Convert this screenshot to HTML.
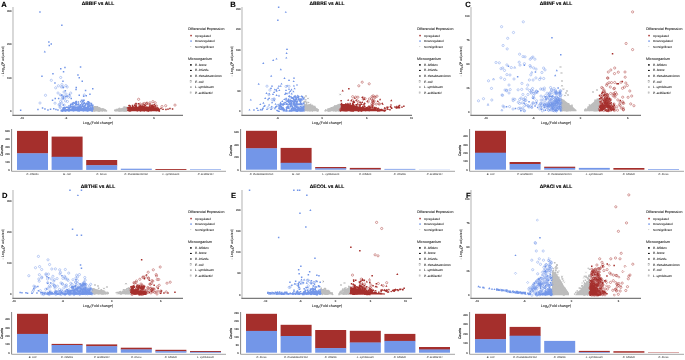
<!DOCTYPE html>
<html><head><meta charset="utf-8"><style>
html,body{margin:0;padding:0;background:#fff;width:685px;height:360px;overflow:hidden}
svg{display:block;will-change:transform}
text{font-family:"Liberation Sans",sans-serif;text-rendering:geometricPrecision}
</style></head><body>
<svg width="685" height="360" viewBox="0 0 685 360">
<rect width="685" height="360" fill="#fff"/>
<line x1="13" y1="7" x2="13" y2="115.4" stroke="#c4c4c4" stroke-width="1.3"/>
<line x1="12.4" y1="115.4" x2="183" y2="115.4" stroke="#7a7a7a" stroke-width="1.1"/>
<text x="1.20" y="7.40" font-size="7.6" text-anchor="start" font-weight="bold" font-style="normal" fill="#000" stroke="#000" stroke-width="0.12" >A</text>
<text x="98.00" y="4.90" font-size="4.9" text-anchor="middle" font-weight="bold" font-style="normal" fill="#000" stroke="#000" stroke-width="0.12" >ΔBBIF vs ALL</text>
<text x="11.60" y="112.00" font-size="2.7" text-anchor="end" font-weight="normal" font-style="normal" fill="#444" stroke="#444" stroke-width="0.12" >0</text>
<text x="11.60" y="78.50" font-size="2.7" text-anchor="end" font-weight="normal" font-style="normal" fill="#444" stroke="#444" stroke-width="0.12" >100</text>
<text x="11.60" y="45.00" font-size="2.7" text-anchor="end" font-weight="normal" font-style="normal" fill="#444" stroke="#444" stroke-width="0.12" >200</text>
<text x="11.60" y="11.50" font-size="2.7" text-anchor="end" font-weight="normal" font-style="normal" fill="#444" stroke="#444" stroke-width="0.12" >300</text>
<text x="22.00" y="119.40" font-size="2.7" text-anchor="middle" font-weight="normal" font-style="normal" fill="#444" stroke="#444" stroke-width="0.12" >-10</text>
<text x="66.00" y="119.40" font-size="2.7" text-anchor="middle" font-weight="normal" font-style="normal" fill="#444" stroke="#444" stroke-width="0.12" >-5</text>
<text x="110.00" y="119.40" font-size="2.7" text-anchor="middle" font-weight="normal" font-style="normal" fill="#444" stroke="#444" stroke-width="0.12" >0</text>
<text x="154.00" y="119.40" font-size="2.7" text-anchor="middle" font-weight="normal" font-style="normal" fill="#444" stroke="#444" stroke-width="0.12" >5</text>
<text x="98" y="123.9" font-size="3.7" text-anchor="middle" fill="#111" stroke="#111" stroke-width="0.04">Log<tspan font-size="2.6" dy="0.8">2</tspan><tspan dy="-0.8">(Fold change)</tspan></text>
<text transform="translate(3.9,61.3) rotate(-90)" font-size="3.6" text-anchor="middle" fill="#111" stroke="#111" stroke-width="0.04">- Log<tspan font-size="2.5" dy="0.7">10</tspan><tspan dy="-0.7">(P adjusted)</tspan></text>
<text x="188.00" y="30.20" font-size="3.57" text-anchor="start" font-weight="normal" font-style="normal" fill="#222" stroke="#222" stroke-width="0.06" >Differencial Expression</text>
<rect x="190.3" y="34.85" width="1.5" height="1.5" fill="#a52f2c"/>
<text x="195.00" y="36.60" font-size="2.92" text-anchor="start" font-weight="normal" font-style="normal" fill="#222" stroke="#222" stroke-width="0.06" >Upregulated</text>
<rect x="190.3" y="40.35" width="1.5" height="1.5" fill="#7396e8"/>
<text x="195.00" y="42.10" font-size="2.92" text-anchor="start" font-weight="normal" font-style="normal" fill="#222" stroke="#222" stroke-width="0.06" >Downregulated</text>
<rect x="190.3" y="46.15" width="0.9" height="0.9" fill="#bdbdbd"/>
<text x="195.00" y="47.60" font-size="2.92" text-anchor="start" font-weight="normal" font-style="normal" fill="#222" stroke="#222" stroke-width="0.06" >Not Significant</text>
<text x="188.00" y="59.80" font-size="3.67" text-anchor="start" font-weight="normal" font-style="normal" fill="#222" stroke="#222" stroke-width="0.06" >Microorganism</text>
<rect x="190.1" y="64.10000000000001" width="1.6" height="1.6" fill="#111"/>
<text x="195.00" y="65.90" font-size="3.1" text-anchor="start" font-weight="normal" font-style="italic" fill="#222" stroke="#222" stroke-width="0.06" >B. breve</text>
<rect x="190.0" y="69.9" width="1.8" height="1.1" fill="#111"/>
<text x="195.00" y="71.45" font-size="3.1" text-anchor="start" font-weight="normal" font-style="italic" fill="#222" stroke="#222" stroke-width="0.06" >B. infantis</text>
<rect x="190.15" y="75.25" width="1.5" height="1.5" fill="#444"/>
<text x="195.00" y="77.00" font-size="3.1" text-anchor="start" font-weight="normal" font-style="italic" fill="#222" stroke="#222" stroke-width="0.06" >B. thetaiotaomicron</text>
<rect x="190.1" y="80.75000000000001" width="1.6" height="1.6" fill="none" stroke="#999" stroke-width="0.45"/>
<text x="195.00" y="82.55" font-size="3.1" text-anchor="start" font-weight="normal" font-style="italic" fill="#222" stroke="#222" stroke-width="0.06" >E. coli</text>
<rect x="190.20000000000002" y="86.4" width="1.4" height="1.4" fill="#888"/>
<text x="195.00" y="88.10" font-size="3.1" text-anchor="start" font-weight="normal" font-style="italic" fill="#222" stroke="#222" stroke-width="0.06" >L. symbiosum</text>
<rect x="190.1" y="91.85000000000001" width="1.6" height="1.6" fill="none" stroke="#aaa" stroke-width="0.45"/>
<text x="195.00" y="93.65" font-size="3.1" text-anchor="start" font-weight="normal" font-style="italic" fill="#222" stroke="#222" stroke-width="0.06" >P. acidilactici</text>
<line x1="11.6" y1="129" x2="11.6" y2="171.3" stroke="#555" stroke-width="0.7"/>
<line x1="11.6" y1="171.3" x2="226" y2="171.3" stroke="#9a9a9a" stroke-width="0.9"/>
<text x="9.80" y="170.90" font-size="2.7" text-anchor="end" font-weight="normal" font-style="normal" fill="#444" stroke="#444" stroke-width="0.12" >0</text>
<text x="9.80" y="163.10" font-size="2.7" text-anchor="end" font-weight="normal" font-style="normal" fill="#444" stroke="#444" stroke-width="0.12" >100</text>
<text x="9.80" y="155.30" font-size="2.7" text-anchor="end" font-weight="normal" font-style="normal" fill="#444" stroke="#444" stroke-width="0.12" >200</text>
<text x="9.80" y="147.50" font-size="2.7" text-anchor="end" font-weight="normal" font-style="normal" fill="#444" stroke="#444" stroke-width="0.12" >300</text>
<text x="9.80" y="139.70" font-size="2.7" text-anchor="end" font-weight="normal" font-style="normal" fill="#444" stroke="#444" stroke-width="0.12" >400</text>
<text x="9.80" y="131.90" font-size="2.7" text-anchor="end" font-weight="normal" font-style="normal" fill="#444" stroke="#444" stroke-width="0.12" >500</text>
<text transform="translate(3.4,150.5) rotate(-90)" font-size="3.5" text-anchor="middle" fill="#111" stroke="#111" stroke-width="0.14">Counts</text>
<rect x="17.00" y="130.90" width="31" height="22.70" fill="#a52f2c"/>
<rect x="17.00" y="153.30" width="31" height="16.60" fill="#7396e8"/>
<text x="32.50" y="175.40" font-size="2.76" text-anchor="middle" font-weight="normal" font-style="italic" fill="#333" stroke="#333" stroke-width="0.02" >B. infantis</text>
<rect x="51.60" y="136.60" width="31" height="20.50" fill="#a52f2c"/>
<rect x="51.60" y="156.80" width="31" height="13.10" fill="#7396e8"/>
<text x="67.10" y="175.40" font-size="2.76" text-anchor="middle" font-weight="normal" font-style="italic" fill="#333" stroke="#333" stroke-width="0.02" >E. coli</text>
<rect x="86.20" y="160.00" width="31" height="5.50" fill="#a52f2c"/>
<rect x="86.20" y="165.20" width="31" height="4.70" fill="#7396e8"/>
<text x="101.70" y="175.40" font-size="2.76" text-anchor="middle" font-weight="normal" font-style="italic" fill="#333" stroke="#333" stroke-width="0.02" >B. breve</text>
<rect x="120.80" y="168.70" width="31" height="1.20" fill="#7396e8"/>
<text x="136.30" y="175.40" font-size="2.76" text-anchor="middle" font-weight="normal" font-style="italic" fill="#333" stroke="#333" stroke-width="0.02" >B. thetaiotaomicron</text>
<rect x="155.40" y="169.00" width="31" height="0.90" fill="#a52f2c"/>
<text x="170.90" y="175.40" font-size="2.76" text-anchor="middle" font-weight="normal" font-style="italic" fill="#333" stroke="#333" stroke-width="0.02" >L. symbiosum</text>
<rect x="190.00" y="169.30" width="31" height="0.60" fill="#7396e8"/>
<text x="205.50" y="175.40" font-size="2.76" text-anchor="middle" font-weight="normal" font-style="italic" fill="#333" stroke="#333" stroke-width="0.02" >P. acidilactici</text>
<line x1="242" y1="7" x2="242" y2="115.4" stroke="#c4c4c4" stroke-width="1.3"/>
<line x1="241.4" y1="115.4" x2="412" y2="115.4" stroke="#7a7a7a" stroke-width="1.1"/>
<text x="230.20" y="7.40" font-size="7.6" text-anchor="start" font-weight="bold" font-style="normal" fill="#000" stroke="#000" stroke-width="0.12" >B</text>
<text x="327.00" y="4.90" font-size="4.9" text-anchor="middle" font-weight="bold" font-style="normal" fill="#000" stroke="#000" stroke-width="0.12" >ΔBBRE vs ALL</text>
<text x="240.60" y="112.20" font-size="2.7" text-anchor="end" font-weight="normal" font-style="normal" fill="#444" stroke="#444" stroke-width="0.12" >0</text>
<text x="240.60" y="91.70" font-size="2.7" text-anchor="end" font-weight="normal" font-style="normal" fill="#444" stroke="#444" stroke-width="0.12" >50</text>
<text x="240.60" y="71.20" font-size="2.7" text-anchor="end" font-weight="normal" font-style="normal" fill="#444" stroke="#444" stroke-width="0.12" >100</text>
<text x="240.60" y="50.70" font-size="2.7" text-anchor="end" font-weight="normal" font-style="normal" fill="#444" stroke="#444" stroke-width="0.12" >150</text>
<text x="240.60" y="30.20" font-size="2.7" text-anchor="end" font-weight="normal" font-style="normal" fill="#444" stroke="#444" stroke-width="0.12" >200</text>
<text x="240.60" y="9.70" font-size="2.7" text-anchor="end" font-weight="normal" font-style="normal" fill="#444" stroke="#444" stroke-width="0.12" >250</text>
<text x="277.60" y="119.40" font-size="2.7" text-anchor="middle" font-weight="normal" font-style="normal" fill="#444" stroke="#444" stroke-width="0.12" >-5</text>
<text x="322.20" y="119.40" font-size="2.7" text-anchor="middle" font-weight="normal" font-style="normal" fill="#444" stroke="#444" stroke-width="0.12" >0</text>
<text x="366.80" y="119.40" font-size="2.7" text-anchor="middle" font-weight="normal" font-style="normal" fill="#444" stroke="#444" stroke-width="0.12" >5</text>
<text x="411.40" y="119.40" font-size="2.7" text-anchor="middle" font-weight="normal" font-style="normal" fill="#444" stroke="#444" stroke-width="0.12" >10</text>
<text x="327" y="123.9" font-size="3.7" text-anchor="middle" fill="#111" stroke="#111" stroke-width="0.04">Log<tspan font-size="2.6" dy="0.8">2</tspan><tspan dy="-0.8">(Fold change)</tspan></text>
<text transform="translate(232.9,61.3) rotate(-90)" font-size="3.6" text-anchor="middle" fill="#111" stroke="#111" stroke-width="0.04">- Log<tspan font-size="2.5" dy="0.7">10</tspan><tspan dy="-0.7">(P adjusted)</tspan></text>
<text x="417.00" y="30.20" font-size="3.57" text-anchor="start" font-weight="normal" font-style="normal" fill="#222" stroke="#222" stroke-width="0.06" >Differencial Expression</text>
<rect x="419.3" y="34.85" width="1.5" height="1.5" fill="#a52f2c"/>
<text x="424.00" y="36.60" font-size="2.92" text-anchor="start" font-weight="normal" font-style="normal" fill="#222" stroke="#222" stroke-width="0.06" >Upregulated</text>
<rect x="419.3" y="40.35" width="1.5" height="1.5" fill="#7396e8"/>
<text x="424.00" y="42.10" font-size="2.92" text-anchor="start" font-weight="normal" font-style="normal" fill="#222" stroke="#222" stroke-width="0.06" >Downregulated</text>
<rect x="419.3" y="46.15" width="0.9" height="0.9" fill="#bdbdbd"/>
<text x="424.00" y="47.60" font-size="2.92" text-anchor="start" font-weight="normal" font-style="normal" fill="#222" stroke="#222" stroke-width="0.06" >Not Significant</text>
<text x="417.00" y="59.80" font-size="3.67" text-anchor="start" font-weight="normal" font-style="normal" fill="#222" stroke="#222" stroke-width="0.06" >Microorganism</text>
<rect x="419.09999999999997" y="64.10000000000001" width="1.6" height="1.6" fill="#111"/>
<text x="424.00" y="65.90" font-size="3.1" text-anchor="start" font-weight="normal" font-style="italic" fill="#222" stroke="#222" stroke-width="0.06" >B. bifidum</text>
<rect x="419.0" y="69.9" width="1.8" height="1.1" fill="#111"/>
<text x="424.00" y="71.45" font-size="3.1" text-anchor="start" font-weight="normal" font-style="italic" fill="#222" stroke="#222" stroke-width="0.06" >B. infantis</text>
<rect x="419.15" y="75.25" width="1.5" height="1.5" fill="#444"/>
<text x="424.00" y="77.00" font-size="3.1" text-anchor="start" font-weight="normal" font-style="italic" fill="#222" stroke="#222" stroke-width="0.06" >B. thetaiotaomicron</text>
<rect x="419.09999999999997" y="80.75000000000001" width="1.6" height="1.6" fill="none" stroke="#999" stroke-width="0.45"/>
<text x="424.00" y="82.55" font-size="3.1" text-anchor="start" font-weight="normal" font-style="italic" fill="#222" stroke="#222" stroke-width="0.06" >E. coli</text>
<rect x="419.2" y="86.4" width="1.4" height="1.4" fill="#888"/>
<text x="424.00" y="88.10" font-size="3.1" text-anchor="start" font-weight="normal" font-style="italic" fill="#222" stroke="#222" stroke-width="0.06" >L. symbiosum</text>
<rect x="419.09999999999997" y="91.85000000000001" width="1.6" height="1.6" fill="none" stroke="#aaa" stroke-width="0.45"/>
<text x="424.00" y="93.65" font-size="3.1" text-anchor="start" font-weight="normal" font-style="italic" fill="#222" stroke="#222" stroke-width="0.06" >P. acidilactici</text>
<line x1="240.6" y1="129" x2="240.6" y2="171.3" stroke="#555" stroke-width="0.7"/>
<line x1="240.6" y1="171.3" x2="455" y2="171.3" stroke="#9a9a9a" stroke-width="0.9"/>
<text x="238.80" y="170.70" font-size="2.7" text-anchor="end" font-weight="normal" font-style="normal" fill="#444" stroke="#444" stroke-width="0.12" >0</text>
<text x="238.80" y="158.20" font-size="2.7" text-anchor="end" font-weight="normal" font-style="normal" fill="#444" stroke="#444" stroke-width="0.12" >200</text>
<text x="238.80" y="145.70" font-size="2.7" text-anchor="end" font-weight="normal" font-style="normal" fill="#444" stroke="#444" stroke-width="0.12" >400</text>
<text x="238.80" y="133.20" font-size="2.7" text-anchor="end" font-weight="normal" font-style="normal" fill="#444" stroke="#444" stroke-width="0.12" >600</text>
<text transform="translate(232.4,150.5) rotate(-90)" font-size="3.5" text-anchor="middle" fill="#111" stroke="#111" stroke-width="0.14">Counts</text>
<rect x="246.00" y="130.80" width="31" height="17.80" fill="#a52f2c"/>
<rect x="246.00" y="148.30" width="31" height="21.40" fill="#7396e8"/>
<text x="261.50" y="175.40" font-size="2.76" text-anchor="middle" font-weight="normal" font-style="italic" fill="#333" stroke="#333" stroke-width="0.02" >B. thetaiotaomicron</text>
<rect x="280.60" y="147.90" width="31" height="15.20" fill="#a52f2c"/>
<rect x="280.60" y="162.80" width="31" height="6.90" fill="#7396e8"/>
<text x="296.10" y="175.40" font-size="2.76" text-anchor="middle" font-weight="normal" font-style="italic" fill="#333" stroke="#333" stroke-width="0.02" >E. coli</text>
<rect x="315.20" y="167.00" width="31" height="1.60" fill="#a52f2c"/>
<rect x="315.20" y="168.30" width="31" height="1.40" fill="#7396e8"/>
<text x="330.70" y="175.40" font-size="2.76" text-anchor="middle" font-weight="normal" font-style="italic" fill="#333" stroke="#333" stroke-width="0.02" >L. symbiosum</text>
<rect x="349.80" y="167.90" width="31" height="1.70" fill="#a52f2c"/>
<rect x="349.80" y="169.30" width="31" height="0.40" fill="#7396e8"/>
<text x="365.30" y="175.40" font-size="2.76" text-anchor="middle" font-weight="normal" font-style="italic" fill="#333" stroke="#333" stroke-width="0.02" >B. bifidum</text>
<rect x="384.40" y="168.90" width="31" height="0.80" fill="#7396e8"/>
<text x="399.90" y="175.40" font-size="2.76" text-anchor="middle" font-weight="normal" font-style="italic" fill="#333" stroke="#333" stroke-width="0.02" >B. infantis</text>
<rect x="419.00" y="169.50" width="31" height="0.20" fill="#7396e8"/>
<text x="434.50" y="175.40" font-size="2.76" text-anchor="middle" font-weight="normal" font-style="italic" fill="#333" stroke="#333" stroke-width="0.02" >P. acidilactici</text>
<line x1="471" y1="7" x2="471" y2="115.4" stroke="#c4c4c4" stroke-width="1.3"/>
<line x1="470.4" y1="115.4" x2="641" y2="115.4" stroke="#7a7a7a" stroke-width="1.1"/>
<text x="465.20" y="7.40" font-size="7.6" text-anchor="start" font-weight="bold" font-style="normal" fill="#000" stroke="#000" stroke-width="0.12" >C</text>
<text x="556.00" y="4.90" font-size="4.9" text-anchor="middle" font-weight="bold" font-style="normal" fill="#000" stroke="#000" stroke-width="0.12" >ΔBINF vs ALL</text>
<text x="469.60" y="112.50" font-size="2.7" text-anchor="end" font-weight="normal" font-style="normal" fill="#444" stroke="#444" stroke-width="0.12" >0</text>
<text x="469.60" y="88.60" font-size="2.7" text-anchor="end" font-weight="normal" font-style="normal" fill="#444" stroke="#444" stroke-width="0.12" >25</text>
<text x="469.60" y="64.70" font-size="2.7" text-anchor="end" font-weight="normal" font-style="normal" fill="#444" stroke="#444" stroke-width="0.12" >50</text>
<text x="469.60" y="40.80" font-size="2.7" text-anchor="end" font-weight="normal" font-style="normal" fill="#444" stroke="#444" stroke-width="0.12" >75</text>
<text x="469.60" y="16.90" font-size="2.7" text-anchor="end" font-weight="normal" font-style="normal" fill="#444" stroke="#444" stroke-width="0.12" >100</text>
<text x="485.90" y="119.40" font-size="2.7" text-anchor="middle" font-weight="normal" font-style="normal" fill="#444" stroke="#444" stroke-width="0.12" >-10</text>
<text x="533.20" y="119.40" font-size="2.7" text-anchor="middle" font-weight="normal" font-style="normal" fill="#444" stroke="#444" stroke-width="0.12" >-5</text>
<text x="580.50" y="119.40" font-size="2.7" text-anchor="middle" font-weight="normal" font-style="normal" fill="#444" stroke="#444" stroke-width="0.12" >0</text>
<text x="627.80" y="119.40" font-size="2.7" text-anchor="middle" font-weight="normal" font-style="normal" fill="#444" stroke="#444" stroke-width="0.12" >5</text>
<text x="556" y="123.9" font-size="3.7" text-anchor="middle" fill="#111" stroke="#111" stroke-width="0.04">Log<tspan font-size="2.6" dy="0.8">2</tspan><tspan dy="-0.8">(Fold change)</tspan></text>
<text transform="translate(461.9,61.3) rotate(-90)" font-size="3.6" text-anchor="middle" fill="#111" stroke="#111" stroke-width="0.04">- Log<tspan font-size="2.5" dy="0.7">10</tspan><tspan dy="-0.7">(P adjusted)</tspan></text>
<text x="646.00" y="30.20" font-size="3.57" text-anchor="start" font-weight="normal" font-style="normal" fill="#222" stroke="#222" stroke-width="0.06" >Differencial Expression</text>
<rect x="648.3" y="34.85" width="1.5" height="1.5" fill="#a52f2c"/>
<text x="653.00" y="36.60" font-size="2.92" text-anchor="start" font-weight="normal" font-style="normal" fill="#222" stroke="#222" stroke-width="0.06" >Upregulated</text>
<rect x="648.3" y="40.35" width="1.5" height="1.5" fill="#7396e8"/>
<text x="653.00" y="42.10" font-size="2.92" text-anchor="start" font-weight="normal" font-style="normal" fill="#222" stroke="#222" stroke-width="0.06" >Downregulated</text>
<rect x="648.3" y="46.15" width="0.9" height="0.9" fill="#bdbdbd"/>
<text x="653.00" y="47.60" font-size="2.92" text-anchor="start" font-weight="normal" font-style="normal" fill="#222" stroke="#222" stroke-width="0.06" >Not Significant</text>
<text x="646.00" y="59.80" font-size="3.67" text-anchor="start" font-weight="normal" font-style="normal" fill="#222" stroke="#222" stroke-width="0.06" >Microorganism</text>
<rect x="648.1" y="64.10000000000001" width="1.6" height="1.6" fill="#111"/>
<text x="653.00" y="65.90" font-size="3.1" text-anchor="start" font-weight="normal" font-style="italic" fill="#222" stroke="#222" stroke-width="0.06" >B. bifidum</text>
<rect x="648.0" y="69.9" width="1.8" height="1.1" fill="#111"/>
<text x="653.00" y="71.45" font-size="3.1" text-anchor="start" font-weight="normal" font-style="italic" fill="#222" stroke="#222" stroke-width="0.06" >B. breve</text>
<rect x="648.15" y="75.25" width="1.5" height="1.5" fill="#444"/>
<text x="653.00" y="77.00" font-size="3.1" text-anchor="start" font-weight="normal" font-style="italic" fill="#222" stroke="#222" stroke-width="0.06" >B. thetaiotaomicron</text>
<rect x="648.1" y="80.75000000000001" width="1.6" height="1.6" fill="none" stroke="#999" stroke-width="0.45"/>
<text x="653.00" y="82.55" font-size="3.1" text-anchor="start" font-weight="normal" font-style="italic" fill="#222" stroke="#222" stroke-width="0.06" >E. coli</text>
<rect x="648.1999999999999" y="86.4" width="1.4" height="1.4" fill="#888"/>
<text x="653.00" y="88.10" font-size="3.1" text-anchor="start" font-weight="normal" font-style="italic" fill="#222" stroke="#222" stroke-width="0.06" >L. symbiosum</text>
<rect x="648.1" y="91.85000000000001" width="1.6" height="1.6" fill="none" stroke="#aaa" stroke-width="0.45"/>
<text x="653.00" y="93.65" font-size="3.1" text-anchor="start" font-weight="normal" font-style="italic" fill="#222" stroke="#222" stroke-width="0.06" >P. acidilactici</text>
<line x1="469.6" y1="129" x2="469.6" y2="171.3" stroke="#555" stroke-width="0.7"/>
<line x1="469.6" y1="171.3" x2="684" y2="171.3" stroke="#9a9a9a" stroke-width="0.9"/>
<text x="467.80" y="170.70" font-size="2.7" text-anchor="end" font-weight="normal" font-style="normal" fill="#444" stroke="#444" stroke-width="0.12" >0</text>
<text x="467.80" y="162.30" font-size="2.7" text-anchor="end" font-weight="normal" font-style="normal" fill="#444" stroke="#444" stroke-width="0.12" >100</text>
<text x="467.80" y="153.90" font-size="2.7" text-anchor="end" font-weight="normal" font-style="normal" fill="#444" stroke="#444" stroke-width="0.12" >200</text>
<text x="467.80" y="145.50" font-size="2.7" text-anchor="end" font-weight="normal" font-style="normal" fill="#444" stroke="#444" stroke-width="0.12" >300</text>
<text x="467.80" y="137.10" font-size="2.7" text-anchor="end" font-weight="normal" font-style="normal" fill="#444" stroke="#444" stroke-width="0.12" >400</text>
<text transform="translate(461.4,150.5) rotate(-90)" font-size="3.5" text-anchor="middle" fill="#111" stroke="#111" stroke-width="0.14">Counts</text>
<rect x="475.00" y="130.80" width="31" height="22.20" fill="#a52f2c"/>
<rect x="475.00" y="152.70" width="31" height="17.00" fill="#7396e8"/>
<text x="490.50" y="175.40" font-size="2.76" text-anchor="middle" font-weight="normal" font-style="italic" fill="#333" stroke="#333" stroke-width="0.02" >E. coli</text>
<rect x="509.60" y="162.00" width="31" height="2.30" fill="#a52f2c"/>
<rect x="509.60" y="164.00" width="31" height="5.70" fill="#7396e8"/>
<text x="525.10" y="175.40" font-size="2.76" text-anchor="middle" font-weight="normal" font-style="italic" fill="#333" stroke="#333" stroke-width="0.02" >P. acidilactici</text>
<rect x="544.20" y="166.70" width="31" height="1.50" fill="#a52f2c"/>
<rect x="544.20" y="167.90" width="31" height="1.80" fill="#7396e8"/>
<text x="559.70" y="175.40" font-size="2.76" text-anchor="middle" font-weight="normal" font-style="italic" fill="#333" stroke="#333" stroke-width="0.02" >B. thetaiotaomicron</text>
<rect x="578.80" y="167.90" width="31" height="1.80" fill="#7396e8"/>
<text x="594.30" y="175.40" font-size="2.76" text-anchor="middle" font-weight="normal" font-style="italic" fill="#333" stroke="#333" stroke-width="0.02" >L. symbiosum</text>
<rect x="613.40" y="168.00" width="31" height="1.70" fill="#a52f2c"/>
<text x="628.90" y="175.40" font-size="2.76" text-anchor="middle" font-weight="normal" font-style="italic" fill="#333" stroke="#333" stroke-width="0.02" >B. bifidum</text>
<rect x="648.00" y="169.00" width="31" height="0.70" fill="#7396e8"/>
<text x="663.50" y="175.40" font-size="2.76" text-anchor="middle" font-weight="normal" font-style="italic" fill="#333" stroke="#333" stroke-width="0.02" >B. breve</text>
<line x1="13" y1="190" x2="13" y2="298.4" stroke="#c4c4c4" stroke-width="1.3"/>
<line x1="12.4" y1="298.4" x2="183" y2="298.4" stroke="#7a7a7a" stroke-width="1.1"/>
<text x="2.00" y="197.80" font-size="7.6" text-anchor="start" font-weight="bold" font-style="normal" fill="#000" stroke="#000" stroke-width="0.12" >D</text>
<text x="98.00" y="187.90" font-size="4.9" text-anchor="middle" font-weight="bold" font-style="normal" fill="#000" stroke="#000" stroke-width="0.12" >ΔBTHE vs ALL</text>
<text x="11.60" y="295.00" font-size="2.7" text-anchor="end" font-weight="normal" font-style="normal" fill="#444" stroke="#444" stroke-width="0.12" >0</text>
<text x="11.60" y="264.00" font-size="2.7" text-anchor="end" font-weight="normal" font-style="normal" fill="#444" stroke="#444" stroke-width="0.12" >100</text>
<text x="11.60" y="233.00" font-size="2.7" text-anchor="end" font-weight="normal" font-style="normal" fill="#444" stroke="#444" stroke-width="0.12" >200</text>
<text x="11.60" y="202.00" font-size="2.7" text-anchor="end" font-weight="normal" font-style="normal" fill="#444" stroke="#444" stroke-width="0.12" >300</text>
<text x="13.90" y="302.40" font-size="2.7" text-anchor="middle" font-weight="normal" font-style="normal" fill="#444" stroke="#444" stroke-width="0.12" >-10</text>
<text x="62.85" y="302.40" font-size="2.7" text-anchor="middle" font-weight="normal" font-style="normal" fill="#444" stroke="#444" stroke-width="0.12" >-5</text>
<text x="111.80" y="302.40" font-size="2.7" text-anchor="middle" font-weight="normal" font-style="normal" fill="#444" stroke="#444" stroke-width="0.12" >0</text>
<text x="160.75" y="302.40" font-size="2.7" text-anchor="middle" font-weight="normal" font-style="normal" fill="#444" stroke="#444" stroke-width="0.12" >5</text>
<text x="98" y="306.9" font-size="3.7" text-anchor="middle" fill="#111" stroke="#111" stroke-width="0.04">Log<tspan font-size="2.6" dy="0.8">2</tspan><tspan dy="-0.8">(Fold change)</tspan></text>
<text transform="translate(3.9,244.3) rotate(-90)" font-size="3.6" text-anchor="middle" fill="#111" stroke="#111" stroke-width="0.04">- Log<tspan font-size="2.5" dy="0.7">10</tspan><tspan dy="-0.7">(P adjusted)</tspan></text>
<text x="188.00" y="213.20" font-size="3.57" text-anchor="start" font-weight="normal" font-style="normal" fill="#222" stroke="#222" stroke-width="0.06" >Differencial Expression</text>
<rect x="190.3" y="217.85" width="1.5" height="1.5" fill="#a52f2c"/>
<text x="195.00" y="219.60" font-size="2.92" text-anchor="start" font-weight="normal" font-style="normal" fill="#222" stroke="#222" stroke-width="0.06" >Upregulated</text>
<rect x="190.3" y="223.35" width="1.5" height="1.5" fill="#7396e8"/>
<text x="195.00" y="225.10" font-size="2.92" text-anchor="start" font-weight="normal" font-style="normal" fill="#222" stroke="#222" stroke-width="0.06" >Downregulated</text>
<rect x="190.3" y="229.15" width="0.9" height="0.9" fill="#bdbdbd"/>
<text x="195.00" y="230.60" font-size="2.92" text-anchor="start" font-weight="normal" font-style="normal" fill="#222" stroke="#222" stroke-width="0.06" >Not Significant</text>
<text x="188.00" y="242.80" font-size="3.67" text-anchor="start" font-weight="normal" font-style="normal" fill="#222" stroke="#222" stroke-width="0.06" >Microorganism</text>
<rect x="190.1" y="247.1" width="1.6" height="1.6" fill="#111"/>
<text x="195.00" y="248.90" font-size="3.1" text-anchor="start" font-weight="normal" font-style="italic" fill="#222" stroke="#222" stroke-width="0.06" >B. bifidum</text>
<rect x="190.0" y="252.89999999999998" width="1.8" height="1.1" fill="#111"/>
<text x="195.00" y="254.45" font-size="3.1" text-anchor="start" font-weight="normal" font-style="italic" fill="#222" stroke="#222" stroke-width="0.06" >B. breve</text>
<rect x="190.15" y="258.25" width="1.5" height="1.5" fill="#444"/>
<text x="195.00" y="260.00" font-size="3.1" text-anchor="start" font-weight="normal" font-style="italic" fill="#222" stroke="#222" stroke-width="0.06" >B. infantis</text>
<rect x="190.1" y="263.75" width="1.6" height="1.6" fill="none" stroke="#999" stroke-width="0.45"/>
<text x="195.00" y="265.55" font-size="3.1" text-anchor="start" font-weight="normal" font-style="italic" fill="#222" stroke="#222" stroke-width="0.06" >E. coli</text>
<rect x="190.20000000000002" y="269.40000000000003" width="1.4" height="1.4" fill="#888"/>
<text x="195.00" y="271.10" font-size="3.1" text-anchor="start" font-weight="normal" font-style="italic" fill="#222" stroke="#222" stroke-width="0.06" >L. symbiosum</text>
<rect x="190.1" y="274.84999999999997" width="1.6" height="1.6" fill="none" stroke="#aaa" stroke-width="0.45"/>
<text x="195.00" y="276.65" font-size="3.1" text-anchor="start" font-weight="normal" font-style="italic" fill="#222" stroke="#222" stroke-width="0.06" >P. acidilactici</text>
<line x1="11.6" y1="312" x2="11.6" y2="354.3" stroke="#555" stroke-width="0.7"/>
<line x1="11.6" y1="354.3" x2="226" y2="354.3" stroke="#9a9a9a" stroke-width="0.9"/>
<text x="9.80" y="353.70" font-size="2.7" text-anchor="end" font-weight="normal" font-style="normal" fill="#444" stroke="#444" stroke-width="0.12" >0</text>
<text x="9.80" y="345.35" font-size="2.7" text-anchor="end" font-weight="normal" font-style="normal" fill="#444" stroke="#444" stroke-width="0.12" >100</text>
<text x="9.80" y="337.00" font-size="2.7" text-anchor="end" font-weight="normal" font-style="normal" fill="#444" stroke="#444" stroke-width="0.12" >200</text>
<text x="9.80" y="328.65" font-size="2.7" text-anchor="end" font-weight="normal" font-style="normal" fill="#444" stroke="#444" stroke-width="0.12" >300</text>
<text x="9.80" y="320.30" font-size="2.7" text-anchor="end" font-weight="normal" font-style="normal" fill="#444" stroke="#444" stroke-width="0.12" >400</text>
<text transform="translate(3.4,333.5) rotate(-90)" font-size="3.5" text-anchor="middle" fill="#111" stroke="#111" stroke-width="0.14">Counts</text>
<rect x="17.00" y="313.80" width="31" height="20.40" fill="#a52f2c"/>
<rect x="17.00" y="333.90" width="31" height="18.80" fill="#7396e8"/>
<text x="32.50" y="358.40" font-size="2.76" text-anchor="middle" font-weight="normal" font-style="italic" fill="#333" stroke="#333" stroke-width="0.02" >E. coli</text>
<rect x="51.60" y="343.90" width="31" height="1.40" fill="#a52f2c"/>
<rect x="51.60" y="345.00" width="31" height="7.70" fill="#7396e8"/>
<text x="67.10" y="358.40" font-size="2.76" text-anchor="middle" font-weight="normal" font-style="italic" fill="#333" stroke="#333" stroke-width="0.02" >B. infantis</text>
<rect x="86.20" y="344.40" width="31" height="2.10" fill="#a52f2c"/>
<rect x="86.20" y="346.20" width="31" height="6.50" fill="#7396e8"/>
<text x="101.70" y="358.40" font-size="2.76" text-anchor="middle" font-weight="normal" font-style="italic" fill="#333" stroke="#333" stroke-width="0.02" >P. acidilactici</text>
<rect x="120.80" y="347.70" width="31" height="2.00" fill="#a52f2c"/>
<rect x="120.80" y="349.40" width="31" height="3.30" fill="#7396e8"/>
<text x="136.30" y="358.40" font-size="2.76" text-anchor="middle" font-weight="normal" font-style="italic" fill="#333" stroke="#333" stroke-width="0.02" >B. breve</text>
<rect x="155.40" y="349.80" width="31" height="1.70" fill="#a52f2c"/>
<rect x="155.40" y="351.20" width="31" height="1.50" fill="#7396e8"/>
<text x="170.90" y="358.40" font-size="2.76" text-anchor="middle" font-weight="normal" font-style="italic" fill="#333" stroke="#333" stroke-width="0.02" >B. bifidum</text>
<rect x="190.00" y="351.00" width="31" height="1.20" fill="#a52f2c"/>
<rect x="190.00" y="351.90" width="31" height="0.80" fill="#7396e8"/>
<text x="205.50" y="358.40" font-size="2.76" text-anchor="middle" font-weight="normal" font-style="italic" fill="#333" stroke="#333" stroke-width="0.02" >L. symbiosum</text>
<line x1="242" y1="190" x2="242" y2="298.4" stroke="#c4c4c4" stroke-width="1.3"/>
<line x1="241.4" y1="298.4" x2="412" y2="298.4" stroke="#7a7a7a" stroke-width="1.1"/>
<text x="231.00" y="197.80" font-size="7.6" text-anchor="start" font-weight="bold" font-style="normal" fill="#000" stroke="#000" stroke-width="0.12" >E</text>
<text x="327.00" y="187.90" font-size="4.9" text-anchor="middle" font-weight="bold" font-style="normal" fill="#000" stroke="#000" stroke-width="0.12" >ΔECOL vs ALL</text>
<text x="240.60" y="295.50" font-size="2.7" text-anchor="end" font-weight="normal" font-style="normal" fill="#444" stroke="#444" stroke-width="0.12" >0</text>
<text x="240.60" y="274.25" font-size="2.7" text-anchor="end" font-weight="normal" font-style="normal" fill="#444" stroke="#444" stroke-width="0.12" >50</text>
<text x="240.60" y="253.00" font-size="2.7" text-anchor="end" font-weight="normal" font-style="normal" fill="#444" stroke="#444" stroke-width="0.12" >100</text>
<text x="240.60" y="231.75" font-size="2.7" text-anchor="end" font-weight="normal" font-style="normal" fill="#444" stroke="#444" stroke-width="0.12" >150</text>
<text x="240.60" y="210.50" font-size="2.7" text-anchor="end" font-weight="normal" font-style="normal" fill="#444" stroke="#444" stroke-width="0.12" >200</text>
<text x="265.40" y="302.40" font-size="2.7" text-anchor="middle" font-weight="normal" font-style="normal" fill="#444" stroke="#444" stroke-width="0.12" >-10</text>
<text x="300.40" y="302.40" font-size="2.7" text-anchor="middle" font-weight="normal" font-style="normal" fill="#444" stroke="#444" stroke-width="0.12" >-5</text>
<text x="335.40" y="302.40" font-size="2.7" text-anchor="middle" font-weight="normal" font-style="normal" fill="#444" stroke="#444" stroke-width="0.12" >0</text>
<text x="370.40" y="302.40" font-size="2.7" text-anchor="middle" font-weight="normal" font-style="normal" fill="#444" stroke="#444" stroke-width="0.12" >5</text>
<text x="405.40" y="302.40" font-size="2.7" text-anchor="middle" font-weight="normal" font-style="normal" fill="#444" stroke="#444" stroke-width="0.12" >10</text>
<text x="327" y="306.9" font-size="3.7" text-anchor="middle" fill="#111" stroke="#111" stroke-width="0.04">Log<tspan font-size="2.6" dy="0.8">2</tspan><tspan dy="-0.8">(Fold change)</tspan></text>
<text transform="translate(232.9,244.3) rotate(-90)" font-size="3.6" text-anchor="middle" fill="#111" stroke="#111" stroke-width="0.04">- Log<tspan font-size="2.5" dy="0.7">10</tspan><tspan dy="-0.7">(P adjusted)</tspan></text>
<text x="417.00" y="213.20" font-size="3.57" text-anchor="start" font-weight="normal" font-style="normal" fill="#222" stroke="#222" stroke-width="0.06" >Differencial Expression</text>
<rect x="419.3" y="217.85" width="1.5" height="1.5" fill="#a52f2c"/>
<text x="424.00" y="219.60" font-size="2.92" text-anchor="start" font-weight="normal" font-style="normal" fill="#222" stroke="#222" stroke-width="0.06" >Upregulated</text>
<rect x="419.3" y="223.35" width="1.5" height="1.5" fill="#7396e8"/>
<text x="424.00" y="225.10" font-size="2.92" text-anchor="start" font-weight="normal" font-style="normal" fill="#222" stroke="#222" stroke-width="0.06" >Downregulated</text>
<rect x="419.3" y="229.15" width="0.9" height="0.9" fill="#bdbdbd"/>
<text x="424.00" y="230.60" font-size="2.92" text-anchor="start" font-weight="normal" font-style="normal" fill="#222" stroke="#222" stroke-width="0.06" >Not Significant</text>
<text x="417.00" y="242.80" font-size="3.67" text-anchor="start" font-weight="normal" font-style="normal" fill="#222" stroke="#222" stroke-width="0.06" >Microorganism</text>
<rect x="419.09999999999997" y="247.1" width="1.6" height="1.6" fill="#111"/>
<text x="424.00" y="248.90" font-size="3.1" text-anchor="start" font-weight="normal" font-style="italic" fill="#222" stroke="#222" stroke-width="0.06" >B. bifidum</text>
<rect x="419.0" y="252.89999999999998" width="1.8" height="1.1" fill="#111"/>
<text x="424.00" y="254.45" font-size="3.1" text-anchor="start" font-weight="normal" font-style="italic" fill="#222" stroke="#222" stroke-width="0.06" >B. breve</text>
<rect x="419.15" y="258.25" width="1.5" height="1.5" fill="#444"/>
<text x="424.00" y="260.00" font-size="3.1" text-anchor="start" font-weight="normal" font-style="italic" fill="#222" stroke="#222" stroke-width="0.06" >B. infantis</text>
<rect x="419.09999999999997" y="263.75" width="1.6" height="1.6" fill="none" stroke="#999" stroke-width="0.45"/>
<text x="424.00" y="265.55" font-size="3.1" text-anchor="start" font-weight="normal" font-style="italic" fill="#222" stroke="#222" stroke-width="0.06" >B. thetaiotaomicron</text>
<rect x="419.2" y="269.40000000000003" width="1.4" height="1.4" fill="#888"/>
<text x="424.00" y="271.10" font-size="3.1" text-anchor="start" font-weight="normal" font-style="italic" fill="#222" stroke="#222" stroke-width="0.06" >L. symbiosum</text>
<rect x="419.09999999999997" y="274.84999999999997" width="1.6" height="1.6" fill="none" stroke="#aaa" stroke-width="0.45"/>
<text x="424.00" y="276.65" font-size="3.1" text-anchor="start" font-weight="normal" font-style="italic" fill="#222" stroke="#222" stroke-width="0.06" >P. acidilactici</text>
<line x1="240.6" y1="312" x2="240.6" y2="354.3" stroke="#555" stroke-width="0.7"/>
<line x1="240.6" y1="354.3" x2="455" y2="354.3" stroke="#9a9a9a" stroke-width="0.9"/>
<text x="238.80" y="353.70" font-size="2.7" text-anchor="end" font-weight="normal" font-style="normal" fill="#444" stroke="#444" stroke-width="0.12" >0</text>
<text x="238.80" y="345.74" font-size="2.7" text-anchor="end" font-weight="normal" font-style="normal" fill="#444" stroke="#444" stroke-width="0.12" >50</text>
<text x="238.80" y="337.78" font-size="2.7" text-anchor="end" font-weight="normal" font-style="normal" fill="#444" stroke="#444" stroke-width="0.12" >100</text>
<text x="238.80" y="329.82" font-size="2.7" text-anchor="end" font-weight="normal" font-style="normal" fill="#444" stroke="#444" stroke-width="0.12" >150</text>
<text x="238.80" y="321.86" font-size="2.7" text-anchor="end" font-weight="normal" font-style="normal" fill="#444" stroke="#444" stroke-width="0.12" >200</text>
<text x="238.80" y="313.90" font-size="2.7" text-anchor="end" font-weight="normal" font-style="normal" fill="#444" stroke="#444" stroke-width="0.12" >250</text>
<text transform="translate(232.4,333.5) rotate(-90)" font-size="3.5" text-anchor="middle" fill="#111" stroke="#111" stroke-width="0.14">Counts</text>
<rect x="246.00" y="313.80" width="31" height="17.40" fill="#a52f2c"/>
<rect x="246.00" y="330.90" width="31" height="21.80" fill="#7396e8"/>
<text x="261.50" y="358.40" font-size="2.76" text-anchor="middle" font-weight="normal" font-style="italic" fill="#333" stroke="#333" stroke-width="0.02" >B. breve</text>
<rect x="280.60" y="324.80" width="31" height="11.50" fill="#a52f2c"/>
<rect x="280.60" y="336.00" width="31" height="16.70" fill="#7396e8"/>
<text x="296.10" y="358.40" font-size="2.76" text-anchor="middle" font-weight="normal" font-style="italic" fill="#333" stroke="#333" stroke-width="0.02" >B. thetaiotaomicron</text>
<rect x="315.20" y="330.00" width="31" height="18.40" fill="#a52f2c"/>
<rect x="315.20" y="348.10" width="31" height="4.60" fill="#7396e8"/>
<text x="330.70" y="358.40" font-size="2.76" text-anchor="middle" font-weight="normal" font-style="italic" fill="#333" stroke="#333" stroke-width="0.02" >B. infantis</text>
<rect x="349.80" y="330.80" width="31" height="12.00" fill="#a52f2c"/>
<rect x="349.80" y="342.50" width="31" height="10.20" fill="#7396e8"/>
<text x="365.30" y="358.40" font-size="2.76" text-anchor="middle" font-weight="normal" font-style="italic" fill="#333" stroke="#333" stroke-width="0.02" >L. symbiosum</text>
<rect x="384.40" y="333.90" width="31" height="7.30" fill="#a52f2c"/>
<rect x="384.40" y="340.90" width="31" height="11.80" fill="#7396e8"/>
<text x="399.90" y="358.40" font-size="2.76" text-anchor="middle" font-weight="normal" font-style="italic" fill="#333" stroke="#333" stroke-width="0.02" >B. bifidum</text>
<rect x="419.00" y="347.00" width="31" height="2.80" fill="#a52f2c"/>
<rect x="419.00" y="349.50" width="31" height="3.20" fill="#7396e8"/>
<text x="434.50" y="358.40" font-size="2.76" text-anchor="middle" font-weight="normal" font-style="italic" fill="#333" stroke="#333" stroke-width="0.02" >P. acidilactici</text>
<line x1="471" y1="190" x2="471" y2="298.4" stroke="#c4c4c4" stroke-width="1.3"/>
<line x1="470.4" y1="298.4" x2="641" y2="298.4" stroke="#7a7a7a" stroke-width="1.1"/>
<text x="466.00" y="197.80" font-size="7.6" text-anchor="start" font-weight="bold" font-style="normal" fill="#000" stroke="#000" stroke-width="0.12" >F</text>
<text x="556.00" y="187.90" font-size="4.9" text-anchor="middle" font-weight="bold" font-style="normal" fill="#000" stroke="#000" stroke-width="0.12" >ΔPACI vs ALL</text>
<text x="469.60" y="296.00" font-size="2.7" text-anchor="end" font-weight="normal" font-style="normal" fill="#444" stroke="#444" stroke-width="0.12" >0</text>
<text x="469.60" y="271.90" font-size="2.7" text-anchor="end" font-weight="normal" font-style="normal" fill="#444" stroke="#444" stroke-width="0.12" >25</text>
<text x="469.60" y="247.80" font-size="2.7" text-anchor="end" font-weight="normal" font-style="normal" fill="#444" stroke="#444" stroke-width="0.12" >50</text>
<text x="469.60" y="223.70" font-size="2.7" text-anchor="end" font-weight="normal" font-style="normal" fill="#444" stroke="#444" stroke-width="0.12" >75</text>
<text x="469.60" y="199.60" font-size="2.7" text-anchor="end" font-weight="normal" font-style="normal" fill="#444" stroke="#444" stroke-width="0.12" >100</text>
<text x="477.00" y="302.40" font-size="2.7" text-anchor="middle" font-weight="normal" font-style="normal" fill="#444" stroke="#444" stroke-width="0.12" >-10</text>
<text x="524.20" y="302.40" font-size="2.7" text-anchor="middle" font-weight="normal" font-style="normal" fill="#444" stroke="#444" stroke-width="0.12" >-5</text>
<text x="571.40" y="302.40" font-size="2.7" text-anchor="middle" font-weight="normal" font-style="normal" fill="#444" stroke="#444" stroke-width="0.12" >0</text>
<text x="618.60" y="302.40" font-size="2.7" text-anchor="middle" font-weight="normal" font-style="normal" fill="#444" stroke="#444" stroke-width="0.12" >5</text>
<text x="556" y="306.9" font-size="3.7" text-anchor="middle" fill="#111" stroke="#111" stroke-width="0.04">Log<tspan font-size="2.6" dy="0.8">2</tspan><tspan dy="-0.8">(Fold change)</tspan></text>
<text transform="translate(461.9,244.3) rotate(-90)" font-size="3.6" text-anchor="middle" fill="#111" stroke="#111" stroke-width="0.04">- Log<tspan font-size="2.5" dy="0.7">10</tspan><tspan dy="-0.7">(P adjusted)</tspan></text>
<text x="646.00" y="213.20" font-size="3.57" text-anchor="start" font-weight="normal" font-style="normal" fill="#222" stroke="#222" stroke-width="0.06" >Differencial Expression</text>
<rect x="648.3" y="217.85" width="1.5" height="1.5" fill="#a52f2c"/>
<text x="653.00" y="219.60" font-size="2.92" text-anchor="start" font-weight="normal" font-style="normal" fill="#222" stroke="#222" stroke-width="0.06" >Upregulated</text>
<rect x="648.3" y="223.35" width="1.5" height="1.5" fill="#7396e8"/>
<text x="653.00" y="225.10" font-size="2.92" text-anchor="start" font-weight="normal" font-style="normal" fill="#222" stroke="#222" stroke-width="0.06" >Downregulated</text>
<rect x="648.3" y="229.15" width="0.9" height="0.9" fill="#bdbdbd"/>
<text x="653.00" y="230.60" font-size="2.92" text-anchor="start" font-weight="normal" font-style="normal" fill="#222" stroke="#222" stroke-width="0.06" >Not Significant</text>
<text x="646.00" y="242.80" font-size="3.67" text-anchor="start" font-weight="normal" font-style="normal" fill="#222" stroke="#222" stroke-width="0.06" >Microorganism</text>
<rect x="648.1" y="247.1" width="1.6" height="1.6" fill="#111"/>
<text x="653.00" y="248.90" font-size="3.1" text-anchor="start" font-weight="normal" font-style="italic" fill="#222" stroke="#222" stroke-width="0.06" >B. bifidum</text>
<rect x="648.0" y="252.89999999999998" width="1.8" height="1.1" fill="#111"/>
<text x="653.00" y="254.45" font-size="3.1" text-anchor="start" font-weight="normal" font-style="italic" fill="#222" stroke="#222" stroke-width="0.06" >B. breve</text>
<rect x="648.15" y="258.25" width="1.5" height="1.5" fill="#444"/>
<text x="653.00" y="260.00" font-size="3.1" text-anchor="start" font-weight="normal" font-style="italic" fill="#222" stroke="#222" stroke-width="0.06" >B. infantis</text>
<rect x="648.1" y="263.75" width="1.6" height="1.6" fill="none" stroke="#999" stroke-width="0.45"/>
<text x="653.00" y="265.55" font-size="3.1" text-anchor="start" font-weight="normal" font-style="italic" fill="#222" stroke="#222" stroke-width="0.06" >B. thetaiotaomicron</text>
<rect x="648.1999999999999" y="269.40000000000003" width="1.4" height="1.4" fill="#888"/>
<text x="653.00" y="271.10" font-size="3.1" text-anchor="start" font-weight="normal" font-style="italic" fill="#222" stroke="#222" stroke-width="0.06" >E. coli</text>
<rect x="648.1" y="274.84999999999997" width="1.6" height="1.6" fill="none" stroke="#aaa" stroke-width="0.45"/>
<text x="653.00" y="276.65" font-size="3.1" text-anchor="start" font-weight="normal" font-style="italic" fill="#222" stroke="#222" stroke-width="0.06" >L. symbiosum</text>
<line x1="469.6" y1="312" x2="469.6" y2="354.3" stroke="#555" stroke-width="0.7"/>
<line x1="469.6" y1="354.3" x2="684" y2="354.3" stroke="#9a9a9a" stroke-width="0.9"/>
<text x="467.80" y="353.70" font-size="2.7" text-anchor="end" font-weight="normal" font-style="normal" fill="#444" stroke="#444" stroke-width="0.12" >0</text>
<text x="467.80" y="344.20" font-size="2.7" text-anchor="end" font-weight="normal" font-style="normal" fill="#444" stroke="#444" stroke-width="0.12" >100</text>
<text x="467.80" y="334.70" font-size="2.7" text-anchor="end" font-weight="normal" font-style="normal" fill="#444" stroke="#444" stroke-width="0.12" >200</text>
<text x="467.80" y="325.20" font-size="2.7" text-anchor="end" font-weight="normal" font-style="normal" fill="#444" stroke="#444" stroke-width="0.12" >300</text>
<text x="467.80" y="315.70" font-size="2.7" text-anchor="end" font-weight="normal" font-style="normal" fill="#444" stroke="#444" stroke-width="0.12" >400</text>
<text transform="translate(461.4,333.5) rotate(-90)" font-size="3.5" text-anchor="middle" fill="#111" stroke="#111" stroke-width="0.14">Counts</text>
<rect x="475.00" y="313.80" width="31" height="25.70" fill="#a52f2c"/>
<rect x="475.00" y="339.20" width="31" height="13.50" fill="#7396e8"/>
<text x="490.50" y="358.40" font-size="2.76" text-anchor="middle" font-weight="normal" font-style="italic" fill="#333" stroke="#333" stroke-width="0.02" >E. coli</text>
<rect x="509.60" y="326.90" width="31" height="9.10" fill="#a52f2c"/>
<rect x="509.60" y="335.70" width="31" height="17.00" fill="#7396e8"/>
<text x="525.10" y="358.40" font-size="2.76" text-anchor="middle" font-weight="normal" font-style="italic" fill="#333" stroke="#333" stroke-width="0.02" >B. thetaiotaomicron</text>
<rect x="544.20" y="340.90" width="31" height="11.80" fill="#7396e8"/>
<text x="559.70" y="358.40" font-size="2.76" text-anchor="middle" font-weight="normal" font-style="italic" fill="#333" stroke="#333" stroke-width="0.02" >B. infantis</text>
<rect x="578.80" y="350.90" width="31" height="1.40" fill="#a52f2c"/>
<rect x="578.80" y="352.00" width="31" height="0.70" fill="#7396e8"/>
<text x="594.30" y="358.40" font-size="2.76" text-anchor="middle" font-weight="normal" font-style="italic" fill="#333" stroke="#333" stroke-width="0.02" >L. symbiosum</text>
<rect x="613.40" y="351.20" width="31" height="1.50" fill="#a52f2c"/>
<text x="628.90" y="358.40" font-size="2.76" text-anchor="middle" font-weight="normal" font-style="italic" fill="#333" stroke="#333" stroke-width="0.02" >B. bifidum</text>
<rect x="648.00" y="352.30" width="31" height="0.40" fill="#a52f2c"/>
<text x="663.50" y="358.40" font-size="2.76" text-anchor="middle" font-weight="normal" font-style="italic" fill="#333" stroke="#333" stroke-width="0.02" >B. breve</text>
<polygon points="93.0,111.2 93.0,106.3 97.0,106.8 101.0,108.0 106.0,110.0 106.0,111.2" fill="#bdbdbd"/>
<polygon points="114.5,111.2 114.5,110.3 120.0,108.5 125.0,107.0 127.5,106.5 127.5,111.2" fill="#bdbdbd"/>
<polygon points="60.0,111.2 62.0,109.5 75.0,108.5 93.0,107.5 93.0,111.2" fill="#7396e8"/>
<polygon points="127.5,111.2 127.5,107.0 145.0,106.5 155.0,107.5 159.5,109.5 159.5,111.2" fill="#a52f2c"/>
<polygon points="304.0,111.2 304.0,104.0 308.0,104.5 312.0,105.0 315.0,107.5 318.5,110.3 318.5,111.2" fill="#bdbdbd"/>
<polygon points="325.0,111.2 325.0,110.5 330.0,108.0 335.0,105.5 340.3,103.5 340.3,111.2" fill="#bdbdbd"/>
<polygon points="286.0,111.2 295.0,109.0 304.0,107.0 304.0,111.2" fill="#7396e8"/>
<polygon points="340.3,111.2 340.3,104.0 348.0,104.0 356.0,106.0 366.0,108.0 378.0,109.5 386.0,110.3 386.0,111.2" fill="#a52f2c"/>
<polygon points="561.0,111.2 561.0,98.0 566.0,101.5 571.0,105.5 576.5,110.0 576.5,111.2" fill="#bdbdbd"/>
<polygon points="584.5,111.2 590.0,105.0 596.0,100.0 599.3,98.0 599.3,111.2" fill="#bdbdbd"/>
<polygon points="92.0,294.3 92.0,288.0 100.0,290.0 108.5,293.5 108.5,294.3" fill="#bdbdbd"/>
<polygon points="116.0,294.3 122.0,292.0 130.8,288.5 130.8,294.3" fill="#bdbdbd"/>
<polygon points="42.0,294.6 42.0,293.4 70.0,293.0 92.0,291.5 92.0,294.6" fill="#7396e8"/>
<polygon points="130.8,294.6 130.8,290.0 137.0,290.0 142.0,292.0 142.0,294.6" fill="#a52f2c"/>
<polygon points="321.0,294.6 321.0,289.0 327.0,290.0 333.0,293.5 333.0,294.6" fill="#bdbdbd"/>
<polygon points="339.5,294.6 345.0,290.0 350.1,286.0 350.1,294.6" fill="#bdbdbd"/>
<polygon points="268.0,294.6 268.0,293.5 300.0,293.0 321.0,291.0 321.0,294.6" fill="#7396e8"/>
<polygon points="350.1,294.6 350.1,287.5 358.0,288.5 366.0,290.5 376.0,292.8 385.0,293.5 385.0,294.6" fill="#a52f2c"/>
<polygon points="552.0,295.3 552.0,271.0 556.0,273.0 560.0,279.0 564.0,286.0 569.0,293.0 569.0,295.3" fill="#bdbdbd"/>
<polygon points="575.0,295.3 582.0,288.0 590.0,278.0 590.0,295.3" fill="#bdbdbd"/>
<polygon points="536.0,295.3 545.0,292.0 552.0,290.0 552.0,295.3" fill="#7396e8"/>
<polygon points="590.0,295.3 590.0,284.0 595.0,285.0 598.0,295.3" fill="#a52f2c"/>
<path fill="#bdbdbd" d="M96.4 106.8h1.5v1.5h-1.5zM97.2 110.0h1.5v1.5h-1.5zM93.3 109.4h1.5v1.5h-1.5zM94.4 106.5h1.5v1.5h-1.5zM103.9 109.9h1.5v1.5h-1.5zM96.0 108.8h1.5v1.5h-1.5zM92.7 108.1h1.5v1.5h-1.5zM99.0 107.9h1.5v1.5h-1.5zM96.7 107.2h1.5v1.5h-1.5zM96.6 105.9h1.5v1.5h-1.5zM93.6 107.9h1.5v1.5h-1.5zM95.6 107.5h1.5v1.5h-1.5zM101.2 109.1h1.5v1.5h-1.5zM102.5 109.3h1.5v1.5h-1.5zM98.3 110.2h1.5v1.5h-1.5zM101.8 109.8h1.5v1.5h-1.5zM96.8 108.1h1.5v1.5h-1.5zM95.7 108.1h1.5v1.5h-1.5zM103.0 109.5h1.5v1.5h-1.5zM92.4 108.9h1.5v1.5h-1.5zM99.6 108.6h1.5v1.5h-1.5zM96.4 107.7h1.5v1.5h-1.5zM95.8 108.6h1.5v1.5h-1.5zM103.5 108.8h1.5v1.5h-1.5zM94.3 106.1h1.5v1.5h-1.5zM102.2 108.1h1.5v1.5h-1.5zM92.6 108.3h1.5v1.5h-1.5zM104.9 109.7h1.5v1.5h-1.5zM93.3 105.9h1.5v1.5h-1.5zM94.6 106.0h1.5v1.5h-1.5zM99.3 107.8h1.5v1.5h-1.5zM93.4 109.2h1.5v1.5h-1.5zM99.0 110.2h1.5v1.5h-1.5zM98.2 108.5h1.5v1.5h-1.5zM117.7 108.5h1.5v1.5h-1.5zM115.2 109.9h1.5v1.5h-1.5zM125.0 110.0h1.5v1.5h-1.5zM119.0 109.7h1.5v1.5h-1.5zM121.4 108.9h1.5v1.5h-1.5zM119.2 109.9h1.5v1.5h-1.5zM117.7 108.6h1.5v1.5h-1.5zM124.2 110.2h1.5v1.5h-1.5zM124.6 110.2h1.5v1.5h-1.5zM123.4 106.2h1.5v1.5h-1.5zM118.4 109.8h1.5v1.5h-1.5zM124.2 108.2h1.5v1.5h-1.5zM124.9 109.3h1.5v1.5h-1.5zM118.9 110.2h1.5v1.5h-1.5zM122.7 109.2h1.5v1.5h-1.5zM125.9 107.2h1.5v1.5h-1.5zM125.8 109.2h1.5v1.5h-1.5zM114.4 109.5h1.5v1.5h-1.5zM126.5 109.0h1.5v1.5h-1.5zM124.3 109.8h1.5v1.5h-1.5zM124.0 110.0h1.5v1.5h-1.5zM117.7 109.1h1.5v1.5h-1.5zM122.8 108.9h1.5v1.5h-1.5zM120.4 108.9h1.5v1.5h-1.5zM115.8 108.7h1.5v1.5h-1.5zM123.8 109.2h1.5v1.5h-1.5zM125.5 108.1h1.5v1.5h-1.5zM120.9 109.2h1.5v1.5h-1.5zM124.9 109.3h1.5v1.5h-1.5zM117.0 108.7h1.5v1.5h-1.5zM124.0 108.7h1.5v1.5h-1.5zM118.7 107.7h1.5v1.5h-1.5zM115.7 109.3h1.5v1.5h-1.5zM125.2 108.8h1.5v1.5h-1.5zM125.8 109.1h1.5v1.5h-1.5zM308.3 103.9h1.5v1.5h-1.5zM314.0 105.8h1.5v1.5h-1.5zM309.2 104.5h1.5v1.5h-1.5zM315.3 108.8h1.5v1.5h-1.5zM309.4 105.9h1.5v1.5h-1.5zM311.0 107.4h1.5v1.5h-1.5zM311.9 109.1h1.5v1.5h-1.5zM305.0 106.4h1.5v1.5h-1.5zM304.5 108.9h1.5v1.5h-1.5zM313.7 106.8h1.5v1.5h-1.5zM303.7 96.7h1.5v1.5h-1.5zM305.7 104.1h1.5v1.5h-1.5zM304.1 106.9h1.5v1.5h-1.5zM313.7 105.7h1.5v1.5h-1.5zM304.5 100.9h1.5v1.5h-1.5zM317.4 108.9h1.5v1.5h-1.5zM307.6 106.5h1.5v1.5h-1.5zM306.1 108.1h1.5v1.5h-1.5zM305.1 109.6h1.5v1.5h-1.5zM309.2 109.6h1.5v1.5h-1.5zM309.4 110.0h1.5v1.5h-1.5zM306.5 106.0h1.5v1.5h-1.5zM311.8 109.4h1.5v1.5h-1.5zM317.2 109.9h1.5v1.5h-1.5zM308.3 106.8h1.5v1.5h-1.5zM303.5 100.8h1.5v1.5h-1.5zM306.0 101.4h1.5v1.5h-1.5zM308.0 108.8h1.5v1.5h-1.5zM316.2 109.7h1.5v1.5h-1.5zM316.9 110.0h1.5v1.5h-1.5zM311.6 110.2h1.5v1.5h-1.5zM308.7 108.2h1.5v1.5h-1.5zM309.2 109.7h1.5v1.5h-1.5zM308.1 108.8h1.5v1.5h-1.5zM309.0 109.3h1.5v1.5h-1.5zM303.7 101.9h1.5v1.5h-1.5zM306.0 105.0h1.5v1.5h-1.5zM309.0 110.1h1.5v1.5h-1.5zM312.6 105.4h1.5v1.5h-1.5zM337.3 108.7h1.5v1.5h-1.5zM332.9 110.1h1.5v1.5h-1.5zM339.2 105.2h1.5v1.5h-1.5zM327.8 109.1h1.5v1.5h-1.5zM328.8 110.1h1.5v1.5h-1.5zM337.0 108.7h1.5v1.5h-1.5zM328.2 108.2h1.5v1.5h-1.5zM330.6 109.4h1.5v1.5h-1.5zM336.1 109.1h1.5v1.5h-1.5zM329.9 107.9h1.5v1.5h-1.5zM333.8 109.3h1.5v1.5h-1.5zM327.7 109.6h1.5v1.5h-1.5zM335.5 108.9h1.5v1.5h-1.5zM334.4 108.4h1.5v1.5h-1.5zM333.1 108.6h1.5v1.5h-1.5zM337.8 110.0h1.5v1.5h-1.5zM324.4 110.1h1.5v1.5h-1.5zM335.1 110.2h1.5v1.5h-1.5zM327.9 110.0h1.5v1.5h-1.5zM333.1 109.5h1.5v1.5h-1.5zM331.4 108.7h1.5v1.5h-1.5zM330.9 109.5h1.5v1.5h-1.5zM327.5 108.5h1.5v1.5h-1.5zM332.7 108.5h1.5v1.5h-1.5zM331.9 108.5h1.5v1.5h-1.5zM328.6 109.6h1.5v1.5h-1.5zM327.5 110.2h1.5v1.5h-1.5zM330.0 109.1h1.5v1.5h-1.5zM338.0 109.0h1.5v1.5h-1.5zM337.7 108.0h1.5v1.5h-1.5zM337.2 108.1h1.5v1.5h-1.5zM330.6 107.1h1.5v1.5h-1.5zM334.2 109.6h1.5v1.5h-1.5zM327.3 108.2h1.5v1.5h-1.5zM330.3 108.7h1.5v1.5h-1.5zM564.3 109.7h1.5v1.5h-1.5zM567.1 109.9h1.5v1.5h-1.5zM568.7 109.6h1.5v1.5h-1.5zM569.6 109.8h1.5v1.5h-1.5zM565.1 108.3h1.5v1.5h-1.5zM563.0 99.7h1.5v1.5h-1.5zM561.9 108.0h1.5v1.5h-1.5zM570.6 106.4h1.5v1.5h-1.5zM566.3 106.9h1.5v1.5h-1.5zM571.3 105.5h1.5v1.5h-1.5zM569.9 109.2h1.5v1.5h-1.5zM560.4 108.6h1.5v1.5h-1.5zM561.9 107.4h1.5v1.5h-1.5zM560.6 106.2h1.5v1.5h-1.5zM569.1 105.3h1.5v1.5h-1.5zM565.5 106.9h1.5v1.5h-1.5zM572.0 107.5h1.5v1.5h-1.5zM565.3 109.4h1.5v1.5h-1.5zM571.2 104.6h1.5v1.5h-1.5zM571.7 108.3h1.5v1.5h-1.5zM561.6 108.5h1.5v1.5h-1.5zM567.9 102.9h1.5v1.5h-1.5zM561.6 108.4h1.5v1.5h-1.5zM562.2 102.0h1.5v1.5h-1.5zM569.6 109.5h1.5v1.5h-1.5zM562.8 107.5h1.5v1.5h-1.5zM562.0 101.6h1.5v1.5h-1.5zM564.3 101.7h1.5v1.5h-1.5zM564.4 105.7h1.5v1.5h-1.5zM565.9 102.7h1.5v1.5h-1.5zM588.5 106.9h1.5v1.5h-1.5zM589.2 105.3h1.5v1.5h-1.5zM590.6 105.6h1.5v1.5h-1.5zM590.7 105.9h1.5v1.5h-1.5zM591.8 108.4h1.5v1.5h-1.5zM596.1 109.9h1.5v1.5h-1.5zM594.5 110.1h1.5v1.5h-1.5zM584.0 109.7h1.5v1.5h-1.5zM596.2 103.3h1.5v1.5h-1.5zM594.6 106.7h1.5v1.5h-1.5zM598.4 109.1h1.5v1.5h-1.5zM593.5 109.9h1.5v1.5h-1.5zM596.7 106.1h1.5v1.5h-1.5zM595.6 107.4h1.5v1.5h-1.5zM589.6 108.0h1.5v1.5h-1.5zM598.0 102.6h1.5v1.5h-1.5zM594.4 107.9h1.5v1.5h-1.5zM588.7 104.3h1.5v1.5h-1.5zM591.0 107.2h1.5v1.5h-1.5zM597.0 106.8h1.5v1.5h-1.5zM598.4 105.1h1.5v1.5h-1.5zM598.4 99.4h1.5v1.5h-1.5zM590.9 107.3h1.5v1.5h-1.5zM596.6 98.6h1.5v1.5h-1.5zM598.0 100.5h1.5v1.5h-1.5zM587.5 106.3h1.5v1.5h-1.5zM587.9 109.4h1.5v1.5h-1.5zM594.3 99.6h1.5v1.5h-1.5zM93.4 290.7h1.5v1.5h-1.5zM106.5 291.8h1.5v1.5h-1.5zM107.5 292.6h1.5v1.5h-1.5zM104.8 291.6h1.5v1.5h-1.5zM93.2 288.8h1.5v1.5h-1.5zM97.2 291.2h1.5v1.5h-1.5zM91.4 291.6h1.5v1.5h-1.5zM100.5 288.9h1.5v1.5h-1.5zM102.3 292.7h1.5v1.5h-1.5zM101.8 292.0h1.5v1.5h-1.5zM99.1 289.9h1.5v1.5h-1.5zM99.0 292.8h1.5v1.5h-1.5zM102.9 293.1h1.5v1.5h-1.5zM100.9 291.8h1.5v1.5h-1.5zM94.0 293.2h1.5v1.5h-1.5zM102.2 290.1h1.5v1.5h-1.5zM104.2 292.0h1.5v1.5h-1.5zM97.9 287.6h1.5v1.5h-1.5zM102.6 293.2h1.5v1.5h-1.5zM97.8 293.1h1.5v1.5h-1.5zM103.6 290.4h1.5v1.5h-1.5zM91.9 291.3h1.5v1.5h-1.5zM94.2 291.3h1.5v1.5h-1.5zM93.7 289.2h1.5v1.5h-1.5zM99.2 290.0h1.5v1.5h-1.5zM93.0 289.2h1.5v1.5h-1.5zM101.1 290.6h1.5v1.5h-1.5zM98.5 290.0h1.5v1.5h-1.5zM129.4 290.2h1.5v1.5h-1.5zM129.8 288.5h1.5v1.5h-1.5zM118.6 291.8h1.5v1.5h-1.5zM118.5 291.9h1.5v1.5h-1.5zM120.2 293.0h1.5v1.5h-1.5zM116.5 291.8h1.5v1.5h-1.5zM128.3 293.0h1.5v1.5h-1.5zM126.3 288.0h1.5v1.5h-1.5zM129.3 292.6h1.5v1.5h-1.5zM124.7 292.8h1.5v1.5h-1.5zM127.6 287.7h1.5v1.5h-1.5zM118.3 292.6h1.5v1.5h-1.5zM128.1 287.3h1.5v1.5h-1.5zM119.2 292.4h1.5v1.5h-1.5zM120.8 291.8h1.5v1.5h-1.5zM129.9 292.0h1.5v1.5h-1.5zM123.3 289.3h1.5v1.5h-1.5zM122.8 292.5h1.5v1.5h-1.5zM127.6 293.1h1.5v1.5h-1.5zM125.2 288.9h1.5v1.5h-1.5zM122.8 289.0h1.5v1.5h-1.5zM129.9 291.8h1.5v1.5h-1.5zM129.7 291.9h1.5v1.5h-1.5zM117.6 292.3h1.5v1.5h-1.5zM119.8 291.9h1.5v1.5h-1.5zM327.3 289.8h1.5v1.5h-1.5zM322.7 288.9h1.5v1.5h-1.5zM328.7 290.6h1.5v1.5h-1.5zM323.6 292.1h1.5v1.5h-1.5zM331.5 292.3h1.5v1.5h-1.5zM326.0 290.0h1.5v1.5h-1.5zM327.0 293.4h1.5v1.5h-1.5zM323.3 290.9h1.5v1.5h-1.5zM331.4 292.6h1.5v1.5h-1.5zM321.5 289.2h1.5v1.5h-1.5zM325.5 291.9h1.5v1.5h-1.5zM330.2 292.4h1.5v1.5h-1.5zM320.4 287.4h1.5v1.5h-1.5zM320.7 289.2h1.5v1.5h-1.5zM322.1 291.9h1.5v1.5h-1.5zM329.8 292.0h1.5v1.5h-1.5zM326.6 291.4h1.5v1.5h-1.5zM325.2 293.4h1.5v1.5h-1.5zM324.9 288.5h1.5v1.5h-1.5zM327.0 291.4h1.5v1.5h-1.5zM324.2 287.7h1.5v1.5h-1.5zM322.5 288.9h1.5v1.5h-1.5zM339.1 293.3h1.5v1.5h-1.5zM343.5 289.6h1.5v1.5h-1.5zM346.5 290.6h1.5v1.5h-1.5zM345.3 289.7h1.5v1.5h-1.5zM340.2 290.4h1.5v1.5h-1.5zM347.9 292.2h1.5v1.5h-1.5zM344.7 290.2h1.5v1.5h-1.5zM348.2 293.4h1.5v1.5h-1.5zM349.3 286.3h1.5v1.5h-1.5zM338.3 293.7h1.5v1.5h-1.5zM345.3 289.5h1.5v1.5h-1.5zM348.0 291.6h1.5v1.5h-1.5zM345.0 290.7h1.5v1.5h-1.5zM339.7 291.4h1.5v1.5h-1.5zM343.1 293.2h1.5v1.5h-1.5zM342.6 293.5h1.5v1.5h-1.5zM344.1 293.2h1.5v1.5h-1.5zM339.2 291.6h1.5v1.5h-1.5zM348.2 292.1h1.5v1.5h-1.5zM338.4 293.2h1.5v1.5h-1.5zM341.7 289.4h1.5v1.5h-1.5zM348.3 289.1h1.5v1.5h-1.5zM345.0 289.0h1.5v1.5h-1.5zM342.2 288.3h1.5v1.5h-1.5zM345.1 287.2h1.5v1.5h-1.5zM346.9 288.7h1.5v1.5h-1.5zM348.7 288.1h1.5v1.5h-1.5zM349.0 288.5h1.5v1.5h-1.5zM343.4 289.4h1.5v1.5h-1.5zM555.2 274.9h1.5v1.5h-1.5zM557.6 291.5h1.5v1.5h-1.5zM556.0 284.0h1.5v1.5h-1.5zM552.7 277.3h1.5v1.5h-1.5zM558.3 291.6h1.5v1.5h-1.5zM560.2 281.6h1.5v1.5h-1.5zM555.7 279.4h1.5v1.5h-1.5zM558.8 282.5h1.5v1.5h-1.5zM552.9 293.7h1.5v1.5h-1.5zM563.3 294.2h1.5v1.5h-1.5zM558.2 284.8h1.5v1.5h-1.5zM563.2 293.3h1.5v1.5h-1.5zM557.4 281.8h1.5v1.5h-1.5zM554.0 289.9h1.5v1.5h-1.5zM561.8 293.2h1.5v1.5h-1.5zM557.4 283.2h1.5v1.5h-1.5zM564.0 287.6h1.5v1.5h-1.5zM553.8 286.5h1.5v1.5h-1.5zM560.5 286.5h1.5v1.5h-1.5zM565.6 291.0h1.5v1.5h-1.5zM557.6 279.1h1.5v1.5h-1.5zM556.0 282.1h1.5v1.5h-1.5zM558.1 291.1h1.5v1.5h-1.5zM557.3 282.3h1.5v1.5h-1.5zM562.8 290.7h1.5v1.5h-1.5zM566.3 291.0h1.5v1.5h-1.5zM555.6 277.2h1.5v1.5h-1.5zM559.0 283.3h1.5v1.5h-1.5zM552.5 280.9h1.5v1.5h-1.5zM561.1 283.2h1.5v1.5h-1.5zM554.1 287.1h1.5v1.5h-1.5zM564.9 289.4h1.5v1.5h-1.5zM552.5 270.3h1.5v1.5h-1.5zM553.0 293.3h1.5v1.5h-1.5zM552.4 270.1h1.5v1.5h-1.5zM554.1 275.6h1.5v1.5h-1.5zM553.1 280.1h1.5v1.5h-1.5zM563.0 293.5h1.5v1.5h-1.5zM554.8 269.4h1.5v1.5h-1.5zM556.2 263.9h1.5v1.5h-1.5zM561.1 276.3h1.5v1.5h-1.5zM553.4 275.1h1.5v1.5h-1.5zM561.9 278.2h1.5v1.5h-1.5zM555.4 267.5h1.5v1.5h-1.5zM554.5 271.4h1.5v1.5h-1.5zM555.1 266.2h1.5v1.5h-1.5zM554.7 271.4h1.5v1.5h-1.5zM554.0 262.0h1.5v1.5h-1.5zM581.6 288.3h1.5v1.5h-1.5zM588.6 285.0h1.5v1.5h-1.5zM581.0 287.8h1.5v1.5h-1.5zM585.0 292.4h1.5v1.5h-1.5zM576.5 290.3h1.5v1.5h-1.5zM575.0 291.7h1.5v1.5h-1.5zM580.4 291.5h1.5v1.5h-1.5zM578.1 291.5h1.5v1.5h-1.5zM585.1 291.7h1.5v1.5h-1.5zM587.5 277.4h1.5v1.5h-1.5zM587.2 288.0h1.5v1.5h-1.5zM583.8 288.0h1.5v1.5h-1.5zM579.6 291.5h1.5v1.5h-1.5zM588.6 285.7h1.5v1.5h-1.5zM587.8 288.6h1.5v1.5h-1.5zM581.5 290.9h1.5v1.5h-1.5zM586.8 277.3h1.5v1.5h-1.5zM576.8 291.9h1.5v1.5h-1.5zM588.9 275.2h1.5v1.5h-1.5zM586.1 292.2h1.5v1.5h-1.5zM584.7 283.2h1.5v1.5h-1.5zM581.6 284.9h1.5v1.5h-1.5zM579.5 287.4h1.5v1.5h-1.5zM579.6 289.7h1.5v1.5h-1.5zM580.2 292.0h1.5v1.5h-1.5zM586.2 281.0h1.5v1.5h-1.5zM587.1 287.8h1.5v1.5h-1.5zM583.8 294.1h1.5v1.5h-1.5zM582.1 287.4h1.5v1.5h-1.5zM583.4 292.4h1.5v1.5h-1.5zM580.8 291.4h1.5v1.5h-1.5zM580.6 290.7h1.5v1.5h-1.5zM588.6 275.5h1.5v1.5h-1.5zM587.4 286.7h1.5v1.5h-1.5zM585.2 293.3h1.5v1.5h-1.5zM583.0 289.9h1.5v1.5h-1.5zM584.7 286.6h1.5v1.5h-1.5zM588.0 275.5h1.5v1.5h-1.5zM588.7 274.9h1.5v1.5h-1.5zM588.7 274.6h1.5v1.5h-1.5zM588.8 268.6h1.5v1.5h-1.5zM584.7 279.4h1.5v1.5h-1.5zM585.2 275.6h1.5v1.5h-1.5z"/>
<path fill="none" stroke="#bdbdbd" stroke-width="1.6" stroke-linecap="round" d="M105.2 109.7h0M101.3 110.5h0M96.3 110.3h0M94.8 110.9h0M94.1 111.0h0M98.9 110.7h0M97.0 108.5h0M96.6 107.8h0M93.0 110.8h0M97.3 107.3h0M97.8 107.3h0M95.2 109.6h0M106.5 110.9h0M97.6 109.8h0M99.4 109.7h0M104.0 109.7h0M105.1 110.5h0M93.3 110.7h0M96.2 110.6h0M96.2 108.3h0M102.6 109.2h0M93.3 110.8h0M98.0 110.6h0M95.1 110.4h0M99.5 108.3h0M93.1 110.3h0M96.7 110.1h0M99.7 108.7h0M99.3 110.9h0M98.0 110.6h0M102.2 110.9h0M96.4 107.0h0M96.7 107.3h0M99.8 109.5h0M99.4 110.8h0M99.4 107.9h0M126.4 110.2h0M123.2 111.0h0M120.3 110.2h0M124.7 108.2h0M126.8 109.1h0M116.1 110.4h0M124.9 110.4h0M127.3 108.6h0M119.6 110.8h0M118.6 109.8h0M126.4 110.4h0M118.2 110.9h0M125.6 109.6h0M119.9 108.9h0M127.5 109.6h0M125.4 107.4h0M124.2 107.8h0M117.0 110.0h0M124.2 110.7h0M126.3 110.1h0M124.5 110.0h0M125.5 110.0h0M126.5 111.0h0M123.7 110.9h0M120.7 110.8h0M125.6 107.8h0M119.0 109.9h0M124.9 109.0h0M124.6 110.5h0M117.8 109.8h0M114.8 110.4h0M119.3 108.6h0M121.8 110.9h0M125.8 108.1h0M118.3 109.5h0M306.4 104.0h0M316.7 109.0h0M310.7 104.3h0M305.8 99.9h0M314.8 110.4h0M304.5 107.3h0M315.7 108.5h0M317.0 108.7h0M305.8 109.0h0M315.4 109.4h0M306.8 103.1h0M308.3 110.4h0M312.3 105.2h0M313.0 109.4h0M313.6 109.5h0M305.2 109.7h0M307.9 110.8h0M315.7 108.6h0M317.6 109.6h0M310.3 105.3h0M317.5 110.9h0M306.2 107.7h0M313.2 106.8h0M308.7 109.2h0M308.6 102.5h0M306.6 109.9h0M305.4 107.4h0M315.4 107.6h0M306.5 108.3h0M311.8 106.4h0M304.4 106.6h0M329.0 109.6h0M325.7 109.9h0M337.7 106.4h0M339.0 104.5h0M330.5 109.3h0M330.7 110.6h0M330.4 110.6h0M333.9 109.6h0M328.6 110.9h0M336.6 108.3h0M339.8 107.1h0M337.6 109.9h0M338.4 106.3h0M336.5 107.5h0M329.5 110.7h0M334.7 106.8h0M339.9 109.5h0M330.8 109.6h0M331.1 108.5h0M329.9 108.6h0M331.5 110.3h0M337.3 110.5h0M339.2 109.1h0M337.7 105.2h0M336.1 110.5h0M334.8 110.5h0M334.9 108.0h0M335.5 106.7h0M328.6 110.5h0M337.9 107.9h0M337.3 110.2h0M339.2 110.4h0M334.9 105.8h0M339.0 109.0h0M339.5 110.9h0M564.1 108.3h0M571.6 106.0h0M564.0 104.3h0M562.1 110.8h0M573.9 109.9h0M566.2 105.4h0M564.3 109.9h0M567.2 106.9h0M562.0 110.2h0M569.8 108.6h0M565.7 106.0h0M563.4 101.3h0M562.0 104.9h0M565.7 110.1h0M561.4 106.0h0M566.1 110.4h0M570.7 107.4h0M561.9 108.2h0M563.1 104.8h0M566.6 110.9h0M594.3 105.4h0M592.0 110.0h0M597.9 102.9h0M589.5 110.5h0M586.2 110.5h0M592.2 107.1h0M595.0 101.6h0M585.8 109.1h0M598.6 106.1h0M589.7 108.5h0M594.2 108.5h0M595.0 109.0h0M595.7 107.5h0M593.4 110.1h0M588.1 107.7h0M598.1 100.5h0M585.0 109.6h0M589.1 108.0h0M592.8 109.7h0M596.6 106.6h0M596.1 100.2h0M593.0 106.2h0M93.8 288.9h0M104.3 292.9h0M103.5 291.5h0M93.8 293.6h0M97.3 290.6h0M102.8 293.1h0M101.4 290.0h0M107.9 292.6h0M94.0 291.9h0M94.8 291.6h0M101.9 291.4h0M98.8 292.8h0M101.5 294.0h0M102.5 291.3h0M93.9 291.5h0M98.4 293.5h0M104.8 293.1h0M102.7 293.5h0M94.2 291.3h0M105.3 294.0h0M105.1 293.3h0M93.4 292.2h0M101.8 292.6h0M107.2 293.7h0M99.3 292.5h0M92.1 290.1h0M93.8 292.1h0M102.3 294.0h0M97.3 290.7h0M92.7 290.5h0M98.0 293.4h0M108.0 293.2h0M121.1 293.5h0M128.2 291.4h0M128.9 292.1h0M124.9 291.2h0M127.1 293.8h0M121.1 294.0h0M123.0 291.7h0M128.8 288.4h0M129.1 292.8h0M120.8 292.0h0M123.7 291.7h0M125.8 293.8h0M116.2 292.8h0M126.4 289.6h0M128.7 291.9h0M120.1 293.6h0M122.5 291.4h0M123.6 291.6h0M127.5 292.8h0M118.6 292.7h0M130.1 292.6h0M128.4 289.2h0M124.5 290.6h0M121.0 293.5h0M125.4 291.3h0M120.3 291.5h0M119.2 292.0h0M128.3 292.2h0M128.9 292.0h0M130.7 293.7h0M128.9 291.1h0M125.2 292.7h0M125.8 291.4h0M123.9 289.7h0M127.4 288.6h0M323.2 292.9h0M324.6 292.0h0M326.7 291.5h0M324.3 288.9h0M325.3 288.7h0M327.1 291.4h0M328.8 291.7h0M321.3 293.4h0M324.7 291.0h0M324.9 294.3h0M322.4 293.6h0M322.9 291.2h0M326.1 294.0h0M332.7 294.5h0M328.9 291.6h0M329.3 291.7h0M321.7 292.9h0M327.4 294.3h0M321.3 289.6h0M332.1 294.1h0M327.6 294.3h0M327.5 292.5h0M321.7 291.5h0M322.5 294.4h0M323.8 291.4h0M325.3 293.4h0M323.4 291.9h0M326.1 293.5h0M342.8 290.6h0M344.8 288.3h0M345.8 291.4h0M348.1 291.7h0M340.5 292.8h0M344.7 289.0h0M341.3 292.3h0M348.8 286.4h0M347.4 292.1h0M343.8 292.5h0M349.6 292.6h0M342.6 290.4h0M348.2 293.5h0M347.5 292.1h0M344.1 290.1h0M345.5 293.8h0M346.0 290.9h0M339.9 293.3h0M346.8 294.3h0M342.3 291.2h0M339.5 293.4h0M561.8 291.0h0M565.9 293.6h0M558.8 292.5h0M552.2 290.9h0M557.6 286.0h0M557.0 288.1h0M554.3 285.8h0M563.4 295.0h0M557.7 294.2h0M554.8 288.8h0M555.9 285.6h0M552.3 280.7h0M553.5 294.2h0M559.8 290.7h0M564.7 289.0h0M553.1 275.3h0M552.4 283.1h0M559.6 293.9h0M560.2 285.6h0M561.5 292.9h0M562.0 289.9h0M552.4 290.4h0M560.9 288.8h0M561.3 283.6h0M555.4 272.8h0M554.5 289.1h0M556.2 277.8h0M552.1 277.2h0M557.3 280.5h0M559.4 282.6h0M553.6 275.8h0M559.9 280.7h0M556.3 266.3h0M557.8 272.5h0M553.4 268.8h0M558.3 277.6h0M559.0 277.3h0M557.1 265.4h0M557.5 268.0h0M582.4 287.0h0M584.1 284.9h0M579.2 288.1h0M589.3 293.4h0M583.9 294.9h0M582.7 292.0h0M586.8 288.1h0M578.0 293.9h0M579.1 291.6h0M584.8 286.3h0M576.5 294.2h0M585.9 288.5h0M584.4 282.9h0M587.5 294.9h0M582.3 291.3h0M588.8 292.7h0M585.7 283.6h0M583.1 287.4h0M581.6 292.0h0M583.5 287.2h0M589.5 288.9h0M584.6 283.5h0M585.1 294.8h0M584.5 292.3h0M581.8 285.9h0M588.1 289.0h0M589.9 276.1h0M582.4 293.0h0M574.6 294.1h0M588.1 279.4h0M587.0 285.7h0M582.9 287.8h0M586.6 282.6h0M583.6 281.1h0M589.2 275.2h0M588.2 268.2h0M586.2 277.3h0M584.3 276.2h0"/>
<path fill="#7396e8" d="M68.3 109.8h1.5v1.5h-1.5zM73.8 102.6h1.5v1.5h-1.5zM75.1 108.8h1.5v1.5h-1.5zM76.3 103.9h1.5v1.5h-1.5zM87.8 101.1h1.5v1.5h-1.5zM84.6 108.9h1.5v1.5h-1.5zM88.0 102.6h1.5v1.5h-1.5zM87.7 103.7h1.5v1.5h-1.5zM68.1 107.7h1.5v1.5h-1.5zM92.0 106.9h1.5v1.5h-1.5zM86.5 110.1h1.5v1.5h-1.5zM75.4 102.7h1.5v1.5h-1.5zM69.2 109.3h1.5v1.5h-1.5zM89.0 108.0h1.5v1.5h-1.5zM82.9 109.6h1.5v1.5h-1.5zM63.7 107.6h1.5v1.5h-1.5zM73.3 108.7h1.5v1.5h-1.5zM89.6 109.0h1.5v1.5h-1.5zM82.2 99.6h1.5v1.5h-1.5zM91.7 108.5h1.5v1.5h-1.5zM68.5 108.5h1.5v1.5h-1.5zM62.2 109.0h1.5v1.5h-1.5zM88.4 103.4h1.5v1.5h-1.5zM91.3 106.4h1.5v1.5h-1.5zM62.9 108.5h1.5v1.5h-1.5zM79.8 104.0h1.5v1.5h-1.5zM87.3 107.7h1.5v1.5h-1.5zM75.6 100.7h1.5v1.5h-1.5zM78.1 107.0h1.5v1.5h-1.5zM90.6 108.0h1.5v1.5h-1.5zM63.2 108.4h1.5v1.5h-1.5zM66.1 109.5h1.5v1.5h-1.5zM88.6 105.3h1.5v1.5h-1.5zM62.2 108.5h1.5v1.5h-1.5zM61.5 110.2h1.5v1.5h-1.5zM81.5 106.1h1.5v1.5h-1.5zM76.7 107.9h1.5v1.5h-1.5zM92.1 104.4h1.5v1.5h-1.5zM87.1 106.2h1.5v1.5h-1.5zM82.2 100.3h1.5v1.5h-1.5zM83.2 99.5h1.5v1.5h-1.5zM81.1 109.1h1.5v1.5h-1.5zM64.2 106.8h1.5v1.5h-1.5zM86.0 102.5h1.5v1.5h-1.5zM60.8 109.9h1.5v1.5h-1.5zM75.5 103.1h1.5v1.5h-1.5zM72.7 102.1h1.5v1.5h-1.5zM68.4 107.0h1.5v1.5h-1.5zM86.6 109.8h1.5v1.5h-1.5zM79.3 106.8h1.5v1.5h-1.5zM82.3 100.5h1.5v1.5h-1.5zM91.3 109.8h1.5v1.5h-1.5zM70.2 103.5h1.5v1.5h-1.5zM90.7 102.8h1.5v1.5h-1.5zM88.0 109.0h1.5v1.5h-1.5zM72.7 109.0h1.5v1.5h-1.5zM77.9 103.2h1.5v1.5h-1.5zM60.6 109.5h1.5v1.5h-1.5zM91.3 109.9h1.5v1.5h-1.5zM74.7 106.2h1.5v1.5h-1.5zM71.8 102.6h1.5v1.5h-1.5zM81.3 108.4h1.5v1.5h-1.5zM83.5 105.6h1.5v1.5h-1.5zM70.3 105.8h1.5v1.5h-1.5zM82.2 109.2h1.5v1.5h-1.5zM72.3 106.1h1.5v1.5h-1.5zM65.9 106.5h1.5v1.5h-1.5zM92.2 108.2h1.5v1.5h-1.5zM77.7 101.2h1.5v1.5h-1.5zM63.7 109.7h1.5v1.5h-1.5zM75.1 106.9h1.5v1.5h-1.5zM73.0 108.1h1.5v1.5h-1.5zM80.0 108.1h1.5v1.5h-1.5zM78.2 107.4h1.5v1.5h-1.5zM63.0 106.9h1.5v1.5h-1.5zM62.5 108.5h1.5v1.5h-1.5zM73.1 109.4h1.5v1.5h-1.5zM91.4 107.5h1.5v1.5h-1.5zM84.8 107.0h1.5v1.5h-1.5zM66.9 106.6h1.5v1.5h-1.5zM91.5 105.3h1.5v1.5h-1.5zM87.0 110.2h1.5v1.5h-1.5zM86.8 102.7h1.5v1.5h-1.5zM89.0 109.1h1.5v1.5h-1.5zM68.0 109.0h1.5v1.5h-1.5zM80.5 106.4h1.5v1.5h-1.5zM87.0 104.3h1.5v1.5h-1.5zM79.6 107.1h1.5v1.5h-1.5zM84.4 105.2h1.5v1.5h-1.5zM90.2 109.2h1.5v1.5h-1.5zM72.7 109.9h1.5v1.5h-1.5zM82.1 107.9h1.5v1.5h-1.5zM83.0 102.6h1.5v1.5h-1.5zM75.9 109.1h1.5v1.5h-1.5zM87.1 110.1h1.5v1.5h-1.5zM64.1 107.9h1.5v1.5h-1.5zM82.5 105.9h1.5v1.5h-1.5zM74.9 103.7h1.5v1.5h-1.5zM77.4 107.0h1.5v1.5h-1.5zM72.9 106.3h1.5v1.5h-1.5zM78.7 108.7h1.5v1.5h-1.5zM87.6 105.9h1.5v1.5h-1.5zM83.2 109.3h1.5v1.5h-1.5zM71.9 107.7h1.5v1.5h-1.5zM81.8 108.5h1.5v1.5h-1.5zM63.1 109.8h1.5v1.5h-1.5zM72.4 109.3h1.5v1.5h-1.5zM86.3 107.3h1.5v1.5h-1.5zM87.1 108.4h1.5v1.5h-1.5zM79.4 106.1h1.5v1.5h-1.5zM90.6 104.8h1.5v1.5h-1.5zM69.7 106.3h1.5v1.5h-1.5zM63.0 109.6h1.5v1.5h-1.5zM83.3 99.7h1.5v1.5h-1.5zM72.1 107.1h1.5v1.5h-1.5zM74.9 101.2h1.5v1.5h-1.5zM86.7 106.0h1.5v1.5h-1.5zM86.6 107.5h1.5v1.5h-1.5zM80.1 108.4h1.5v1.5h-1.5zM69.4 105.6h1.5v1.5h-1.5zM71.1 106.2h1.5v1.5h-1.5zM73.2 109.4h1.5v1.5h-1.5zM65.1 110.1h1.5v1.5h-1.5zM85.4 108.7h1.5v1.5h-1.5zM78.4 109.4h1.5v1.5h-1.5zM85.0 103.2h1.5v1.5h-1.5zM82.6 110.1h1.5v1.5h-1.5zM85.2 104.1h1.5v1.5h-1.5zM79.5 108.9h1.5v1.5h-1.5zM72.7 107.7h1.5v1.5h-1.5zM83.2 107.5h1.5v1.5h-1.5zM61.7 109.9h1.5v1.5h-1.5zM81.7 101.0h1.5v1.5h-1.5zM87.9 106.6h1.5v1.5h-1.5zM83.7 107.0h1.5v1.5h-1.5zM81.1 102.5h1.5v1.5h-1.5zM75.8 106.6h1.5v1.5h-1.5zM84.9 103.4h1.5v1.5h-1.5zM69.9 104.1h1.5v1.5h-1.5zM88.3 105.0h1.5v1.5h-1.5zM65.4 109.4h1.5v1.5h-1.5zM75.6 103.4h1.5v1.5h-1.5zM64.5 107.3h1.5v1.5h-1.5zM85.2 109.7h1.5v1.5h-1.5zM85.7 107.1h1.5v1.5h-1.5zM83.8 108.9h1.5v1.5h-1.5zM72.8 109.9h1.5v1.5h-1.5zM78.3 108.3h1.5v1.5h-1.5zM62.6 104.3h1.5v1.5h-1.5zM66.4 95.2h1.5v1.5h-1.5zM68.7 93.7h1.5v1.5h-1.5zM54.5 97.8h1.5v1.5h-1.5zM70.5 97.8h1.5v1.5h-1.5zM64.6 90.0h1.5v1.5h-1.5zM61.2 94.3h1.5v1.5h-1.5zM65.1 95.8h1.5v1.5h-1.5zM88.2 102.2h1.5v1.5h-1.5zM57.9 97.7h1.5v1.5h-1.5zM62.6 86.8h1.5v1.5h-1.5zM62.6 97.9h1.5v1.5h-1.5zM75.3 88.8h1.5v1.5h-1.5zM82.9 95.5h1.5v1.5h-1.5zM62.5 96.2h1.5v1.5h-1.5zM60.6 94.4h1.5v1.5h-1.5zM39.2 11.2h1.5v1.5h-1.5zM61.1 24.4h1.5v1.5h-1.5zM48.1 41.2h1.5v1.5h-1.5zM50.5 43.2h1.5v1.5h-1.5zM48.5 44.8h1.5v1.5h-1.5zM44.8 50.6l1.1 1.9h-2.2zM60.0 68.0h1.5v1.5h-1.5zM64.2 66.8h1.5v1.5h-1.5zM79.8 66.2h1.5v1.5h-1.5zM62.8 71.0h1.5v1.5h-1.5zM52.2 73.0h1.5v1.5h-1.5zM41.2 75.5h1.5v1.5h-1.5zM77.2 74.2h1.5v1.5h-1.5zM78.5 77.0h1.5v1.5h-1.5zM62.2 80.5h1.5v1.5h-1.5zM81.5 80.5h1.5v1.5h-1.5zM54.2 82.2h1.5v1.5h-1.5zM75.5 86.8h1.5v1.5h-1.5zM92.0 88.0h1.5v1.5h-1.5zM84.8 89.8h1.5v1.5h-1.5zM89.2 93.5h1.5v1.5h-1.5zM85.5 95.0h1.5v1.5h-1.5zM78.5 94.5h1.5v1.5h-1.5zM51.8 99.5h1.5v1.5h-1.5zM19.9 109.5h1.5v1.5h-1.5zM37.2 108.8h1.5v1.5h-1.5zM41.8 107.2h1.5v1.5h-1.5zM44.2 108.2h1.5v1.5h-1.5zM49.8 108.5h1.5v1.5h-1.5zM53.0 108.0h1.5v1.5h-1.5zM55.2 108.8h1.5v1.5h-1.5zM57.2 109.2h1.5v1.5h-1.5zM47.2 109.2h1.5v1.5h-1.5zM280.5 108.0l1.1 1.9h-2.2zM275.3 106.2l1.1 1.9h-2.2zM296.7 96.5l1.1 1.9h-2.2zM296.6 106.2l1.1 1.9h-2.2zM280.6 101.6l1.1 1.9h-2.2zM287.5 105.4l1.1 1.9h-2.2zM281.3 108.8h1.5v1.5h-1.5zM285.7 108.8h1.5v1.5h-1.5zM301.8 108.9h1.5v1.5h-1.5zM301.8 107.6l1.1 1.9h-2.2zM300.8 108.0l1.1 1.9h-2.2zM295.3 96.3l1.1 1.9h-2.2zM293.1 107.2l1.1 1.9h-2.2zM300.1 109.1h1.5v1.5h-1.5zM290.5 102.8l1.1 1.9h-2.2zM296.0 105.0l1.1 1.9h-2.2zM296.0 102.1l1.1 1.9h-2.2zM281.1 107.2l1.1 1.9h-2.2zM290.4 100.6l1.1 1.9h-2.2zM297.4 103.4h1.5v1.5h-1.5zM303.9 109.6l1.1 1.9h-2.2zM303.8 97.3l1.1 1.9h-2.2zM298.6 107.9l1.1 1.9h-2.2zM297.7 96.6h1.5v1.5h-1.5zM300.5 105.3l1.1 1.9h-2.2zM295.2 96.0l1.1 1.9h-2.2zM296.6 109.9l1.1 1.9h-2.2zM302.1 107.3l1.1 1.9h-2.2zM301.4 95.1l1.1 1.9h-2.2zM291.6 102.1l1.1 1.9h-2.2zM289.8 102.8l1.1 1.9h-2.2zM287.0 100.2l1.1 1.9h-2.2zM289.9 95.6l1.1 1.9h-2.2zM296.5 100.1l1.1 1.9h-2.2zM288.9 99.8l1.1 1.9h-2.2zM290.7 109.4l1.1 1.9h-2.2zM275.7 105.7l1.1 1.9h-2.2zM295.7 109.0h1.5v1.5h-1.5zM283.2 108.7h1.5v1.5h-1.5zM280.2 103.0l1.1 1.9h-2.2zM278.9 106.5l1.1 1.9h-2.2zM283.0 108.3l1.1 1.9h-2.2zM283.6 103.0l1.1 1.9h-2.2zM300.5 103.2l1.1 1.9h-2.2zM295.7 94.8l1.1 1.9h-2.2zM303.1 97.9l1.1 1.9h-2.2zM293.3 101.4l1.1 1.9h-2.2zM300.1 98.4h1.5v1.5h-1.5zM290.8 99.5l1.1 1.9h-2.2zM298.5 98.4l1.1 1.9h-2.2zM303.0 105.5h1.5v1.5h-1.5zM293.2 109.6h1.5v1.5h-1.5zM301.4 102.3l1.1 1.9h-2.2zM301.8 98.8l1.1 1.9h-2.2zM290.4 104.7l1.1 1.9h-2.2zM297.7 94.6l1.1 1.9h-2.2zM293.5 103.5l1.1 1.9h-2.2zM287.3 105.8l1.1 1.9h-2.2zM291.5 104.7l1.1 1.9h-2.2zM301.3 107.4l1.1 1.9h-2.2zM301.4 107.2h1.5v1.5h-1.5zM282.0 105.9l1.1 1.9h-2.2zM297.1 100.9l1.1 1.9h-2.2zM290.0 103.2l1.1 1.9h-2.2zM293.5 108.4l1.1 1.9h-2.2zM300.0 102.8l1.1 1.9h-2.2zM289.4 109.9l1.1 1.9h-2.2zM302.3 96.7l1.1 1.9h-2.2zM286.7 107.2l1.1 1.9h-2.2zM295.1 99.7l1.1 1.9h-2.2zM286.1 109.7l1.1 1.9h-2.2zM296.3 101.7l1.1 1.9h-2.2zM275.3 106.2l1.1 1.9h-2.2zM291.7 108.5l1.1 1.9h-2.2zM290.6 104.5l1.1 1.9h-2.2zM302.6 102.5h1.5v1.5h-1.5zM295.0 106.2l1.1 1.9h-2.2zM298.9 97.0l1.1 1.9h-2.2zM300.2 101.8l1.1 1.9h-2.2zM299.2 98.3l1.1 1.9h-2.2zM298.1 95.5l1.1 1.9h-2.2zM286.4 97.7l1.1 1.9h-2.2zM287.3 105.3l1.1 1.9h-2.2zM303.5 107.7l1.1 1.9h-2.2zM283.2 106.6l1.1 1.9h-2.2zM300.8 97.7l1.1 1.9h-2.2zM300.7 106.2h1.5v1.5h-1.5zM293.2 100.0l1.1 1.9h-2.2zM285.5 109.5h1.5v1.5h-1.5zM283.0 103.0l1.1 1.9h-2.2zM293.3 107.7h1.5v1.5h-1.5zM300.4 109.9l1.1 1.9h-2.2zM299.2 100.6h1.5v1.5h-1.5zM290.5 99.0l1.1 1.9h-2.2zM298.2 96.2l1.1 1.9h-2.2zM294.9 105.2l1.1 1.9h-2.2zM293.5 107.6l1.1 1.9h-2.2zM303.1 108.6h1.5v1.5h-1.5zM294.3 101.1l1.1 1.9h-2.2zM303.7 102.1l1.1 1.9h-2.2zM284.2 101.6l1.1 1.9h-2.2zM298.7 107.9l1.1 1.9h-2.2zM289.9 109.4l1.1 1.9h-2.2zM280.8 105.5l1.1 1.9h-2.2zM279.5 103.3h1.5v1.5h-1.5zM283.7 109.6l1.1 1.9h-2.2zM286.1 97.2l1.1 1.9h-2.2zM288.4 99.2l1.1 1.9h-2.2zM294.9 103.0l1.1 1.9h-2.2zM289.0 95.1l1.1 1.9h-2.2zM276.7 105.1l1.1 1.9h-2.2zM300.2 98.7l1.1 1.9h-2.2zM293.4 109.8h1.5v1.5h-1.5zM291.5 96.8l1.1 1.9h-2.2zM291.5 99.7l1.1 1.9h-2.2zM279.0 110.0l1.1 1.9h-2.2zM283.5 107.4l1.1 1.9h-2.2zM282.7 108.6l1.1 1.9h-2.2zM291.7 106.0h1.5v1.5h-1.5zM290.8 103.0l1.1 1.9h-2.2zM295.0 100.4l1.1 1.9h-2.2zM304.0 105.6l1.1 1.9h-2.2zM293.8 106.7l1.1 1.9h-2.2zM291.1 103.0l1.1 1.9h-2.2zM280.7 105.5h1.5v1.5h-1.5zM289.2 94.7l1.1 1.9h-2.2zM294.4 95.3l1.1 1.9h-2.2zM288.2 101.7h1.5v1.5h-1.5zM284.3 98.2l1.1 1.9h-2.2zM296.5 102.4l1.1 1.9h-2.2zM283.8 108.4l1.1 1.9h-2.2zM290.8 104.6l1.1 1.9h-2.2zM290.8 101.9l1.1 1.9h-2.2zM288.7 105.6l1.1 1.9h-2.2zM298.8 95.2l1.1 1.9h-2.2zM300.7 100.1l1.1 1.9h-2.2zM284.8 109.7l1.1 1.9h-2.2zM303.5 102.6l1.1 1.9h-2.2zM298.5 108.2l1.1 1.9h-2.2zM294.6 104.2l1.1 1.9h-2.2zM296.0 102.2l1.1 1.9h-2.2zM278.1 103.4l1.1 1.9h-2.2zM287.7 101.1h1.5v1.5h-1.5zM302.6 95.4l1.1 1.9h-2.2zM299.2 108.3l1.1 1.9h-2.2zM303.9 97.5l1.1 1.9h-2.2zM290.6 105.5l1.1 1.9h-2.2zM282.6 107.4l1.1 1.9h-2.2zM291.4 101.0l1.1 1.9h-2.2zM297.2 104.8l1.1 1.9h-2.2zM279.4 107.6l1.1 1.9h-2.2zM289.6 102.6l1.1 1.9h-2.2zM290.7 108.0h1.5v1.5h-1.5zM298.3 103.1l1.1 1.9h-2.2zM284.9 101.7h1.5v1.5h-1.5zM298.3 99.3h1.5v1.5h-1.5zM298.0 106.7l1.1 1.9h-2.2zM297.4 100.1l1.1 1.9h-2.2zM286.8 109.0l1.1 1.9h-2.2zM297.7 102.8l1.1 1.9h-2.2zM296.6 98.2l1.1 1.9h-2.2zM290.8 105.7l1.1 1.9h-2.2zM297.4 110.0l1.1 1.9h-2.2zM284.3 108.2l1.1 1.9h-2.2zM283.1 103.6l1.1 1.9h-2.2zM289.4 99.5h1.5v1.5h-1.5zM300.5 102.4l1.1 1.9h-2.2zM294.3 94.9l1.1 1.9h-2.2zM302.8 106.1l1.1 1.9h-2.2zM286.5 106.2l1.1 1.9h-2.2zM284.2 103.2l1.1 1.9h-2.2zM296.1 109.6l1.1 1.9h-2.2zM300.8 108.4h1.5v1.5h-1.5zM301.8 97.0h1.5v1.5h-1.5zM302.0 109.9l1.1 1.9h-2.2zM292.1 108.9l1.1 1.9h-2.2zM298.8 109.8h1.5v1.5h-1.5zM279.6 104.6l1.1 1.9h-2.2zM298.6 108.0l1.1 1.9h-2.2zM288.1 106.6l1.1 1.9h-2.2zM283.7 103.2l1.1 1.9h-2.2zM294.6 107.5h1.5v1.5h-1.5zM289.2 109.5h1.5v1.5h-1.5zM297.4 106.6l1.1 1.9h-2.2zM296.5 103.5l1.1 1.9h-2.2zM298.4 106.1l1.1 1.9h-2.2zM298.2 107.2l1.1 1.9h-2.2zM303.1 106.7l1.1 1.9h-2.2zM274.9 107.4l1.1 1.9h-2.2zM285.9 98.5l1.1 1.9h-2.2zM303.2 106.9l1.1 1.9h-2.2zM277.0 109.2l1.1 1.9h-2.2zM292.7 106.5l1.1 1.9h-2.2zM293.0 100.0l1.1 1.9h-2.2zM299.8 105.9l1.1 1.9h-2.2zM293.3 96.7l1.1 1.9h-2.2zM286.3 102.5l1.1 1.9h-2.2zM299.2 109.3l1.1 1.9h-2.2zM293.9 102.1l1.1 1.9h-2.2zM288.6 103.6l1.1 1.9h-2.2zM302.0 103.6l1.1 1.9h-2.2zM287.2 99.7l1.1 1.9h-2.2zM279.7 104.7h1.5v1.5h-1.5zM291.9 104.5l1.1 1.9h-2.2zM295.7 103.6l1.1 1.9h-2.2zM295.9 97.6l1.1 1.9h-2.2zM293.0 97.2l1.1 1.9h-2.2zM280.6 107.5h1.5v1.5h-1.5zM300.7 98.8l1.1 1.9h-2.2zM300.6 98.2l1.1 1.9h-2.2zM291.1 95.6l1.1 1.9h-2.2zM282.2 106.5l1.1 1.9h-2.2zM288.9 107.2l1.1 1.9h-2.2zM291.5 102.4l1.1 1.9h-2.2zM290.5 105.7l1.1 1.9h-2.2zM287.8 98.6h1.5v1.5h-1.5zM299.8 108.9h1.5v1.5h-1.5zM299.9 103.3h1.5v1.5h-1.5zM278.4 108.1h1.5v1.5h-1.5zM282.3 100.1l1.1 1.9h-2.2zM292.9 98.5h1.5v1.5h-1.5zM302.0 106.6l1.1 1.9h-2.2zM291.4 97.0h1.5v1.5h-1.5zM296.3 106.9h1.5v1.5h-1.5zM294.6 99.1h1.5v1.5h-1.5zM279.2 106.2h1.5v1.5h-1.5zM281.1 103.4h1.5v1.5h-1.5zM282.4 104.2h1.5v1.5h-1.5zM293.3 102.9l1.1 1.9h-2.2zM296.4 97.3l1.1 1.9h-2.2zM291.4 109.8l1.1 1.9h-2.2zM294.6 107.1l1.1 1.9h-2.2zM292.6 109.4l1.1 1.9h-2.2zM300.3 109.6h1.5v1.5h-1.5zM300.9 103.3h1.5v1.5h-1.5zM286.7 109.4l1.1 1.9h-2.2zM286.4 103.3h1.5v1.5h-1.5zM276.8 110.1h1.5v1.5h-1.5zM296.0 99.9l1.1 1.9h-2.2zM292.0 99.6l1.1 1.9h-2.2zM294.7 102.7l1.1 1.9h-2.2zM299.0 103.4l1.1 1.9h-2.2zM286.5 109.9l1.1 1.9h-2.2zM279.0 104.5l1.1 1.9h-2.2zM293.6 99.5h1.5v1.5h-1.5zM302.5 106.3l1.1 1.9h-2.2zM300.6 101.6l1.1 1.9h-2.2zM300.8 105.7l1.1 1.9h-2.2zM286.6 103.0l1.1 1.9h-2.2zM299.3 108.9l1.1 1.9h-2.2zM273.0 93.1l1.1 1.9h-2.2zM268.0 98.3l1.1 1.9h-2.2zM271.5 105.7l1.1 1.9h-2.2zM279.0 94.6l1.1 1.9h-2.2zM263.1 106.8l1.1 1.9h-2.2zM274.8 88.4l1.1 1.9h-2.2zM287.1 84.6l1.1 1.9h-2.2zM285.0 93.2l1.1 1.9h-2.2zM266.5 92.1l1.1 1.9h-2.2zM269.1 103.7l1.1 1.9h-2.2zM271.0 87.0l1.1 1.9h-2.2zM285.7 92.1l1.1 1.9h-2.2zM279.3 89.2l1.1 1.9h-2.2zM275.6 102.9l1.1 1.9h-2.2zM290.2 90.1l1.1 1.9h-2.2zM276.3 88.5l1.1 1.9h-2.2zM264.9 104.4l1.1 1.9h-2.2zM280.7 84.9l1.1 1.9h-2.2zM293.4 90.4l1.1 1.9h-2.2zM274.1 91.1l1.1 1.9h-2.2zM260.5 108.5l1.1 1.9h-2.2zM269.3 92.7l1.1 1.9h-2.2zM274.3 99.4l1.1 1.9h-2.2zM286.0 89.2l1.1 1.9h-2.2zM263.4 101.8l1.1 1.9h-2.2zM278.9 84.9l1.1 1.9h-2.2zM293.9 84.7l1.1 1.9h-2.2zM289.0 87.9l1.1 1.9h-2.2zM276.6 89.8l1.1 1.9h-2.2zM271.2 108.2l1.1 1.9h-2.2zM262.3 108.0l1.1 1.9h-2.2zM289.2 91.5l1.1 1.9h-2.2zM294.6 87.4l1.1 1.9h-2.2zM269.1 97.0l1.1 1.9h-2.2zM287.0 92.3l1.1 1.9h-2.2zM264.1 105.2l1.1 1.9h-2.2zM278.1 86.8l1.1 1.9h-2.2zM272.1 101.3l1.1 1.9h-2.2zM291.7 92.5l1.1 1.9h-2.2zM276.6 94.0l1.1 1.9h-2.2zM271.0 108.0l1.1 1.9h-2.2zM265.2 97.0l1.1 1.9h-2.2zM291.5 88.5l1.1 1.9h-2.2zM277.9 6.5h1.5v1.5h-1.5zM285.8 10.9l1.1 1.9h-2.2zM277.1 19.6h1.5v1.5h-1.5zM287.0 48.0l1.1 1.9h-2.2zM286.6 52.1l1.1 1.9h-2.2zM286.3 56.7l1.1 1.9h-2.2zM276.5 57.7l1.1 1.9h-2.2zM273.2 59.0l1.1 1.9h-2.2zM263.3 62.0l1.1 1.9h-2.2zM280.8 68.3l1.1 1.9h-2.2zM271.2 74.8l1.1 1.9h-2.2zM284.5 77.0l1.1 1.9h-2.2zM294.0 76.8l1.1 1.9h-2.2zM289.0 79.0l1.1 1.9h-2.2zM293.7 80.2l1.1 1.9h-2.2zM258.7 82.8l1.1 1.9h-2.2zM281.5 82.7l1.1 1.9h-2.2zM272.0 84.8l1.1 1.9h-2.2zM297.0 83.7l1.1 1.9h-2.2zM250.8 98.7l1.1 1.9h-2.2zM249.5 108.7l1.1 1.9h-2.2zM257.0 107.0l1.1 1.9h-2.2zM260.3 103.2l1.1 1.9h-2.2zM267.0 108.2l1.1 1.9h-2.2zM262.0 108.5l1.1 1.9h-2.2zM253.2 109.2h1.5v1.5h-1.5zM258.0 109.2l1.1 1.9h-2.2zM558.7 100.1h1.5v1.5h-1.5zM557.3 100.0h1.5v1.5h-1.5zM557.4 87.3h1.5v1.5h-1.5zM559.5 103.8h1.5v1.5h-1.5zM556.5 101.6h1.5v1.5h-1.5zM559.5 108.2h1.5v1.5h-1.5zM542.8 104.2h1.5v1.5h-1.5zM544.7 109.4h1.5v1.5h-1.5zM549.0 95.5h1.5v1.5h-1.5zM544.7 96.0h1.5v1.5h-1.5zM551.8 95.3h1.5v1.5h-1.5zM545.3 98.6h1.5v1.5h-1.5zM559.3 105.8h1.5v1.5h-1.5zM554.6 109.7h1.5v1.5h-1.5zM551.0 103.1h1.5v1.5h-1.5zM543.7 106.5h1.5v1.5h-1.5zM558.5 91.9h1.5v1.5h-1.5zM559.5 92.3h1.5v1.5h-1.5zM554.6 102.9h1.5v1.5h-1.5zM547.1 105.8h1.5v1.5h-1.5zM555.5 109.8h1.5v1.5h-1.5zM553.9 109.4h1.5v1.5h-1.5zM560.0 110.1h1.5v1.5h-1.5zM555.7 101.1h1.5v1.5h-1.5zM551.9 107.5h1.5v1.5h-1.5zM540.7 108.6h1.5v1.5h-1.5zM550.6 95.9h1.5v1.5h-1.5zM514.7 107.8h1.5v1.5h-1.5zM534.3 105.3h1.5v1.5h-1.5zM537.2 90.7h1.5v1.5h-1.5zM528.3 101.0h1.5v1.5h-1.5zM535.8 102.1h1.5v1.5h-1.5zM520.1 110.1h1.5v1.5h-1.5zM523.4 102.5h1.5v1.5h-1.5zM532.3 97.6h1.5v1.5h-1.5zM536.9 106.7h1.5v1.5h-1.5zM505.8 106.1h1.5v1.5h-1.5zM507.7 65.4h1.5v1.5h-1.5zM523.6 64.5h1.5v1.5h-1.5zM534.7 71.2h1.5v1.5h-1.5zM516.9 76.0h1.5v1.5h-1.5zM551.2 37.0h1.5v1.5h-1.5zM560.0 54.0h1.5v1.5h-1.5zM556.8 69.3l1.1 1.9h-2.2zM555.2 74.3l1.1 1.9h-2.2zM73.0 289.9h1.5v1.5h-1.5zM72.6 285.9h1.5v1.5h-1.5zM81.8 291.9h1.5v1.5h-1.5zM76.3 289.1h1.5v1.5h-1.5zM82.5 291.9h1.5v1.5h-1.5zM71.5 286.1h1.5v1.5h-1.5zM84.9 289.1h1.5v1.5h-1.5zM84.6 289.4h1.5v1.5h-1.5zM79.5 290.0h1.5v1.5h-1.5zM76.7 287.4h1.5v1.5h-1.5zM70.0 291.1h1.5v1.5h-1.5zM66.4 291.9h1.5v1.5h-1.5zM81.8 289.1h1.5v1.5h-1.5zM82.9 291.0h1.5v1.5h-1.5zM78.4 287.0h1.5v1.5h-1.5zM75.2 287.4h1.5v1.5h-1.5zM75.5 292.1h1.5v1.5h-1.5zM77.9 287.0h1.5v1.5h-1.5zM77.1 286.4h1.5v1.5h-1.5zM85.2 292.3h1.5v1.5h-1.5zM84.8 290.7h1.5v1.5h-1.5zM80.1 291.0h1.5v1.5h-1.5zM83.1 293.5h1.5v1.5h-1.5zM84.8 286.6h1.5v1.5h-1.5zM87.5 293.1h1.5v1.5h-1.5zM88.1 289.5h1.5v1.5h-1.5zM74.1 291.5h1.5v1.5h-1.5zM77.3 291.0h1.5v1.5h-1.5zM89.3 293.5h1.5v1.5h-1.5zM83.7 288.2h1.5v1.5h-1.5zM66.3 288.9h1.5v1.5h-1.5zM81.5 293.5h1.5v1.5h-1.5zM78.1 291.1h1.5v1.5h-1.5zM69.7 290.0h1.5v1.5h-1.5zM84.5 289.7h1.5v1.5h-1.5zM74.2 286.1h1.5v1.5h-1.5zM74.3 293.3h1.5v1.5h-1.5zM72.5 287.1h1.5v1.5h-1.5zM90.2 287.5h1.5v1.5h-1.5zM89.1 291.4h1.5v1.5h-1.5zM69.6 291.9h1.5v1.5h-1.5zM71.2 289.8h1.5v1.5h-1.5zM81.8 292.3h1.5v1.5h-1.5zM82.3 282.5h1.5v1.5h-1.5zM82.2 288.9h1.5v1.5h-1.5zM81.7 284.3h1.5v1.5h-1.5zM74.6 288.6h1.5v1.5h-1.5zM89.8 288.3h1.5v1.5h-1.5zM72.7 293.0h1.5v1.5h-1.5zM79.2 293.2h1.5v1.5h-1.5zM72.1 289.8h1.5v1.5h-1.5zM89.9 293.6h1.5v1.5h-1.5zM82.7 288.0h1.5v1.5h-1.5zM76.6 290.1h1.5v1.5h-1.5zM74.7 285.4h1.5v1.5h-1.5zM75.1 292.2h1.5v1.5h-1.5zM83.0 283.9h1.5v1.5h-1.5zM71.0 286.4h1.5v1.5h-1.5zM79.6 293.2h1.5v1.5h-1.5zM82.4 291.6h1.5v1.5h-1.5zM75.7 289.3h1.5v1.5h-1.5zM80.1 287.9h1.5v1.5h-1.5zM66.6 289.3h1.5v1.5h-1.5zM72.5 289.5h1.5v1.5h-1.5zM84.6 283.5h1.5v1.5h-1.5zM88.6 289.8h1.5v1.5h-1.5zM83.7 282.8h1.5v1.5h-1.5zM76.8 288.7h1.5v1.5h-1.5zM79.3 283.0h1.5v1.5h-1.5zM63.7 293.7h1.5v1.5h-1.5zM90.0 292.2h1.5v1.5h-1.5zM73.5 289.7h1.5v1.5h-1.5zM73.5 288.5h1.5v1.5h-1.5zM76.1 288.4h1.5v1.5h-1.5zM90.3 292.5h1.5v1.5h-1.5zM68.9 292.8h1.5v1.5h-1.5zM89.6 292.6h1.5v1.5h-1.5zM75.6 293.2h1.5v1.5h-1.5zM83.4 284.1h1.5v1.5h-1.5zM86.0 293.1h1.5v1.5h-1.5zM79.4 290.4h1.5v1.5h-1.5zM80.5 284.6h1.5v1.5h-1.5zM64.2 293.4h1.5v1.5h-1.5zM68.8 291.7h1.5v1.5h-1.5zM86.0 290.4h1.5v1.5h-1.5zM81.0 289.1h1.5v1.5h-1.5zM85.1 287.3h1.5v1.5h-1.5zM91.2 293.1h1.5v1.5h-1.5zM67.1 292.0h1.5v1.5h-1.5zM76.9 292.9h1.5v1.5h-1.5zM82.0 290.6h1.5v1.5h-1.5zM78.8 292.2h1.5v1.5h-1.5zM71.6 289.8h1.5v1.5h-1.5zM67.1 291.2h1.5v1.5h-1.5zM69.9 292.2h1.5v1.5h-1.5zM74.9 285.1h1.5v1.5h-1.5zM85.2 293.3h1.5v1.5h-1.5zM68.8 291.0h1.5v1.5h-1.5zM69.3 291.6h1.5v1.5h-1.5zM90.9 293.0h1.5v1.5h-1.5zM68.1 293.0h1.5v1.5h-1.5zM65.1 293.6h1.5v1.5h-1.5zM64.5 290.8h1.5v1.5h-1.5zM53.8 291.7h1.5v1.5h-1.5zM51.0 293.0h1.5v1.5h-1.5zM61.5 292.2h1.5v1.5h-1.5zM46.7 292.9h1.5v1.5h-1.5zM57.5 293.2h1.5v1.5h-1.5zM60.4 291.5h1.5v1.5h-1.5zM51.5 292.7h1.5v1.5h-1.5zM55.2 291.0h1.5v1.5h-1.5zM56.8 293.6h1.5v1.5h-1.5zM48.6 292.0h1.5v1.5h-1.5zM49.1 291.0h1.5v1.5h-1.5zM50.1 292.3h1.5v1.5h-1.5zM40.8 292.1h1.5v1.5h-1.5zM64.6 293.7h1.5v1.5h-1.5zM47.5 292.7h1.5v1.5h-1.5zM60.9 292.0h1.5v1.5h-1.5zM52.2 293.0h1.5v1.5h-1.5zM44.3 291.7h1.5v1.5h-1.5zM59.3 293.7h1.5v1.5h-1.5zM51.3 291.7h1.5v1.5h-1.5zM47.3 291.9h1.5v1.5h-1.5zM40.2 291.7h1.5v1.5h-1.5zM42.1 291.8h1.5v1.5h-1.5zM54.8 292.7h1.5v1.5h-1.5zM43.7 292.8h1.5v1.5h-1.5zM49.0 291.1h1.5v1.5h-1.5zM46.2 275.9h1.5v1.5h-1.5zM37.1 285.8h1.5v1.5h-1.5zM45.9 288.2h1.5v1.5h-1.5zM50.0 282.3h1.5v1.5h-1.5zM75.2 279.1h1.5v1.5h-1.5zM48.0 277.1h1.5v1.5h-1.5zM33.0 288.1h1.5v1.5h-1.5zM46.9 282.6h1.5v1.5h-1.5zM37.7 289.9h1.5v1.5h-1.5zM61.2 275.1h1.5v1.5h-1.5zM69.2 189.6h1.5v1.5h-1.5zM80.7 189.6h1.5v1.5h-1.5zM77.9 194.2l1.1 1.9h-2.2zM71.8 228.4h1.5v1.5h-1.5zM76.3 234.6h1.5v1.5h-1.5zM80.7 234.6h1.5v1.5h-1.5zM79.8 264.2h1.5v1.5h-1.5zM80.7 267.4h1.5v1.5h-1.5zM19.4 291.8h1.5v1.5h-1.5zM21.2 292.1h1.5v1.5h-1.5zM25.2 292.1h1.5v1.5h-1.5zM26.8 292.4h1.5v1.5h-1.5zM32.0 292.0l1.1 1.9h-2.2zM36.2 292.2h1.5v1.5h-1.5zM314.3 291.4h1.5v1.5h-1.5zM314.5 288.7h1.5v1.5h-1.5zM309.8 289.0h1.5v1.5h-1.5zM303.7 291.7h1.5v1.5h-1.5zM308.0 292.4h1.5v1.5h-1.5zM316.5 293.6h1.5v1.5h-1.5zM314.3 288.6h1.5v1.5h-1.5zM303.8 291.5l1.1 1.9h-2.2zM316.7 293.3l1.1 1.9h-2.2zM318.1 285.8h1.5v1.5h-1.5zM310.8 290.5l1.1 1.9h-2.2zM304.1 291.1l1.1 1.9h-2.2zM312.0 289.9l1.1 1.9h-2.2zM312.2 291.0h1.5v1.5h-1.5zM320.4 292.1l1.1 1.9h-2.2zM315.1 292.3l1.1 1.9h-2.2zM304.2 293.0h1.5v1.5h-1.5zM310.6 291.0h1.5v1.5h-1.5zM304.1 292.4h1.5v1.5h-1.5zM303.0 293.7h1.5v1.5h-1.5zM306.6 292.4h1.5v1.5h-1.5zM315.1 291.9h1.5v1.5h-1.5zM303.5 290.8l1.1 1.9h-2.2zM315.6 290.2h1.5v1.5h-1.5zM313.5 290.4l1.1 1.9h-2.2zM307.0 292.2l1.1 1.9h-2.2zM312.4 290.0h1.5v1.5h-1.5zM312.6 292.4l1.1 1.9h-2.2zM313.5 290.5l1.1 1.9h-2.2zM317.6 291.6h1.5v1.5h-1.5zM320.2 292.8l1.1 1.9h-2.2zM317.4 292.1h1.5v1.5h-1.5zM307.8 291.6h1.5v1.5h-1.5zM309.0 291.3l1.1 1.9h-2.2zM303.7 292.6l1.1 1.9h-2.2zM313.2 293.4h1.5v1.5h-1.5zM319.1 293.4h1.5v1.5h-1.5zM317.8 285.0h1.5v1.5h-1.5zM317.0 293.5l1.1 1.9h-2.2zM304.4 292.1h1.5v1.5h-1.5zM309.2 291.2l1.1 1.9h-2.2zM318.1 290.3l1.1 1.9h-2.2zM308.3 291.6h1.5v1.5h-1.5zM311.0 288.3h1.5v1.5h-1.5zM308.6 290.7l1.1 1.9h-2.2zM319.3 291.0h1.5v1.5h-1.5zM302.0 293.7h1.5v1.5h-1.5zM313.0 292.0h1.5v1.5h-1.5zM316.7 293.0l1.1 1.9h-2.2zM314.2 289.3h1.5v1.5h-1.5zM311.6 291.8l1.1 1.9h-2.2zM307.7 290.5h1.5v1.5h-1.5zM310.4 293.6h1.5v1.5h-1.5zM319.2 291.0h1.5v1.5h-1.5zM313.8 288.3l1.1 1.9h-2.2zM304.9 293.1h1.5v1.5h-1.5zM313.3 293.3h1.5v1.5h-1.5zM312.4 289.3h1.5v1.5h-1.5zM310.0 289.3l1.1 1.9h-2.2zM312.8 291.9l1.1 1.9h-2.2zM314.3 286.3h1.5v1.5h-1.5zM304.8 292.6l1.1 1.9h-2.2zM311.4 292.9h1.5v1.5h-1.5zM316.7 290.6l1.1 1.9h-2.2zM304.6 289.6h1.5v1.5h-1.5zM310.4 291.1h1.5v1.5h-1.5zM307.5 293.0h1.5v1.5h-1.5zM315.7 291.5l1.1 1.9h-2.2zM318.9 292.1h1.5v1.5h-1.5zM312.0 287.6h1.5v1.5h-1.5zM314.0 291.0h1.5v1.5h-1.5zM304.3 291.1h1.5v1.5h-1.5zM314.3 292.4h1.5v1.5h-1.5zM314.4 287.9h1.5v1.5h-1.5zM315.4 292.8l1.1 1.9h-2.2zM315.6 293.2l1.1 1.9h-2.2zM312.4 288.1h1.5v1.5h-1.5zM315.8 291.1h1.5v1.5h-1.5zM315.8 286.3h1.5v1.5h-1.5zM312.4 292.6h1.5v1.5h-1.5zM304.5 289.9h1.5v1.5h-1.5zM283.4 292.3h1.5v1.5h-1.5zM284.9 291.8h1.5v1.5h-1.5zM268.9 292.0h1.5v1.5h-1.5zM271.4 291.8h1.5v1.5h-1.5zM275.6 291.9h1.5v1.5h-1.5zM267.1 291.7h1.5v1.5h-1.5zM284.2 291.4h1.5v1.5h-1.5zM267.1 292.5h1.5v1.5h-1.5zM298.3 291.7h1.5v1.5h-1.5zM295.5 291.6h1.5v1.5h-1.5zM292.3 293.6h1.5v1.5h-1.5zM293.2 291.1h1.5v1.5h-1.5zM278.9 291.3h1.5v1.5h-1.5zM280.5 293.0h1.5v1.5h-1.5zM276.6 292.1h1.5v1.5h-1.5zM280.6 293.5h1.5v1.5h-1.5zM273.7 292.5h1.5v1.5h-1.5zM282.5 293.4h1.5v1.5h-1.5zM298.6 293.4h1.5v1.5h-1.5zM296.4 291.1h1.5v1.5h-1.5zM269.4 292.9h1.5v1.5h-1.5zM285.9 291.4h1.5v1.5h-1.5zM297.3 292.6h1.5v1.5h-1.5zM283.2 293.4h1.5v1.5h-1.5zM274.8 291.4h1.5v1.5h-1.5zM286.4 292.8h1.5v1.5h-1.5zM280.0 292.4h1.5v1.5h-1.5zM278.2 292.2h1.5v1.5h-1.5zM289.5 292.6h1.5v1.5h-1.5zM276.1 293.0h1.5v1.5h-1.5zM276.2 293.5h1.5v1.5h-1.5zM297.3 293.3h1.5v1.5h-1.5zM281.9 292.9h1.5v1.5h-1.5zM286.6 292.9h1.5v1.5h-1.5zM299.8 291.1h1.5v1.5h-1.5zM294.8 293.4h1.5v1.5h-1.5zM281.1 291.7h1.5v1.5h-1.5zM312.5 285.3h1.5v1.5h-1.5zM298.5 282.3l1.1 1.9h-2.2zM302.4 282.0h1.5v1.5h-1.5zM296.7 290.2h1.5v1.5h-1.5zM294.9 280.5h1.5v1.5h-1.5zM305.3 286.7h1.5v1.5h-1.5zM300.7 282.5l1.1 1.9h-2.2zM306.8 281.8l1.1 1.9h-2.2zM314.6 283.4l1.1 1.9h-2.2zM294.3 283.3h1.5v1.5h-1.5zM299.0 286.1l1.1 1.9h-2.2zM294.0 288.8l1.1 1.9h-2.2zM301.5 278.5l1.1 1.9h-2.2zM310.7 280.1h1.5v1.5h-1.5zM297.5 285.2h1.5v1.5h-1.5zM303.4 287.9h1.5v1.5h-1.5zM298.4 283.5l1.1 1.9h-2.2zM298.8 288.6h1.5v1.5h-1.5zM307.2 286.2l1.1 1.9h-2.2zM304.1 278.5l1.1 1.9h-2.2zM316.3 280.7h1.5v1.5h-1.5zM294.6 282.7l1.1 1.9h-2.2zM248.8 189.6h1.5v1.5h-1.5zM293.1 189.6h1.5v1.5h-1.5zM296.9 189.6h1.5v1.5h-1.5zM298.9 189.6h1.5v1.5h-1.5zM306.1 194.4h1.5v1.5h-1.5zM310.4 209.1l1.1 1.9h-2.2zM299.2 212.4h1.5v1.5h-1.5zM305.1 226.2h1.5v1.5h-1.5zM277.9 236.8h1.5v1.5h-1.5zM314.2 257.4h1.5v1.5h-1.5zM300.1 265.4h1.5v1.5h-1.5zM297.9 269.1h1.5v1.5h-1.5zM298.4 273.1h1.5v1.5h-1.5zM308.9 270.9h1.5v1.5h-1.5zM307.6 273.9h1.5v1.5h-1.5zM300.9 276.6h1.5v1.5h-1.5zM316.1 274.6h1.5v1.5h-1.5zM318.2 274.9h1.5v1.5h-1.5zM289.2 281.4h1.5v1.5h-1.5zM291.1 284.4h1.5v1.5h-1.5zM298.4 281.4h1.5v1.5h-1.5zM310.4 282.4h1.5v1.5h-1.5zM315.4 280.2h1.5v1.5h-1.5zM319.4 281.4h1.5v1.5h-1.5zM478.5 285.4l1.1 1.9h-2.2zM480.0 285.9l1.1 1.9h-2.2zM483.0 286.4l1.1 1.9h-2.2zM484.0 286.6l1.1 1.9h-2.2zM489.3 287.3l1.1 1.9h-2.2zM492.0 287.8l1.1 1.9h-2.2zM494.5 288.2l1.1 1.9h-2.2zM499.1 289.0l1.1 1.9h-2.2zM496.9 289.2h1.5v1.5h-1.5zM510.3 291.0l1.1 1.9h-2.2zM521.1 292.2h1.5v1.5h-1.5zM506.1 289.2l1.1 1.9h-2.2zM516.5 290.8h1.5v1.5h-1.5zM523.7 292.6h1.5v1.5h-1.5zM508.8 291.1h1.5v1.5h-1.5zM519.3 291.6h1.5v1.5h-1.5zM501.3 288.7l1.1 1.9h-2.2zM515.1 292.0h1.5v1.5h-1.5zM516.5 291.2l1.1 1.9h-2.2zM527.8 293.4h1.5v1.5h-1.5zM513.6 291.3h1.5v1.5h-1.5zM506.0 289.6h1.5v1.5h-1.5zM512.8 291.5h1.5v1.5h-1.5zM508.3 290.6h1.5v1.5h-1.5zM496.1 288.3h1.5v1.5h-1.5zM524.4 291.8h1.5v1.5h-1.5zM496.0 289.3h1.5v1.5h-1.5zM517.8 291.4h1.5v1.5h-1.5zM501.5 289.2h1.5v1.5h-1.5zM503.1 289.4h1.5v1.5h-1.5zM525.6 292.9l1.1 1.9h-2.2zM510.0 290.5l1.1 1.9h-2.2zM509.4 290.5h1.5v1.5h-1.5zM518.7 291.4l1.1 1.9h-2.2zM529.6 293.1h1.5v1.5h-1.5zM515.6 290.8h1.5v1.5h-1.5zM505.8 290.5h1.5v1.5h-1.5zM527.1 292.4h1.5v1.5h-1.5zM517.3 291.4h1.5v1.5h-1.5zM522.9 291.8h1.5v1.5h-1.5zM503.0 289.0l1.1 1.9h-2.2zM521.4 291.8h1.5v1.5h-1.5zM517.3 292.2h1.5v1.5h-1.5zM497.3 288.7h1.5v1.5h-1.5zM502.9 289.7h1.5v1.5h-1.5zM503.0 289.6h1.5v1.5h-1.5zM503.0 289.8h1.5v1.5h-1.5zM524.4 293.0h1.5v1.5h-1.5zM520.6 292.5h1.5v1.5h-1.5zM498.3 289.0h1.5v1.5h-1.5zM520.5 291.7h1.5v1.5h-1.5zM516.9 290.6l1.1 1.9h-2.2zM524.6 291.8h1.5v1.5h-1.5zM525.2 292.0l1.1 1.9h-2.2zM529.5 292.8l1.1 1.9h-2.2zM512.6 290.2l1.1 1.9h-2.2zM501.2 290.1h1.5v1.5h-1.5zM521.8 292.2l1.1 1.9h-2.2zM529.3 293.6h1.5v1.5h-1.5zM550.8 276.8h1.5v1.5h-1.5zM550.7 284.3h1.5v1.5h-1.5zM549.9 282.1h1.5v1.5h-1.5zM539.8 287.7h1.5v1.5h-1.5zM551.1 293.4h1.5v1.5h-1.5zM549.7 273.6h1.5v1.5h-1.5zM545.0 285.0h1.5v1.5h-1.5zM546.5 275.2h1.5v1.5h-1.5zM547.9 279.4h1.5v1.5h-1.5zM548.7 286.4h1.5v1.5h-1.5zM550.0 277.4h1.5v1.5h-1.5zM540.2 276.8h1.5v1.5h-1.5zM550.3 294.5h1.5v1.5h-1.5zM550.3 289.0h1.5v1.5h-1.5zM550.7 279.4h1.5v1.5h-1.5zM548.3 284.2h1.5v1.5h-1.5zM544.6 270.4h1.5v1.5h-1.5zM544.6 290.6h1.5v1.5h-1.5zM544.9 265.9h1.5v1.5h-1.5zM539.1 284.0h1.5v1.5h-1.5zM540.2 276.8h1.5v1.5h-1.5zM529.5 291.0h1.5v1.5h-1.5zM538.1 292.0h1.5v1.5h-1.5zM538.9 293.4h1.5v1.5h-1.5zM535.5 292.3h1.5v1.5h-1.5zM532.4 290.2h1.5v1.5h-1.5zM540.0 286.0h1.5v1.5h-1.5zM533.5 282.5h1.5v1.5h-1.5zM535.3 293.0h1.5v1.5h-1.5zM539.6 285.5h1.5v1.5h-1.5zM534.7 293.7h1.5v1.5h-1.5zM538.4 278.1h1.5v1.5h-1.5zM537.6 278.7h1.5v1.5h-1.5zM531.3 288.7h1.5v1.5h-1.5zM539.5 284.6h1.5v1.5h-1.5zM537.4 282.7h1.5v1.5h-1.5zM539.7 286.8h1.5v1.5h-1.5zM539.2 237.1h1.5v1.5h-1.5zM515.5 254.2l1.1 1.9h-2.2zM478.5 285.3l1.1 1.9h-2.2zM483.0 286.0l1.1 1.9h-2.2zM489.3 287.0l1.1 1.9h-2.2z"/>
<path fill="none" stroke="#7396e8" stroke-width="1.6" stroke-linecap="round" d="M73.7 102.6h0M62.9 108.0h0M73.1 104.8h0M90.8 104.0h0M74.4 107.7h0M67.4 109.4h0M70.4 105.8h0M70.9 109.2h0M74.7 109.2h0M75.8 109.3h0M70.5 107.0h0M87.8 101.9h0M86.8 108.7h0M81.6 107.1h0M80.7 101.7h0M82.4 104.7h0M91.6 104.5h0M66.8 109.7h0M88.0 106.1h0M69.5 107.9h0M92.2 110.9h0M84.5 102.9h0M62.5 110.9h0M76.6 102.9h0M75.7 104.9h0M80.5 110.1h0M83.0 105.3h0M83.9 106.7h0M74.3 106.1h0M72.7 104.9h0M76.7 104.4h0M89.2 106.2h0M89.7 102.7h0M68.4 109.5h0M91.1 109.9h0M80.1 107.1h0M68.7 106.0h0M79.3 110.9h0M69.0 110.9h0M68.0 110.4h0M75.3 108.0h0M91.0 108.4h0M63.0 110.5h0M78.4 104.8h0M72.0 104.4h0M69.6 110.2h0M88.7 108.0h0M89.1 106.2h0M69.3 110.2h0M88.2 104.0h0M83.5 108.5h0M71.6 109.1h0M62.7 111.0h0M77.5 107.3h0M72.0 110.1h0M83.2 104.8h0M71.8 110.3h0M88.5 108.8h0M80.9 105.1h0M79.6 106.9h0M84.9 105.7h0M65.3 111.0h0M73.5 107.4h0M78.2 106.3h0M82.8 104.6h0M82.4 105.3h0M79.7 105.9h0M78.0 110.9h0M84.2 110.4h0M84.4 107.4h0M75.4 110.2h0M90.4 105.8h0M90.5 107.2h0M73.9 107.7h0M67.3 109.5h0M68.4 109.4h0M81.4 100.2h0M63.3 109.1h0M84.7 103.7h0M79.2 108.1h0M77.1 109.8h0M77.8 107.1h0M307.2 290.2h0M320.5 290.1h0M307.4 290.4h0M311.3 291.9h0M314.4 293.5h0M308.1 293.8h0M305.0 291.5h0M311.0 294.5h0M319.7 286.6h0M310.4 294.2h0M311.1 293.6h0M310.7 289.8h0M311.8 293.4h0M307.9 293.5h0M307.2 292.3h0M320.8 293.3h0M310.2 292.6h0M304.4 292.5h0M319.2 290.1h0M319.9 293.2h0M306.7 294.2h0M310.0 293.3h0M310.7 289.1h0M316.7 294.1h0M308.2 292.3h0M315.5 291.6h0M308.6 293.2h0M318.2 291.0h0M313.2 290.5h0M292.9 292.9h0M297.7 291.9h0M279.0 293.9h0M277.6 292.1h0M270.5 292.8h0M288.6 294.2h0M268.1 292.5h0M282.6 293.6h0M273.4 292.9h0M292.3 293.7h0M286.7 293.1h0M271.6 293.2h0M276.7 293.1h0"/>
<path fill="none" stroke="#7396e8" stroke-width="0.45" d="M66.3 101.5a1.1 1.1 0 1 0 2.2 0a1.1 1.1 0 1 0-2.2 0M64.8 85.6a1.1 1.1 0 1 0 2.2 0a1.1 1.1 0 1 0-2.2 0M63.9 98.0a1.1 1.1 0 1 0 2.2 0a1.1 1.1 0 1 0-2.2 0M60.6 102.8a1.1 1.1 0 1 0 2.2 0a1.1 1.1 0 1 0-2.2 0M59.1 107.5a1.1 1.1 0 1 0 2.2 0a1.1 1.1 0 1 0-2.2 0M58.7 104.1a1.1 1.1 0 1 0 2.2 0a1.1 1.1 0 1 0-2.2 0M53.9 103.2a1.1 1.1 0 1 0 2.2 0a1.1 1.1 0 1 0-2.2 0M59.5 101.6a1.1 1.1 0 1 0 2.2 0a1.1 1.1 0 1 0-2.2 0M59.0 106.4a1.1 1.1 0 1 0 2.2 0a1.1 1.1 0 1 0-2.2 0M62.8 96.2a1.1 1.1 0 1 0 2.2 0a1.1 1.1 0 1 0-2.2 0M67.4 97.2a1.1 1.1 0 1 0 2.2 0a1.1 1.1 0 1 0-2.2 0M64.4 100.9a1.1 1.1 0 1 0 2.2 0a1.1 1.1 0 1 0-2.2 0M58.0 104.8a1.1 1.1 0 1 0 2.2 0a1.1 1.1 0 1 0-2.2 0M61.5 97.0a1.1 1.1 0 1 0 2.2 0a1.1 1.1 0 1 0-2.2 0M61.9 87.0a1.1 1.1 0 1 0 2.2 0a1.1 1.1 0 1 0-2.2 0M63.1 105.1a1.1 1.1 0 1 0 2.2 0a1.1 1.1 0 1 0-2.2 0M59.2 94.9a1.1 1.1 0 1 0 2.2 0a1.1 1.1 0 1 0-2.2 0M60.8 84.6a1.1 1.1 0 1 0 2.2 0a1.1 1.1 0 1 0-2.2 0M83.2 95.0a1.1 1.1 0 1 0 2.2 0a1.1 1.1 0 1 0-2.2 0M57.3 85.8a1.1 1.1 0 1 0 2.2 0a1.1 1.1 0 1 0-2.2 0M69.6 93.1a1.1 1.1 0 1 0 2.2 0a1.1 1.1 0 1 0-2.2 0M59.6 77.5a1.1 1.1 0 1 0 2.2 0a1.1 1.1 0 1 0-2.2 0M50.2 80.3a1.1 1.1 0 1 0 2.2 0a1.1 1.1 0 1 0-2.2 0M60.2 87.0a1.1 1.1 0 1 0 2.2 0a1.1 1.1 0 1 0-2.2 0M66.1 87.0a1.1 1.1 0 1 0 2.2 0a1.1 1.1 0 1 0-2.2 0M54.6 87.8a1.1 1.1 0 1 0 2.2 0a1.1 1.1 0 1 0-2.2 0M44.4 95.3a1.1 1.1 0 1 0 2.2 0a1.1 1.1 0 1 0-2.2 0M68.6 96.3a1.1 1.1 0 1 0 2.2 0a1.1 1.1 0 1 0-2.2 0M62.9 92.0a1.1 1.1 0 1 0 2.2 0a1.1 1.1 0 1 0-2.2 0M64.9 94.0a1.1 1.1 0 1 0 2.2 0a1.1 1.1 0 1 0-2.2 0M56.9 93.0a1.1 1.1 0 1 0 2.2 0a1.1 1.1 0 1 0-2.2 0M60.9 99.0a1.1 1.1 0 1 0 2.2 0a1.1 1.1 0 1 0-2.2 0M38.9 103.0a1.1 1.1 0 1 0 2.2 0a1.1 1.1 0 1 0-2.2 0M272.9 99.3a1.1 1.1 0 1 0 2.2 0a1.1 1.1 0 1 0-2.2 0M271.0 107.6a1.1 1.1 0 1 0 2.2 0a1.1 1.1 0 1 0-2.2 0M267.8 94.7a1.1 1.1 0 1 0 2.2 0a1.1 1.1 0 1 0-2.2 0M267.1 107.7a1.1 1.1 0 1 0 2.2 0a1.1 1.1 0 1 0-2.2 0M271.1 99.5a1.1 1.1 0 1 0 2.2 0a1.1 1.1 0 1 0-2.2 0M273.0 98.9a1.1 1.1 0 1 0 2.2 0a1.1 1.1 0 1 0-2.2 0M268.8 90.1a1.1 1.1 0 1 0 2.2 0a1.1 1.1 0 1 0-2.2 0M265.9 86.2a1.1 1.1 0 1 0 2.2 0a1.1 1.1 0 1 0-2.2 0M284.9 86.5a1.1 1.1 0 1 0 2.2 0a1.1 1.1 0 1 0-2.2 0M287.9 86.3a1.1 1.1 0 1 0 2.2 0a1.1 1.1 0 1 0-2.2 0M551.7 104.8a1.1 1.1 0 1 0 2.2 0a1.1 1.1 0 1 0-2.2 0M543.4 109.8a1.1 1.1 0 1 0 2.2 0a1.1 1.1 0 1 0-2.2 0M557.4 107.7a1.1 1.1 0 1 0 2.2 0a1.1 1.1 0 1 0-2.2 0M553.4 109.1a1.1 1.1 0 1 0 2.2 0a1.1 1.1 0 1 0-2.2 0M552.8 103.0a1.1 1.1 0 1 0 2.2 0a1.1 1.1 0 1 0-2.2 0M551.7 102.9a1.1 1.1 0 1 0 2.2 0a1.1 1.1 0 1 0-2.2 0M546.0 103.6a1.1 1.1 0 1 0 2.2 0a1.1 1.1 0 1 0-2.2 0M557.5 108.4a1.1 1.1 0 1 0 2.2 0a1.1 1.1 0 1 0-2.2 0M556.4 102.9a1.1 1.1 0 1 0 2.2 0a1.1 1.1 0 1 0-2.2 0M554.0 106.1a1.1 1.1 0 1 0 2.2 0a1.1 1.1 0 1 0-2.2 0M554.7 92.0a1.1 1.1 0 1 0 2.2 0a1.1 1.1 0 1 0-2.2 0M549.8 104.9a1.1 1.1 0 1 0 2.2 0a1.1 1.1 0 1 0-2.2 0M545.6 107.5a1.1 1.1 0 1 0 2.2 0a1.1 1.1 0 1 0-2.2 0M559.4 106.2a1.1 1.1 0 1 0 2.2 0a1.1 1.1 0 1 0-2.2 0M545.5 104.6a1.1 1.1 0 1 0 2.2 0a1.1 1.1 0 1 0-2.2 0M541.5 107.3a1.1 1.1 0 1 0 2.2 0a1.1 1.1 0 1 0-2.2 0M555.8 100.5a1.1 1.1 0 1 0 2.2 0a1.1 1.1 0 1 0-2.2 0M555.2 110.7a1.1 1.1 0 1 0 2.2 0a1.1 1.1 0 1 0-2.2 0M553.7 104.3a1.1 1.1 0 1 0 2.2 0a1.1 1.1 0 1 0-2.2 0M558.3 102.8a1.1 1.1 0 1 0 2.2 0a1.1 1.1 0 1 0-2.2 0M553.7 106.2a1.1 1.1 0 1 0 2.2 0a1.1 1.1 0 1 0-2.2 0M550.5 89.7a1.1 1.1 0 1 0 2.2 0a1.1 1.1 0 1 0-2.2 0M538.7 109.0a1.1 1.1 0 1 0 2.2 0a1.1 1.1 0 1 0-2.2 0M553.1 102.7a1.1 1.1 0 1 0 2.2 0a1.1 1.1 0 1 0-2.2 0M546.0 93.2a1.1 1.1 0 1 0 2.2 0a1.1 1.1 0 1 0-2.2 0M554.7 108.0a1.1 1.1 0 1 0 2.2 0a1.1 1.1 0 1 0-2.2 0M557.3 107.5a1.1 1.1 0 1 0 2.2 0a1.1 1.1 0 1 0-2.2 0M555.4 104.2a1.1 1.1 0 1 0 2.2 0a1.1 1.1 0 1 0-2.2 0M551.7 105.5a1.1 1.1 0 1 0 2.2 0a1.1 1.1 0 1 0-2.2 0M554.6 99.5a1.1 1.1 0 1 0 2.2 0a1.1 1.1 0 1 0-2.2 0M552.6 97.3a1.1 1.1 0 1 0 2.2 0a1.1 1.1 0 1 0-2.2 0M557.5 96.4a1.1 1.1 0 1 0 2.2 0a1.1 1.1 0 1 0-2.2 0M559.8 108.3a1.1 1.1 0 1 0 2.2 0a1.1 1.1 0 1 0-2.2 0M543.8 102.3a1.1 1.1 0 1 0 2.2 0a1.1 1.1 0 1 0-2.2 0M559.3 107.6a1.1 1.1 0 1 0 2.2 0a1.1 1.1 0 1 0-2.2 0M547.3 104.1a1.1 1.1 0 1 0 2.2 0a1.1 1.1 0 1 0-2.2 0M552.8 91.8a1.1 1.1 0 1 0 2.2 0a1.1 1.1 0 1 0-2.2 0M551.1 94.4a1.1 1.1 0 1 0 2.2 0a1.1 1.1 0 1 0-2.2 0M550.3 110.1a1.1 1.1 0 1 0 2.2 0a1.1 1.1 0 1 0-2.2 0M547.2 107.0a1.1 1.1 0 1 0 2.2 0a1.1 1.1 0 1 0-2.2 0M557.5 106.1a1.1 1.1 0 1 0 2.2 0a1.1 1.1 0 1 0-2.2 0M548.4 93.2a1.1 1.1 0 1 0 2.2 0a1.1 1.1 0 1 0-2.2 0M553.0 101.7a1.1 1.1 0 1 0 2.2 0a1.1 1.1 0 1 0-2.2 0M551.2 106.1a1.1 1.1 0 1 0 2.2 0a1.1 1.1 0 1 0-2.2 0M552.4 107.3a1.1 1.1 0 1 0 2.2 0a1.1 1.1 0 1 0-2.2 0M552.0 97.5a1.1 1.1 0 1 0 2.2 0a1.1 1.1 0 1 0-2.2 0M549.2 105.6a1.1 1.1 0 1 0 2.2 0a1.1 1.1 0 1 0-2.2 0M548.0 102.0a1.1 1.1 0 1 0 2.2 0a1.1 1.1 0 1 0-2.2 0M545.0 99.7a1.1 1.1 0 1 0 2.2 0a1.1 1.1 0 1 0-2.2 0M552.9 88.6a1.1 1.1 0 1 0 2.2 0a1.1 1.1 0 1 0-2.2 0M554.5 104.7a1.1 1.1 0 1 0 2.2 0a1.1 1.1 0 1 0-2.2 0M549.5 103.2a1.1 1.1 0 1 0 2.2 0a1.1 1.1 0 1 0-2.2 0M548.5 105.9a1.1 1.1 0 1 0 2.2 0a1.1 1.1 0 1 0-2.2 0M543.6 105.0a1.1 1.1 0 1 0 2.2 0a1.1 1.1 0 1 0-2.2 0M549.1 109.8a1.1 1.1 0 1 0 2.2 0a1.1 1.1 0 1 0-2.2 0M559.7 90.9a1.1 1.1 0 1 0 2.2 0a1.1 1.1 0 1 0-2.2 0M559.0 93.6a1.1 1.1 0 1 0 2.2 0a1.1 1.1 0 1 0-2.2 0M552.7 104.4a1.1 1.1 0 1 0 2.2 0a1.1 1.1 0 1 0-2.2 0M556.8 99.1a1.1 1.1 0 1 0 2.2 0a1.1 1.1 0 1 0-2.2 0M558.8 102.7a1.1 1.1 0 1 0 2.2 0a1.1 1.1 0 1 0-2.2 0M543.1 104.1a1.1 1.1 0 1 0 2.2 0a1.1 1.1 0 1 0-2.2 0M559.0 90.8a1.1 1.1 0 1 0 2.2 0a1.1 1.1 0 1 0-2.2 0M553.8 100.8a1.1 1.1 0 1 0 2.2 0a1.1 1.1 0 1 0-2.2 0M541.3 110.8a1.1 1.1 0 1 0 2.2 0a1.1 1.1 0 1 0-2.2 0M559.8 103.5a1.1 1.1 0 1 0 2.2 0a1.1 1.1 0 1 0-2.2 0M559.5 95.7a1.1 1.1 0 1 0 2.2 0a1.1 1.1 0 1 0-2.2 0M548.9 99.9a1.1 1.1 0 1 0 2.2 0a1.1 1.1 0 1 0-2.2 0M552.0 110.4a1.1 1.1 0 1 0 2.2 0a1.1 1.1 0 1 0-2.2 0M551.1 108.1a1.1 1.1 0 1 0 2.2 0a1.1 1.1 0 1 0-2.2 0M555.7 104.7a1.1 1.1 0 1 0 2.2 0a1.1 1.1 0 1 0-2.2 0M555.5 92.6a1.1 1.1 0 1 0 2.2 0a1.1 1.1 0 1 0-2.2 0M550.4 108.7a1.1 1.1 0 1 0 2.2 0a1.1 1.1 0 1 0-2.2 0M554.3 90.2a1.1 1.1 0 1 0 2.2 0a1.1 1.1 0 1 0-2.2 0M549.5 87.6a1.1 1.1 0 1 0 2.2 0a1.1 1.1 0 1 0-2.2 0M556.4 99.9a1.1 1.1 0 1 0 2.2 0a1.1 1.1 0 1 0-2.2 0M557.8 99.9a1.1 1.1 0 1 0 2.2 0a1.1 1.1 0 1 0-2.2 0M559.8 102.2a1.1 1.1 0 1 0 2.2 0a1.1 1.1 0 1 0-2.2 0M558.6 100.2a1.1 1.1 0 1 0 2.2 0a1.1 1.1 0 1 0-2.2 0M556.6 109.4a1.1 1.1 0 1 0 2.2 0a1.1 1.1 0 1 0-2.2 0M555.1 97.7a1.1 1.1 0 1 0 2.2 0a1.1 1.1 0 1 0-2.2 0M555.3 111.0a1.1 1.1 0 1 0 2.2 0a1.1 1.1 0 1 0-2.2 0M538.1 105.3a1.1 1.1 0 1 0 2.2 0a1.1 1.1 0 1 0-2.2 0M558.8 103.5a1.1 1.1 0 1 0 2.2 0a1.1 1.1 0 1 0-2.2 0M546.4 107.6a1.1 1.1 0 1 0 2.2 0a1.1 1.1 0 1 0-2.2 0M547.9 105.2a1.1 1.1 0 1 0 2.2 0a1.1 1.1 0 1 0-2.2 0M556.2 109.3a1.1 1.1 0 1 0 2.2 0a1.1 1.1 0 1 0-2.2 0M553.3 110.8a1.1 1.1 0 1 0 2.2 0a1.1 1.1 0 1 0-2.2 0M554.8 108.7a1.1 1.1 0 1 0 2.2 0a1.1 1.1 0 1 0-2.2 0M555.3 94.2a1.1 1.1 0 1 0 2.2 0a1.1 1.1 0 1 0-2.2 0M540.0 100.0a1.1 1.1 0 1 0 2.2 0a1.1 1.1 0 1 0-2.2 0M544.4 105.8a1.1 1.1 0 1 0 2.2 0a1.1 1.1 0 1 0-2.2 0M550.6 90.4a1.1 1.1 0 1 0 2.2 0a1.1 1.1 0 1 0-2.2 0M551.1 98.8a1.1 1.1 0 1 0 2.2 0a1.1 1.1 0 1 0-2.2 0M556.5 98.8a1.1 1.1 0 1 0 2.2 0a1.1 1.1 0 1 0-2.2 0M558.3 92.6a1.1 1.1 0 1 0 2.2 0a1.1 1.1 0 1 0-2.2 0M556.6 98.2a1.1 1.1 0 1 0 2.2 0a1.1 1.1 0 1 0-2.2 0M559.9 94.8a1.1 1.1 0 1 0 2.2 0a1.1 1.1 0 1 0-2.2 0M549.1 106.6a1.1 1.1 0 1 0 2.2 0a1.1 1.1 0 1 0-2.2 0M540.7 103.0a1.1 1.1 0 1 0 2.2 0a1.1 1.1 0 1 0-2.2 0M539.7 104.1a1.1 1.1 0 1 0 2.2 0a1.1 1.1 0 1 0-2.2 0M559.1 92.0a1.1 1.1 0 1 0 2.2 0a1.1 1.1 0 1 0-2.2 0M550.7 105.4a1.1 1.1 0 1 0 2.2 0a1.1 1.1 0 1 0-2.2 0M554.0 98.0a1.1 1.1 0 1 0 2.2 0a1.1 1.1 0 1 0-2.2 0M539.5 103.3a1.1 1.1 0 1 0 2.2 0a1.1 1.1 0 1 0-2.2 0M557.9 104.0a1.1 1.1 0 1 0 2.2 0a1.1 1.1 0 1 0-2.2 0M548.3 105.4a1.1 1.1 0 1 0 2.2 0a1.1 1.1 0 1 0-2.2 0M557.9 99.8a1.1 1.1 0 1 0 2.2 0a1.1 1.1 0 1 0-2.2 0M559.5 110.1a1.1 1.1 0 1 0 2.2 0a1.1 1.1 0 1 0-2.2 0M557.4 107.9a1.1 1.1 0 1 0 2.2 0a1.1 1.1 0 1 0-2.2 0M555.0 100.6a1.1 1.1 0 1 0 2.2 0a1.1 1.1 0 1 0-2.2 0M552.2 110.4a1.1 1.1 0 1 0 2.2 0a1.1 1.1 0 1 0-2.2 0M547.5 110.2a1.1 1.1 0 1 0 2.2 0a1.1 1.1 0 1 0-2.2 0M545.0 105.3a1.1 1.1 0 1 0 2.2 0a1.1 1.1 0 1 0-2.2 0M550.1 99.7a1.1 1.1 0 1 0 2.2 0a1.1 1.1 0 1 0-2.2 0M556.8 102.1a1.1 1.1 0 1 0 2.2 0a1.1 1.1 0 1 0-2.2 0M544.3 95.7a1.1 1.1 0 1 0 2.2 0a1.1 1.1 0 1 0-2.2 0M539.8 105.6a1.1 1.1 0 1 0 2.2 0a1.1 1.1 0 1 0-2.2 0M558.8 99.6a1.1 1.1 0 1 0 2.2 0a1.1 1.1 0 1 0-2.2 0M545.3 98.0a1.1 1.1 0 1 0 2.2 0a1.1 1.1 0 1 0-2.2 0M555.6 109.5a1.1 1.1 0 1 0 2.2 0a1.1 1.1 0 1 0-2.2 0M559.3 99.8a1.1 1.1 0 1 0 2.2 0a1.1 1.1 0 1 0-2.2 0M539.7 107.0a1.1 1.1 0 1 0 2.2 0a1.1 1.1 0 1 0-2.2 0M550.8 103.0a1.1 1.1 0 1 0 2.2 0a1.1 1.1 0 1 0-2.2 0M556.8 103.0a1.1 1.1 0 1 0 2.2 0a1.1 1.1 0 1 0-2.2 0M555.2 102.7a1.1 1.1 0 1 0 2.2 0a1.1 1.1 0 1 0-2.2 0M559.0 97.3a1.1 1.1 0 1 0 2.2 0a1.1 1.1 0 1 0-2.2 0M551.7 108.5a1.1 1.1 0 1 0 2.2 0a1.1 1.1 0 1 0-2.2 0M549.8 92.1a1.1 1.1 0 1 0 2.2 0a1.1 1.1 0 1 0-2.2 0M542.4 97.2a1.1 1.1 0 1 0 2.2 0a1.1 1.1 0 1 0-2.2 0M545.9 97.8a1.1 1.1 0 1 0 2.2 0a1.1 1.1 0 1 0-2.2 0M551.4 106.2a1.1 1.1 0 1 0 2.2 0a1.1 1.1 0 1 0-2.2 0M547.7 94.7a1.1 1.1 0 1 0 2.2 0a1.1 1.1 0 1 0-2.2 0M551.3 103.7a1.1 1.1 0 1 0 2.2 0a1.1 1.1 0 1 0-2.2 0M555.5 93.3a1.1 1.1 0 1 0 2.2 0a1.1 1.1 0 1 0-2.2 0M543.4 105.0a1.1 1.1 0 1 0 2.2 0a1.1 1.1 0 1 0-2.2 0M556.1 106.7a1.1 1.1 0 1 0 2.2 0a1.1 1.1 0 1 0-2.2 0M553.9 100.4a1.1 1.1 0 1 0 2.2 0a1.1 1.1 0 1 0-2.2 0M557.8 93.8a1.1 1.1 0 1 0 2.2 0a1.1 1.1 0 1 0-2.2 0M555.1 101.1a1.1 1.1 0 1 0 2.2 0a1.1 1.1 0 1 0-2.2 0M554.5 93.7a1.1 1.1 0 1 0 2.2 0a1.1 1.1 0 1 0-2.2 0M547.6 110.2a1.1 1.1 0 1 0 2.2 0a1.1 1.1 0 1 0-2.2 0M555.3 97.1a1.1 1.1 0 1 0 2.2 0a1.1 1.1 0 1 0-2.2 0M549.8 103.3a1.1 1.1 0 1 0 2.2 0a1.1 1.1 0 1 0-2.2 0M548.3 95.7a1.1 1.1 0 1 0 2.2 0a1.1 1.1 0 1 0-2.2 0M555.2 101.6a1.1 1.1 0 1 0 2.2 0a1.1 1.1 0 1 0-2.2 0M542.0 100.0a1.1 1.1 0 1 0 2.2 0a1.1 1.1 0 1 0-2.2 0M552.1 108.1a1.1 1.1 0 1 0 2.2 0a1.1 1.1 0 1 0-2.2 0M553.8 101.2a1.1 1.1 0 1 0 2.2 0a1.1 1.1 0 1 0-2.2 0M556.9 105.3a1.1 1.1 0 1 0 2.2 0a1.1 1.1 0 1 0-2.2 0M554.8 91.5a1.1 1.1 0 1 0 2.2 0a1.1 1.1 0 1 0-2.2 0M550.8 100.5a1.1 1.1 0 1 0 2.2 0a1.1 1.1 0 1 0-2.2 0M556.0 102.7a1.1 1.1 0 1 0 2.2 0a1.1 1.1 0 1 0-2.2 0M551.3 107.9a1.1 1.1 0 1 0 2.2 0a1.1 1.1 0 1 0-2.2 0M548.2 94.2a1.1 1.1 0 1 0 2.2 0a1.1 1.1 0 1 0-2.2 0M558.2 106.8a1.1 1.1 0 1 0 2.2 0a1.1 1.1 0 1 0-2.2 0M554.9 92.8a1.1 1.1 0 1 0 2.2 0a1.1 1.1 0 1 0-2.2 0M548.0 104.6a1.1 1.1 0 1 0 2.2 0a1.1 1.1 0 1 0-2.2 0M554.5 107.1a1.1 1.1 0 1 0 2.2 0a1.1 1.1 0 1 0-2.2 0M547.1 97.2a1.1 1.1 0 1 0 2.2 0a1.1 1.1 0 1 0-2.2 0M548.4 99.0a1.1 1.1 0 1 0 2.2 0a1.1 1.1 0 1 0-2.2 0M552.5 105.3a1.1 1.1 0 1 0 2.2 0a1.1 1.1 0 1 0-2.2 0M548.2 102.0a1.1 1.1 0 1 0 2.2 0a1.1 1.1 0 1 0-2.2 0M546.8 104.8a1.1 1.1 0 1 0 2.2 0a1.1 1.1 0 1 0-2.2 0M523.5 110.9a1.1 1.1 0 1 0 2.2 0a1.1 1.1 0 1 0-2.2 0M543.1 90.0a1.1 1.1 0 1 0 2.2 0a1.1 1.1 0 1 0-2.2 0M530.5 105.0a1.1 1.1 0 1 0 2.2 0a1.1 1.1 0 1 0-2.2 0M520.0 109.2a1.1 1.1 0 1 0 2.2 0a1.1 1.1 0 1 0-2.2 0M517.2 102.3a1.1 1.1 0 1 0 2.2 0a1.1 1.1 0 1 0-2.2 0M521.8 94.5a1.1 1.1 0 1 0 2.2 0a1.1 1.1 0 1 0-2.2 0M543.3 88.1a1.1 1.1 0 1 0 2.2 0a1.1 1.1 0 1 0-2.2 0M523.7 105.5a1.1 1.1 0 1 0 2.2 0a1.1 1.1 0 1 0-2.2 0M525.1 104.7a1.1 1.1 0 1 0 2.2 0a1.1 1.1 0 1 0-2.2 0M518.6 99.5a1.1 1.1 0 1 0 2.2 0a1.1 1.1 0 1 0-2.2 0M527.0 105.7a1.1 1.1 0 1 0 2.2 0a1.1 1.1 0 1 0-2.2 0M530.4 89.9a1.1 1.1 0 1 0 2.2 0a1.1 1.1 0 1 0-2.2 0M532.8 93.4a1.1 1.1 0 1 0 2.2 0a1.1 1.1 0 1 0-2.2 0M524.4 97.5a1.1 1.1 0 1 0 2.2 0a1.1 1.1 0 1 0-2.2 0M517.4 108.5a1.1 1.1 0 1 0 2.2 0a1.1 1.1 0 1 0-2.2 0M522.8 110.5a1.1 1.1 0 1 0 2.2 0a1.1 1.1 0 1 0-2.2 0M521.7 107.9a1.1 1.1 0 1 0 2.2 0a1.1 1.1 0 1 0-2.2 0M528.5 90.6a1.1 1.1 0 1 0 2.2 0a1.1 1.1 0 1 0-2.2 0M527.9 107.1a1.1 1.1 0 1 0 2.2 0a1.1 1.1 0 1 0-2.2 0M522.3 99.3a1.1 1.1 0 1 0 2.2 0a1.1 1.1 0 1 0-2.2 0M523.9 100.7a1.1 1.1 0 1 0 2.2 0a1.1 1.1 0 1 0-2.2 0M529.8 92.2a1.1 1.1 0 1 0 2.2 0a1.1 1.1 0 1 0-2.2 0M522.9 99.7a1.1 1.1 0 1 0 2.2 0a1.1 1.1 0 1 0-2.2 0M520.0 98.0a1.1 1.1 0 1 0 2.2 0a1.1 1.1 0 1 0-2.2 0M531.9 97.6a1.1 1.1 0 1 0 2.2 0a1.1 1.1 0 1 0-2.2 0M532.3 103.1a1.1 1.1 0 1 0 2.2 0a1.1 1.1 0 1 0-2.2 0M541.2 89.2a1.1 1.1 0 1 0 2.2 0a1.1 1.1 0 1 0-2.2 0M530.3 93.1a1.1 1.1 0 1 0 2.2 0a1.1 1.1 0 1 0-2.2 0M539.6 89.0a1.1 1.1 0 1 0 2.2 0a1.1 1.1 0 1 0-2.2 0M535.2 91.1a1.1 1.1 0 1 0 2.2 0a1.1 1.1 0 1 0-2.2 0M535.5 100.8a1.1 1.1 0 1 0 2.2 0a1.1 1.1 0 1 0-2.2 0M518.5 103.4a1.1 1.1 0 1 0 2.2 0a1.1 1.1 0 1 0-2.2 0M534.2 93.1a1.1 1.1 0 1 0 2.2 0a1.1 1.1 0 1 0-2.2 0M527.5 106.2a1.1 1.1 0 1 0 2.2 0a1.1 1.1 0 1 0-2.2 0M530.7 107.5a1.1 1.1 0 1 0 2.2 0a1.1 1.1 0 1 0-2.2 0M532.4 95.8a1.1 1.1 0 1 0 2.2 0a1.1 1.1 0 1 0-2.2 0M530.6 57.9a1.1 1.1 0 1 0 2.2 0a1.1 1.1 0 1 0-2.2 0M520.8 83.4a1.1 1.1 0 1 0 2.2 0a1.1 1.1 0 1 0-2.2 0M518.1 62.2a1.1 1.1 0 1 0 2.2 0a1.1 1.1 0 1 0-2.2 0M526.6 85.1a1.1 1.1 0 1 0 2.2 0a1.1 1.1 0 1 0-2.2 0M528.3 80.0a1.1 1.1 0 1 0 2.2 0a1.1 1.1 0 1 0-2.2 0M529.1 59.2a1.1 1.1 0 1 0 2.2 0a1.1 1.1 0 1 0-2.2 0M490.4 88.4a1.1 1.1 0 1 0 2.2 0a1.1 1.1 0 1 0-2.2 0M528.9 65.6a1.1 1.1 0 1 0 2.2 0a1.1 1.1 0 1 0-2.2 0M536.9 91.5l1 1.8h-2zM534.9 69.1a1.1 1.1 0 1 0 2.2 0a1.1 1.1 0 1 0-2.2 0M521.1 102.9a1.1 1.1 0 1 0 2.2 0a1.1 1.1 0 1 0-2.2 0M540.8 72.5a1.1 1.1 0 1 0 2.2 0a1.1 1.1 0 1 0-2.2 0M540.5 76.7l1 1.8h-2zM543.9 69.9a1.1 1.1 0 1 0 2.2 0a1.1 1.1 0 1 0-2.2 0M505.6 90.2a1.1 1.1 0 1 0 2.2 0a1.1 1.1 0 1 0-2.2 0M532.0 91.5a1.1 1.1 0 1 0 2.2 0a1.1 1.1 0 1 0-2.2 0M531.8 102.8a1.1 1.1 0 1 0 2.2 0a1.1 1.1 0 1 0-2.2 0M529.7 74.8a1.1 1.1 0 1 0 2.2 0a1.1 1.1 0 1 0-2.2 0M513.7 99.3a1.1 1.1 0 1 0 2.2 0a1.1 1.1 0 1 0-2.2 0M531.5 88.5a1.1 1.1 0 1 0 2.2 0a1.1 1.1 0 1 0-2.2 0M529.6 67.0a1.1 1.1 0 1 0 2.2 0a1.1 1.1 0 1 0-2.2 0M503.5 79.4a1.1 1.1 0 1 0 2.2 0a1.1 1.1 0 1 0-2.2 0M514.7 66.4l1 1.8h-2zM520.6 89.4a1.1 1.1 0 1 0 2.2 0a1.1 1.1 0 1 0-2.2 0M542.6 78.5a1.1 1.1 0 1 0 2.2 0a1.1 1.1 0 1 0-2.2 0M523.3 63.7a1.1 1.1 0 1 0 2.2 0a1.1 1.1 0 1 0-2.2 0M526.0 88.8a1.1 1.1 0 1 0 2.2 0a1.1 1.1 0 1 0-2.2 0M490.7 100.0a1.1 1.1 0 1 0 2.2 0a1.1 1.1 0 1 0-2.2 0M493.5 78.0l1 1.8h-2zM532.0 80.0a1.1 1.1 0 1 0 2.2 0a1.1 1.1 0 1 0-2.2 0M505.5 90.8a1.1 1.1 0 1 0 2.2 0a1.1 1.1 0 1 0-2.2 0M501.5 95.3a1.1 1.1 0 1 0 2.2 0a1.1 1.1 0 1 0-2.2 0M501.9 109.0l1 1.8h-2zM509.1 89.6a1.1 1.1 0 1 0 2.2 0a1.1 1.1 0 1 0-2.2 0M517.0 89.8a1.1 1.1 0 1 0 2.2 0a1.1 1.1 0 1 0-2.2 0M533.0 98.2a1.1 1.1 0 1 0 2.2 0a1.1 1.1 0 1 0-2.2 0M538.4 79.5a1.1 1.1 0 1 0 2.2 0a1.1 1.1 0 1 0-2.2 0M532.5 67.9a1.1 1.1 0 1 0 2.2 0a1.1 1.1 0 1 0-2.2 0M518.9 65.1a1.1 1.1 0 1 0 2.2 0a1.1 1.1 0 1 0-2.2 0M505.8 64.9a1.1 1.1 0 1 0 2.2 0a1.1 1.1 0 1 0-2.2 0M508.5 106.6a1.1 1.1 0 1 0 2.2 0a1.1 1.1 0 1 0-2.2 0M531.8 71.3l1 1.8h-2zM503.4 70.4a1.1 1.1 0 1 0 2.2 0a1.1 1.1 0 1 0-2.2 0M539.9 96.1a1.1 1.1 0 1 0 2.2 0a1.1 1.1 0 1 0-2.2 0M524.8 100.3a1.1 1.1 0 1 0 2.2 0a1.1 1.1 0 1 0-2.2 0M505.8 74.6a1.1 1.1 0 1 0 2.2 0a1.1 1.1 0 1 0-2.2 0M534.7 103.7a1.1 1.1 0 1 0 2.2 0a1.1 1.1 0 1 0-2.2 0M512.1 100.6a1.1 1.1 0 1 0 2.2 0a1.1 1.1 0 1 0-2.2 0M531.6 105.9l1 1.8h-2zM499.8 77.8a1.1 1.1 0 1 0 2.2 0a1.1 1.1 0 1 0-2.2 0M535.5 91.4a1.1 1.1 0 1 0 2.2 0a1.1 1.1 0 1 0-2.2 0M526.8 94.5a1.1 1.1 0 1 0 2.2 0a1.1 1.1 0 1 0-2.2 0M510.2 67.6a1.1 1.1 0 1 0 2.2 0a1.1 1.1 0 1 0-2.2 0M542.5 68.1a1.1 1.1 0 1 0 2.2 0a1.1 1.1 0 1 0-2.2 0M534.8 77.9a1.1 1.1 0 1 0 2.2 0a1.1 1.1 0 1 0-2.2 0M522.2 21.8a1.1 1.1 0 1 0 2.2 0a1.1 1.1 0 1 0-2.2 0M500.5 26.7a1.1 1.1 0 1 0 2.2 0a1.1 1.1 0 1 0-2.2 0M512.4 32.5a1.1 1.1 0 1 0 2.2 0a1.1 1.1 0 1 0-2.2 0M506.6 38.3a1.1 1.1 0 1 0 2.2 0a1.1 1.1 0 1 0-2.2 0M502.0 45.5a1.1 1.1 0 1 0 2.2 0a1.1 1.1 0 1 0-2.2 0M506.1 48.9a1.1 1.1 0 1 0 2.2 0a1.1 1.1 0 1 0-2.2 0M518.5 54.2a1.1 1.1 0 1 0 2.2 0a1.1 1.1 0 1 0-2.2 0M521.9 56.6a1.1 1.1 0 1 0 2.2 0a1.1 1.1 0 1 0-2.2 0M523.9 56.8a1.1 1.1 0 1 0 2.2 0a1.1 1.1 0 1 0-2.2 0M531.8 57.0a1.1 1.1 0 1 0 2.2 0a1.1 1.1 0 1 0-2.2 0M533.8 59.2a1.1 1.1 0 1 0 2.2 0a1.1 1.1 0 1 0-2.2 0M477.4 100.8a1.1 1.1 0 1 0 2.2 0a1.1 1.1 0 1 0-2.2 0M482.4 98.7a1.1 1.1 0 1 0 2.2 0a1.1 1.1 0 1 0-2.2 0M488.0 103.5l1 1.8h-2zM487.4 80.8a1.1 1.1 0 1 0 2.2 0a1.1 1.1 0 1 0-2.2 0M494.9 62.5a1.1 1.1 0 1 0 2.2 0a1.1 1.1 0 1 0-2.2 0M498.2 62.8a1.1 1.1 0 1 0 2.2 0a1.1 1.1 0 1 0-2.2 0M499.9 68.7a1.1 1.1 0 1 0 2.2 0a1.1 1.1 0 1 0-2.2 0M501.6 68.0a1.1 1.1 0 1 0 2.2 0a1.1 1.1 0 1 0-2.2 0M508.9 75.0a1.1 1.1 0 1 0 2.2 0a1.1 1.1 0 1 0-2.2 0M512.9 79.0a1.1 1.1 0 1 0 2.2 0a1.1 1.1 0 1 0-2.2 0M507.9 85.0a1.1 1.1 0 1 0 2.2 0a1.1 1.1 0 1 0-2.2 0M503.9 90.0a1.1 1.1 0 1 0 2.2 0a1.1 1.1 0 1 0-2.2 0M507.9 93.0a1.1 1.1 0 1 0 2.2 0a1.1 1.1 0 1 0-2.2 0M500.9 95.0a1.1 1.1 0 1 0 2.2 0a1.1 1.1 0 1 0-2.2 0M502.9 107.0a1.1 1.1 0 1 0 2.2 0a1.1 1.1 0 1 0-2.2 0M501.9 106.0a1.1 1.1 0 1 0 2.2 0a1.1 1.1 0 1 0-2.2 0M511.9 109.0a1.1 1.1 0 1 0 2.2 0a1.1 1.1 0 1 0-2.2 0M518.9 108.0a1.1 1.1 0 1 0 2.2 0a1.1 1.1 0 1 0-2.2 0M511.9 99.0a1.1 1.1 0 1 0 2.2 0a1.1 1.1 0 1 0-2.2 0M73.3 293.8a1.1 1.1 0 1 0 2.2 0a1.1 1.1 0 1 0-2.2 0M78.6 294.4a1.1 1.1 0 1 0 2.2 0a1.1 1.1 0 1 0-2.2 0M88.8 292.9a1.1 1.1 0 1 0 2.2 0a1.1 1.1 0 1 0-2.2 0M84.6 284.5a1.1 1.1 0 1 0 2.2 0a1.1 1.1 0 1 0-2.2 0M72.2 289.3a1.1 1.1 0 1 0 2.2 0a1.1 1.1 0 1 0-2.2 0M81.3 285.6a1.1 1.1 0 1 0 2.2 0a1.1 1.1 0 1 0-2.2 0M68.1 292.6a1.1 1.1 0 1 0 2.2 0a1.1 1.1 0 1 0-2.2 0M89.9 293.3a1.1 1.1 0 1 0 2.2 0a1.1 1.1 0 1 0-2.2 0M65.3 290.8a1.1 1.1 0 1 0 2.2 0a1.1 1.1 0 1 0-2.2 0M85.7 292.8a1.1 1.1 0 1 0 2.2 0a1.1 1.1 0 1 0-2.2 0M80.7 289.6a1.1 1.1 0 1 0 2.2 0a1.1 1.1 0 1 0-2.2 0M72.0 289.5a1.1 1.1 0 1 0 2.2 0a1.1 1.1 0 1 0-2.2 0M84.7 291.0a1.1 1.1 0 1 0 2.2 0a1.1 1.1 0 1 0-2.2 0M78.3 289.3a1.1 1.1 0 1 0 2.2 0a1.1 1.1 0 1 0-2.2 0M73.6 292.1a1.1 1.1 0 1 0 2.2 0a1.1 1.1 0 1 0-2.2 0M81.4 291.4a1.1 1.1 0 1 0 2.2 0a1.1 1.1 0 1 0-2.2 0M66.9 291.3a1.1 1.1 0 1 0 2.2 0a1.1 1.1 0 1 0-2.2 0M83.0 293.3a1.1 1.1 0 1 0 2.2 0a1.1 1.1 0 1 0-2.2 0M83.4 288.6a1.1 1.1 0 1 0 2.2 0a1.1 1.1 0 1 0-2.2 0M68.3 291.4a1.1 1.1 0 1 0 2.2 0a1.1 1.1 0 1 0-2.2 0M82.4 291.1a1.1 1.1 0 1 0 2.2 0a1.1 1.1 0 1 0-2.2 0M80.1 286.8a1.1 1.1 0 1 0 2.2 0a1.1 1.1 0 1 0-2.2 0M80.0 290.6a1.1 1.1 0 1 0 2.2 0a1.1 1.1 0 1 0-2.2 0M90.5 290.0a1.1 1.1 0 1 0 2.2 0a1.1 1.1 0 1 0-2.2 0M87.5 291.8a1.1 1.1 0 1 0 2.2 0a1.1 1.1 0 1 0-2.2 0M78.8 285.5a1.1 1.1 0 1 0 2.2 0a1.1 1.1 0 1 0-2.2 0M64.0 294.2a1.1 1.1 0 1 0 2.2 0a1.1 1.1 0 1 0-2.2 0M80.1 288.5a1.1 1.1 0 1 0 2.2 0a1.1 1.1 0 1 0-2.2 0M82.1 286.5a1.1 1.1 0 1 0 2.2 0a1.1 1.1 0 1 0-2.2 0M67.3 291.1a1.1 1.1 0 1 0 2.2 0a1.1 1.1 0 1 0-2.2 0M88.0 293.4a1.1 1.1 0 1 0 2.2 0a1.1 1.1 0 1 0-2.2 0M86.6 290.7a1.1 1.1 0 1 0 2.2 0a1.1 1.1 0 1 0-2.2 0M87.5 289.3a1.1 1.1 0 1 0 2.2 0a1.1 1.1 0 1 0-2.2 0M85.2 292.9a1.1 1.1 0 1 0 2.2 0a1.1 1.1 0 1 0-2.2 0M87.5 290.8a1.1 1.1 0 1 0 2.2 0a1.1 1.1 0 1 0-2.2 0M67.8 289.7a1.1 1.1 0 1 0 2.2 0a1.1 1.1 0 1 0-2.2 0M78.4 288.1a1.1 1.1 0 1 0 2.2 0a1.1 1.1 0 1 0-2.2 0M69.8 292.6a1.1 1.1 0 1 0 2.2 0a1.1 1.1 0 1 0-2.2 0M88.3 285.9a1.1 1.1 0 1 0 2.2 0a1.1 1.1 0 1 0-2.2 0M71.4 292.1a1.1 1.1 0 1 0 2.2 0a1.1 1.1 0 1 0-2.2 0M86.3 292.4a1.1 1.1 0 1 0 2.2 0a1.1 1.1 0 1 0-2.2 0M73.1 292.9a1.1 1.1 0 1 0 2.2 0a1.1 1.1 0 1 0-2.2 0M78.6 293.8a1.1 1.1 0 1 0 2.2 0a1.1 1.1 0 1 0-2.2 0M72.8 294.5a1.1 1.1 0 1 0 2.2 0a1.1 1.1 0 1 0-2.2 0M84.3 293.7a1.1 1.1 0 1 0 2.2 0a1.1 1.1 0 1 0-2.2 0M85.7 287.9a1.1 1.1 0 1 0 2.2 0a1.1 1.1 0 1 0-2.2 0M64.3 291.4a1.1 1.1 0 1 0 2.2 0a1.1 1.1 0 1 0-2.2 0M85.2 290.3a1.1 1.1 0 1 0 2.2 0a1.1 1.1 0 1 0-2.2 0M67.2 292.7a1.1 1.1 0 1 0 2.2 0a1.1 1.1 0 1 0-2.2 0M76.7 287.7a1.1 1.1 0 1 0 2.2 0a1.1 1.1 0 1 0-2.2 0M73.2 293.1a1.1 1.1 0 1 0 2.2 0a1.1 1.1 0 1 0-2.2 0M79.9 286.2a1.1 1.1 0 1 0 2.2 0a1.1 1.1 0 1 0-2.2 0M86.4 293.9a1.1 1.1 0 1 0 2.2 0a1.1 1.1 0 1 0-2.2 0M66.1 290.4a1.1 1.1 0 1 0 2.2 0a1.1 1.1 0 1 0-2.2 0M79.7 289.4a1.1 1.1 0 1 0 2.2 0a1.1 1.1 0 1 0-2.2 0M89.1 289.6a1.1 1.1 0 1 0 2.2 0a1.1 1.1 0 1 0-2.2 0M86.7 292.3a1.1 1.1 0 1 0 2.2 0a1.1 1.1 0 1 0-2.2 0M76.8 291.5a1.1 1.1 0 1 0 2.2 0a1.1 1.1 0 1 0-2.2 0M82.3 291.4a1.1 1.1 0 1 0 2.2 0a1.1 1.1 0 1 0-2.2 0M85.0 284.5a1.1 1.1 0 1 0 2.2 0a1.1 1.1 0 1 0-2.2 0M78.1 291.1a1.1 1.1 0 1 0 2.2 0a1.1 1.1 0 1 0-2.2 0M68.3 294.0a1.1 1.1 0 1 0 2.2 0a1.1 1.1 0 1 0-2.2 0M77.6 289.7a1.1 1.1 0 1 0 2.2 0a1.1 1.1 0 1 0-2.2 0M83.4 284.8a1.1 1.1 0 1 0 2.2 0a1.1 1.1 0 1 0-2.2 0M70.9 287.6a1.1 1.1 0 1 0 2.2 0a1.1 1.1 0 1 0-2.2 0M87.4 291.0a1.1 1.1 0 1 0 2.2 0a1.1 1.1 0 1 0-2.2 0M88.8 288.3a1.1 1.1 0 1 0 2.2 0a1.1 1.1 0 1 0-2.2 0M84.0 289.8a1.1 1.1 0 1 0 2.2 0a1.1 1.1 0 1 0-2.2 0M73.4 291.4a1.1 1.1 0 1 0 2.2 0a1.1 1.1 0 1 0-2.2 0M68.3 294.2a1.1 1.1 0 1 0 2.2 0a1.1 1.1 0 1 0-2.2 0M82.5 288.3a1.1 1.1 0 1 0 2.2 0a1.1 1.1 0 1 0-2.2 0M79.9 287.5a1.1 1.1 0 1 0 2.2 0a1.1 1.1 0 1 0-2.2 0M81.3 285.3a1.1 1.1 0 1 0 2.2 0a1.1 1.1 0 1 0-2.2 0M72.6 291.9a1.1 1.1 0 1 0 2.2 0a1.1 1.1 0 1 0-2.2 0M64.0 293.6a1.1 1.1 0 1 0 2.2 0a1.1 1.1 0 1 0-2.2 0M83.7 286.9a1.1 1.1 0 1 0 2.2 0a1.1 1.1 0 1 0-2.2 0M76.0 290.4a1.1 1.1 0 1 0 2.2 0a1.1 1.1 0 1 0-2.2 0M75.1 290.9a1.1 1.1 0 1 0 2.2 0a1.1 1.1 0 1 0-2.2 0M82.3 289.8a1.1 1.1 0 1 0 2.2 0a1.1 1.1 0 1 0-2.2 0M83.4 289.0a1.1 1.1 0 1 0 2.2 0a1.1 1.1 0 1 0-2.2 0M70.9 291.7a1.1 1.1 0 1 0 2.2 0a1.1 1.1 0 1 0-2.2 0M73.1 290.9a1.1 1.1 0 1 0 2.2 0a1.1 1.1 0 1 0-2.2 0M89.0 289.9a1.1 1.1 0 1 0 2.2 0a1.1 1.1 0 1 0-2.2 0M85.1 289.8a1.1 1.1 0 1 0 2.2 0a1.1 1.1 0 1 0-2.2 0M69.6 294.1a1.1 1.1 0 1 0 2.2 0a1.1 1.1 0 1 0-2.2 0M85.6 289.1a1.1 1.1 0 1 0 2.2 0a1.1 1.1 0 1 0-2.2 0M72.7 292.3a1.1 1.1 0 1 0 2.2 0a1.1 1.1 0 1 0-2.2 0M67.2 291.6a1.1 1.1 0 1 0 2.2 0a1.1 1.1 0 1 0-2.2 0M68.7 290.9a1.1 1.1 0 1 0 2.2 0a1.1 1.1 0 1 0-2.2 0M87.8 289.8a1.1 1.1 0 1 0 2.2 0a1.1 1.1 0 1 0-2.2 0M76.6 293.6a1.1 1.1 0 1 0 2.2 0a1.1 1.1 0 1 0-2.2 0M82.8 290.7a1.1 1.1 0 1 0 2.2 0a1.1 1.1 0 1 0-2.2 0M73.4 290.7a1.1 1.1 0 1 0 2.2 0a1.1 1.1 0 1 0-2.2 0M80.9 293.6a1.1 1.1 0 1 0 2.2 0a1.1 1.1 0 1 0-2.2 0M72.5 286.3a1.1 1.1 0 1 0 2.2 0a1.1 1.1 0 1 0-2.2 0M90.9 294.0a1.1 1.1 0 1 0 2.2 0a1.1 1.1 0 1 0-2.2 0M80.7 284.3a1.1 1.1 0 1 0 2.2 0a1.1 1.1 0 1 0-2.2 0M81.7 292.4a1.1 1.1 0 1 0 2.2 0a1.1 1.1 0 1 0-2.2 0M87.6 289.7a1.1 1.1 0 1 0 2.2 0a1.1 1.1 0 1 0-2.2 0M59.2 291.6a1.1 1.1 0 1 0 2.2 0a1.1 1.1 0 1 0-2.2 0M62.8 293.5a1.1 1.1 0 1 0 2.2 0a1.1 1.1 0 1 0-2.2 0M48.3 293.6a1.1 1.1 0 1 0 2.2 0a1.1 1.1 0 1 0-2.2 0M59.2 291.9a1.1 1.1 0 1 0 2.2 0a1.1 1.1 0 1 0-2.2 0M57.2 291.4a1.1 1.1 0 1 0 2.2 0a1.1 1.1 0 1 0-2.2 0M50.1 293.0a1.1 1.1 0 1 0 2.2 0a1.1 1.1 0 1 0-2.2 0M54.2 291.6a1.1 1.1 0 1 0 2.2 0a1.1 1.1 0 1 0-2.2 0M48.2 293.3a1.1 1.1 0 1 0 2.2 0a1.1 1.1 0 1 0-2.2 0M56.5 292.6a1.1 1.1 0 1 0 2.2 0a1.1 1.1 0 1 0-2.2 0M55.1 291.7a1.1 1.1 0 1 0 2.2 0a1.1 1.1 0 1 0-2.2 0M61.2 291.4a1.1 1.1 0 1 0 2.2 0a1.1 1.1 0 1 0-2.2 0M61.2 292.3a1.1 1.1 0 1 0 2.2 0a1.1 1.1 0 1 0-2.2 0M46.4 292.9a1.1 1.1 0 1 0 2.2 0a1.1 1.1 0 1 0-2.2 0M46.9 293.8a1.1 1.1 0 1 0 2.2 0a1.1 1.1 0 1 0-2.2 0M55.8 293.4a1.1 1.1 0 1 0 2.2 0a1.1 1.1 0 1 0-2.2 0M42.4 294.5a1.1 1.1 0 1 0 2.2 0a1.1 1.1 0 1 0-2.2 0M58.6 291.6a1.1 1.1 0 1 0 2.2 0a1.1 1.1 0 1 0-2.2 0M60.2 294.4a1.1 1.1 0 1 0 2.2 0a1.1 1.1 0 1 0-2.2 0M54.7 294.4a1.1 1.1 0 1 0 2.2 0a1.1 1.1 0 1 0-2.2 0M40.6 293.7a1.1 1.1 0 1 0 2.2 0a1.1 1.1 0 1 0-2.2 0M54.9 291.6a1.1 1.1 0 1 0 2.2 0a1.1 1.1 0 1 0-2.2 0M48.2 294.5a1.1 1.1 0 1 0 2.2 0a1.1 1.1 0 1 0-2.2 0M53.3 285.3a1.1 1.1 0 1 0 2.2 0a1.1 1.1 0 1 0-2.2 0M31.5 291.8a1.1 1.1 0 1 0 2.2 0a1.1 1.1 0 1 0-2.2 0M71.4 287.9a1.1 1.1 0 1 0 2.2 0a1.1 1.1 0 1 0-2.2 0M48.9 291.0a1.1 1.1 0 1 0 2.2 0a1.1 1.1 0 1 0-2.2 0M52.7 281.0a1.1 1.1 0 1 0 2.2 0a1.1 1.1 0 1 0-2.2 0M74.9 285.2a1.1 1.1 0 1 0 2.2 0a1.1 1.1 0 1 0-2.2 0M50.7 269.0a1.1 1.1 0 1 0 2.2 0a1.1 1.1 0 1 0-2.2 0M69.2 286.3a1.1 1.1 0 1 0 2.2 0a1.1 1.1 0 1 0-2.2 0M89.6 284.3a1.1 1.1 0 1 0 2.2 0a1.1 1.1 0 1 0-2.2 0M46.8 288.2a1.1 1.1 0 1 0 2.2 0a1.1 1.1 0 1 0-2.2 0M74.8 282.7a1.1 1.1 0 1 0 2.2 0a1.1 1.1 0 1 0-2.2 0M50.1 278.9a1.1 1.1 0 1 0 2.2 0a1.1 1.1 0 1 0-2.2 0M61.3 283.7a1.1 1.1 0 1 0 2.2 0a1.1 1.1 0 1 0-2.2 0M47.3 274.1a1.1 1.1 0 1 0 2.2 0a1.1 1.1 0 1 0-2.2 0M58.9 273.8a1.1 1.1 0 1 0 2.2 0a1.1 1.1 0 1 0-2.2 0M65.3 284.9a1.1 1.1 0 1 0 2.2 0a1.1 1.1 0 1 0-2.2 0M64.1 277.5a1.1 1.1 0 1 0 2.2 0a1.1 1.1 0 1 0-2.2 0M32.4 290.0a1.1 1.1 0 1 0 2.2 0a1.1 1.1 0 1 0-2.2 0M58.4 289.4a1.1 1.1 0 1 0 2.2 0a1.1 1.1 0 1 0-2.2 0M74.4 282.2a1.1 1.1 0 1 0 2.2 0a1.1 1.1 0 1 0-2.2 0M38.3 274.7a1.1 1.1 0 1 0 2.2 0a1.1 1.1 0 1 0-2.2 0M67.6 273.1a1.1 1.1 0 1 0 2.2 0a1.1 1.1 0 1 0-2.2 0M56.3 286.2a1.1 1.1 0 1 0 2.2 0a1.1 1.1 0 1 0-2.2 0M70.9 284.3a1.1 1.1 0 1 0 2.2 0a1.1 1.1 0 1 0-2.2 0M75.6 275.2a1.1 1.1 0 1 0 2.2 0a1.1 1.1 0 1 0-2.2 0M60.4 290.3a1.1 1.1 0 1 0 2.2 0a1.1 1.1 0 1 0-2.2 0M71.9 279.7a1.1 1.1 0 1 0 2.2 0a1.1 1.1 0 1 0-2.2 0M32.8 286.1a1.1 1.1 0 1 0 2.2 0a1.1 1.1 0 1 0-2.2 0M83.0 282.8a1.1 1.1 0 1 0 2.2 0a1.1 1.1 0 1 0-2.2 0M59.4 272.4a1.1 1.1 0 1 0 2.2 0a1.1 1.1 0 1 0-2.2 0M61.8 278.4a1.1 1.1 0 1 0 2.2 0a1.1 1.1 0 1 0-2.2 0M40.7 277.1a1.1 1.1 0 1 0 2.2 0a1.1 1.1 0 1 0-2.2 0M56.0 278.6a1.1 1.1 0 1 0 2.2 0a1.1 1.1 0 1 0-2.2 0M51.9 284.3a1.1 1.1 0 1 0 2.2 0a1.1 1.1 0 1 0-2.2 0M78.3 274.6a1.1 1.1 0 1 0 2.2 0a1.1 1.1 0 1 0-2.2 0M76.6 283.3a1.1 1.1 0 1 0 2.2 0a1.1 1.1 0 1 0-2.2 0M46.5 279.0a1.1 1.1 0 1 0 2.2 0a1.1 1.1 0 1 0-2.2 0M33.8 287.2a1.1 1.1 0 1 0 2.2 0a1.1 1.1 0 1 0-2.2 0M66.3 279.3a1.1 1.1 0 1 0 2.2 0a1.1 1.1 0 1 0-2.2 0M62.7 287.9a1.1 1.1 0 1 0 2.2 0a1.1 1.1 0 1 0-2.2 0M49.2 286.8a1.1 1.1 0 1 0 2.2 0a1.1 1.1 0 1 0-2.2 0M74.8 278.0a1.1 1.1 0 1 0 2.2 0a1.1 1.1 0 1 0-2.2 0M53.2 279.7a1.1 1.1 0 1 0 2.2 0a1.1 1.1 0 1 0-2.2 0M53.5 286.5a1.1 1.1 0 1 0 2.2 0a1.1 1.1 0 1 0-2.2 0M38.1 281.2a1.1 1.1 0 1 0 2.2 0a1.1 1.1 0 1 0-2.2 0M61.3 284.2a1.1 1.1 0 1 0 2.2 0a1.1 1.1 0 1 0-2.2 0M44.9 274.8a1.1 1.1 0 1 0 2.2 0a1.1 1.1 0 1 0-2.2 0M76.2 280.5a1.1 1.1 0 1 0 2.2 0a1.1 1.1 0 1 0-2.2 0M53.3 285.7a1.1 1.1 0 1 0 2.2 0a1.1 1.1 0 1 0-2.2 0M59.9 282.9a1.1 1.1 0 1 0 2.2 0a1.1 1.1 0 1 0-2.2 0M51.8 276.3a1.1 1.1 0 1 0 2.2 0a1.1 1.1 0 1 0-2.2 0M54.3 268.9a1.1 1.1 0 1 0 2.2 0a1.1 1.1 0 1 0-2.2 0M77.9 287.2a1.1 1.1 0 1 0 2.2 0a1.1 1.1 0 1 0-2.2 0M48.4 285.8a1.1 1.1 0 1 0 2.2 0a1.1 1.1 0 1 0-2.2 0M83.0 282.2a1.1 1.1 0 1 0 2.2 0a1.1 1.1 0 1 0-2.2 0M84.1 280.1a1.1 1.1 0 1 0 2.2 0a1.1 1.1 0 1 0-2.2 0M54.0 288.2a1.1 1.1 0 1 0 2.2 0a1.1 1.1 0 1 0-2.2 0M63.5 276.4a1.1 1.1 0 1 0 2.2 0a1.1 1.1 0 1 0-2.2 0M83.7 277.5a1.1 1.1 0 1 0 2.2 0a1.1 1.1 0 1 0-2.2 0M64.4 278.8a1.1 1.1 0 1 0 2.2 0a1.1 1.1 0 1 0-2.2 0M65.2 286.8a1.1 1.1 0 1 0 2.2 0a1.1 1.1 0 1 0-2.2 0M46.6 282.7a1.1 1.1 0 1 0 2.2 0a1.1 1.1 0 1 0-2.2 0M64.2 285.6a1.1 1.1 0 1 0 2.2 0a1.1 1.1 0 1 0-2.2 0M67.0 280.4a1.1 1.1 0 1 0 2.2 0a1.1 1.1 0 1 0-2.2 0M40.6 277.9a1.1 1.1 0 1 0 2.2 0a1.1 1.1 0 1 0-2.2 0M39.2 290.7a1.1 1.1 0 1 0 2.2 0a1.1 1.1 0 1 0-2.2 0M76.4 276.9a1.1 1.1 0 1 0 2.2 0a1.1 1.1 0 1 0-2.2 0M44.6 289.3a1.1 1.1 0 1 0 2.2 0a1.1 1.1 0 1 0-2.2 0M69.7 283.3a1.1 1.1 0 1 0 2.2 0a1.1 1.1 0 1 0-2.2 0M82.6 285.7a1.1 1.1 0 1 0 2.2 0a1.1 1.1 0 1 0-2.2 0M37.3 256.4a1.1 1.1 0 1 0 2.2 0a1.1 1.1 0 1 0-2.2 0M46.9 259.8a1.1 1.1 0 1 0 2.2 0a1.1 1.1 0 1 0-2.2 0M48.5 264.5a1.1 1.1 0 1 0 2.2 0a1.1 1.1 0 1 0-2.2 0M34.4 267.7a1.1 1.1 0 1 0 2.2 0a1.1 1.1 0 1 0-2.2 0M38.5 266.6a1.1 1.1 0 1 0 2.2 0a1.1 1.1 0 1 0-2.2 0M40.6 269.5a1.1 1.1 0 1 0 2.2 0a1.1 1.1 0 1 0-2.2 0M27.7 275.7a1.1 1.1 0 1 0 2.2 0a1.1 1.1 0 1 0-2.2 0M44.9 273.8a1.1 1.1 0 1 0 2.2 0a1.1 1.1 0 1 0-2.2 0M64.2 269.5a1.1 1.1 0 1 0 2.2 0a1.1 1.1 0 1 0-2.2 0M58.6 269.8a1.1 1.1 0 1 0 2.2 0a1.1 1.1 0 1 0-2.2 0M37.7 279.0a1.1 1.1 0 1 0 2.2 0a1.1 1.1 0 1 0-2.2 0M34.4 287.0a1.1 1.1 0 1 0 2.2 0a1.1 1.1 0 1 0-2.2 0M308.4 281.5a1.1 1.1 0 1 0 2.2 0a1.1 1.1 0 1 0-2.2 0M301.8 282.9a1.1 1.1 0 1 0 2.2 0a1.1 1.1 0 1 0-2.2 0M310.2 283.4a1.1 1.1 0 1 0 2.2 0a1.1 1.1 0 1 0-2.2 0M298.1 288.3a1.1 1.1 0 1 0 2.2 0a1.1 1.1 0 1 0-2.2 0M299.7 282.4a1.1 1.1 0 1 0 2.2 0a1.1 1.1 0 1 0-2.2 0M312.8 282.5a1.1 1.1 0 1 0 2.2 0a1.1 1.1 0 1 0-2.2 0M288.1 287.4a1.1 1.1 0 1 0 2.2 0a1.1 1.1 0 1 0-2.2 0M296.1 284.6a1.1 1.1 0 1 0 2.2 0a1.1 1.1 0 1 0-2.2 0M313.1 282.7a1.1 1.1 0 1 0 2.2 0a1.1 1.1 0 1 0-2.2 0M306.8 288.4a1.1 1.1 0 1 0 2.2 0a1.1 1.1 0 1 0-2.2 0M289.1 287.0a1.1 1.1 0 1 0 2.2 0a1.1 1.1 0 1 0-2.2 0M307.2 285.8a1.1 1.1 0 1 0 2.2 0a1.1 1.1 0 1 0-2.2 0M307.0 280.2a1.1 1.1 0 1 0 2.2 0a1.1 1.1 0 1 0-2.2 0M306.1 280.3a1.1 1.1 0 1 0 2.2 0a1.1 1.1 0 1 0-2.2 0M523.4 291.9l1 1.8h-2zM517.5 291.2l1 1.8h-2zM517.4 291.6l1 1.8h-2zM500.3 288.8l1 1.8h-2zM520.5 291.2l1 1.8h-2zM518.7 291.7l1 1.8h-2zM506.9 289.3l1 1.8h-2zM506.8 290.0l1 1.8h-2zM528.9 293.1l1 1.8h-2zM508.5 290.7l1 1.8h-2zM515.0 291.3l1 1.8h-2zM510.6 290.9l1 1.8h-2zM517.8 291.4l1 1.8h-2zM522.7 292.0l1 1.8h-2zM521.6 292.3l1 1.8h-2zM505.4 289.4l1 1.8h-2zM512.6 291.1l1 1.8h-2zM513.3 290.3l1 1.8h-2zM548.9 266.7a1.1 1.1 0 1 0 2.2 0a1.1 1.1 0 1 0-2.2 0M548.0 276.7a1.1 1.1 0 1 0 2.2 0a1.1 1.1 0 1 0-2.2 0M546.5 279.9a1.1 1.1 0 1 0 2.2 0a1.1 1.1 0 1 0-2.2 0M542.7 277.9a1.1 1.1 0 1 0 2.2 0a1.1 1.1 0 1 0-2.2 0M549.5 268.9a1.1 1.1 0 1 0 2.2 0a1.1 1.1 0 1 0-2.2 0M541.5 294.8l1.1-1.1l1.1 1.1l-1.1 1.1zM547.9 268.8a1.1 1.1 0 1 0 2.2 0a1.1 1.1 0 1 0-2.2 0M544.1 277.8l1.1-1.1l1.1 1.1l-1.1 1.1zM543.0 270.5a1.1 1.1 0 1 0 2.2 0a1.1 1.1 0 1 0-2.2 0M546.8 282.0a1.1 1.1 0 1 0 2.2 0a1.1 1.1 0 1 0-2.2 0M550.5 262.5a1.1 1.1 0 1 0 2.2 0a1.1 1.1 0 1 0-2.2 0M545.4 281.8l1.1-1.1l1.1 1.1l-1.1 1.1zM543.9 294.4a1.1 1.1 0 1 0 2.2 0a1.1 1.1 0 1 0-2.2 0M545.5 290.4l1.1-1.1l1.1 1.1l-1.1 1.1zM546.5 293.6l1.1-1.1l1.1 1.1l-1.1 1.1zM542.6 286.8a1.1 1.1 0 1 0 2.2 0a1.1 1.1 0 1 0-2.2 0M548.2 261.2l1.1-1.1l1.1 1.1l-1.1 1.1zM550.3 276.5a1.1 1.1 0 1 0 2.2 0a1.1 1.1 0 1 0-2.2 0M548.9 277.7l1.1-1.1l1.1 1.1l-1.1 1.1zM547.9 258.6l1.1-1.1l1.1 1.1l-1.1 1.1zM540.3 283.3a1.1 1.1 0 1 0 2.2 0a1.1 1.1 0 1 0-2.2 0M540.8 291.8a1.1 1.1 0 1 0 2.2 0a1.1 1.1 0 1 0-2.2 0M545.3 264.3l1.1-1.1l1.1 1.1l-1.1 1.1zM549.8 292.1a1.1 1.1 0 1 0 2.2 0a1.1 1.1 0 1 0-2.2 0M550.5 295.1l1.1-1.1l1.1 1.1l-1.1 1.1zM547.5 285.4a1.1 1.1 0 1 0 2.2 0a1.1 1.1 0 1 0-2.2 0M543.8 287.6a1.1 1.1 0 1 0 2.2 0a1.1 1.1 0 1 0-2.2 0M542.8 267.4a1.1 1.1 0 1 0 2.2 0a1.1 1.1 0 1 0-2.2 0M545.3 275.3a1.1 1.1 0 1 0 2.2 0a1.1 1.1 0 1 0-2.2 0M541.7 284.3l1.1-1.1l1.1 1.1l-1.1 1.1zM550.4 267.9a1.1 1.1 0 1 0 2.2 0a1.1 1.1 0 1 0-2.2 0M547.4 264.9l1.1-1.1l1.1 1.1l-1.1 1.1zM543.5 289.4l1.1-1.1l1.1 1.1l-1.1 1.1zM545.6 270.8a1.1 1.1 0 1 0 2.2 0a1.1 1.1 0 1 0-2.2 0M546.8 269.0a1.1 1.1 0 1 0 2.2 0a1.1 1.1 0 1 0-2.2 0M541.9 288.2a1.1 1.1 0 1 0 2.2 0a1.1 1.1 0 1 0-2.2 0M542.4 283.1a1.1 1.1 0 1 0 2.2 0a1.1 1.1 0 1 0-2.2 0M545.2 277.2a1.1 1.1 0 1 0 2.2 0a1.1 1.1 0 1 0-2.2 0M539.1 294.1a1.1 1.1 0 1 0 2.2 0a1.1 1.1 0 1 0-2.2 0M542.9 275.8l1.1-1.1l1.1 1.1l-1.1 1.1zM545.8 280.3l1.1-1.1l1.1 1.1l-1.1 1.1zM547.7 291.1a1.1 1.1 0 1 0 2.2 0a1.1 1.1 0 1 0-2.2 0M543.9 266.0a1.1 1.1 0 1 0 2.2 0a1.1 1.1 0 1 0-2.2 0M542.2 293.5l1.1-1.1l1.1 1.1l-1.1 1.1zM543.7 270.9l1.1-1.1l1.1 1.1l-1.1 1.1zM547.3 288.8l1.1-1.1l1.1 1.1l-1.1 1.1zM545.1 279.9a1.1 1.1 0 1 0 2.2 0a1.1 1.1 0 1 0-2.2 0M541.2 275.1l1.1-1.1l1.1 1.1l-1.1 1.1zM541.9 279.1a1.1 1.1 0 1 0 2.2 0a1.1 1.1 0 1 0-2.2 0M549.4 293.2l1.1-1.1l1.1 1.1l-1.1 1.1zM549.2 261.4a1.1 1.1 0 1 0 2.2 0a1.1 1.1 0 1 0-2.2 0M546.1 285.6l1.1-1.1l1.1 1.1l-1.1 1.1zM546.2 293.6l1.1-1.1l1.1 1.1l-1.1 1.1zM546.1 291.2a1.1 1.1 0 1 0 2.2 0a1.1 1.1 0 1 0-2.2 0M544.6 291.8a1.1 1.1 0 1 0 2.2 0a1.1 1.1 0 1 0-2.2 0M547.1 279.5a1.1 1.1 0 1 0 2.2 0a1.1 1.1 0 1 0-2.2 0M541.4 285.6a1.1 1.1 0 1 0 2.2 0a1.1 1.1 0 1 0-2.2 0M544.9 294.6l1.1-1.1l1.1 1.1l-1.1 1.1zM549.0 285.2a1.1 1.1 0 1 0 2.2 0a1.1 1.1 0 1 0-2.2 0M543.6 287.9l1.1-1.1l1.1 1.1l-1.1 1.1zM548.9 289.5l1.1-1.1l1.1 1.1l-1.1 1.1zM541.1 278.8a1.1 1.1 0 1 0 2.2 0a1.1 1.1 0 1 0-2.2 0M544.8 294.3l1.1-1.1l1.1 1.1l-1.1 1.1zM545.9 283.6a1.1 1.1 0 1 0 2.2 0a1.1 1.1 0 1 0-2.2 0M539.2 291.1l1.1-1.1l1.1 1.1l-1.1 1.1zM544.9 288.6l1.1-1.1l1.1 1.1l-1.1 1.1zM541.9 274.5l1.1-1.1l1.1 1.1l-1.1 1.1zM542.9 282.3l1.1-1.1l1.1 1.1l-1.1 1.1zM542.7 284.3l1.1-1.1l1.1 1.1l-1.1 1.1zM549.8 263.2a1.1 1.1 0 1 0 2.2 0a1.1 1.1 0 1 0-2.2 0M547.2 290.3a1.1 1.1 0 1 0 2.2 0a1.1 1.1 0 1 0-2.2 0M544.5 283.0l1.1-1.1l1.1 1.1l-1.1 1.1zM549.1 266.5a1.1 1.1 0 1 0 2.2 0a1.1 1.1 0 1 0-2.2 0M542.8 281.3a1.1 1.1 0 1 0 2.2 0a1.1 1.1 0 1 0-2.2 0M540.9 291.1a1.1 1.1 0 1 0 2.2 0a1.1 1.1 0 1 0-2.2 0M544.6 272.4a1.1 1.1 0 1 0 2.2 0a1.1 1.1 0 1 0-2.2 0M544.3 271.6l1.1-1.1l1.1 1.1l-1.1 1.1zM550.9 284.7l1.1-1.1l1.1 1.1l-1.1 1.1zM545.5 278.1l1.1-1.1l1.1 1.1l-1.1 1.1zM549.7 289.1a1.1 1.1 0 1 0 2.2 0a1.1 1.1 0 1 0-2.2 0M541.1 272.2l1.1-1.1l1.1 1.1l-1.1 1.1zM548.3 285.8a1.1 1.1 0 1 0 2.2 0a1.1 1.1 0 1 0-2.2 0M550.6 279.3l1.1-1.1l1.1 1.1l-1.1 1.1zM548.8 289.3a1.1 1.1 0 1 0 2.2 0a1.1 1.1 0 1 0-2.2 0M548.2 290.3l1.1-1.1l1.1 1.1l-1.1 1.1zM547.2 289.5a1.1 1.1 0 1 0 2.2 0a1.1 1.1 0 1 0-2.2 0M549.9 271.4a1.1 1.1 0 1 0 2.2 0a1.1 1.1 0 1 0-2.2 0M545.7 292.4l1.1-1.1l1.1 1.1l-1.1 1.1zM548.9 270.6a1.1 1.1 0 1 0 2.2 0a1.1 1.1 0 1 0-2.2 0M545.1 283.1a1.1 1.1 0 1 0 2.2 0a1.1 1.1 0 1 0-2.2 0M550.3 293.2l1.1-1.1l1.1 1.1l-1.1 1.1zM550.1 282.8a1.1 1.1 0 1 0 2.2 0a1.1 1.1 0 1 0-2.2 0M546.7 270.5a1.1 1.1 0 1 0 2.2 0a1.1 1.1 0 1 0-2.2 0M549.8 294.5a1.1 1.1 0 1 0 2.2 0a1.1 1.1 0 1 0-2.2 0M540.6 290.3a1.1 1.1 0 1 0 2.2 0a1.1 1.1 0 1 0-2.2 0M544.8 273.5a1.1 1.1 0 1 0 2.2 0a1.1 1.1 0 1 0-2.2 0M549.6 293.7a1.1 1.1 0 1 0 2.2 0a1.1 1.1 0 1 0-2.2 0M548.6 276.0a1.1 1.1 0 1 0 2.2 0a1.1 1.1 0 1 0-2.2 0M545.1 286.0a1.1 1.1 0 1 0 2.2 0a1.1 1.1 0 1 0-2.2 0M548.0 272.5l1.1-1.1l1.1 1.1l-1.1 1.1zM548.0 288.8l1.1-1.1l1.1 1.1l-1.1 1.1zM547.9 290.0l1.1-1.1l1.1 1.1l-1.1 1.1zM545.6 293.4a1.1 1.1 0 1 0 2.2 0a1.1 1.1 0 1 0-2.2 0M543.2 272.5a1.1 1.1 0 1 0 2.2 0a1.1 1.1 0 1 0-2.2 0M544.1 287.6l1.1-1.1l1.1 1.1l-1.1 1.1zM544.7 269.0l1.1-1.1l1.1 1.1l-1.1 1.1zM546.1 293.9a1.1 1.1 0 1 0 2.2 0a1.1 1.1 0 1 0-2.2 0M549.8 290.2l1.1-1.1l1.1 1.1l-1.1 1.1zM548.1 266.2a1.1 1.1 0 1 0 2.2 0a1.1 1.1 0 1 0-2.2 0M546.8 284.1a1.1 1.1 0 1 0 2.2 0a1.1 1.1 0 1 0-2.2 0M550.5 291.4l1.1-1.1l1.1 1.1l-1.1 1.1zM539.1 284.6l1.1-1.1l1.1 1.1l-1.1 1.1zM534.9 294.0a1.1 1.1 0 1 0 2.2 0a1.1 1.1 0 1 0-2.2 0M534.6 287.9a1.1 1.1 0 1 0 2.2 0a1.1 1.1 0 1 0-2.2 0M532.0 287.8a1.1 1.1 0 1 0 2.2 0a1.1 1.1 0 1 0-2.2 0M538.6 278.3a1.1 1.1 0 1 0 2.2 0a1.1 1.1 0 1 0-2.2 0M530.7 287.7l1.1-1.1l1.1 1.1l-1.1 1.1zM532.9 283.7a1.1 1.1 0 1 0 2.2 0a1.1 1.1 0 1 0-2.2 0M539.8 284.7a1.1 1.1 0 1 0 2.2 0a1.1 1.1 0 1 0-2.2 0M538.6 294.8a1.1 1.1 0 1 0 2.2 0a1.1 1.1 0 1 0-2.2 0M536.6 286.4a1.1 1.1 0 1 0 2.2 0a1.1 1.1 0 1 0-2.2 0M533.9 289.1a1.1 1.1 0 1 0 2.2 0a1.1 1.1 0 1 0-2.2 0M534.2 291.1l1.1-1.1l1.1 1.1l-1.1 1.1zM530.7 291.7l1.1-1.1l1.1 1.1l-1.1 1.1zM536.3 294.5a1.1 1.1 0 1 0 2.2 0a1.1 1.1 0 1 0-2.2 0M539.3 291.8a1.1 1.1 0 1 0 2.2 0a1.1 1.1 0 1 0-2.2 0M534.0 285.7l1.1-1.1l1.1 1.1l-1.1 1.1zM531.0 287.6l1.1-1.1l1.1 1.1l-1.1 1.1zM535.1 287.9l1.1-1.1l1.1 1.1l-1.1 1.1zM536.0 288.6a1.1 1.1 0 1 0 2.2 0a1.1 1.1 0 1 0-2.2 0M536.0 291.6l1.1-1.1l1.1 1.1l-1.1 1.1zM539.3 283.8a1.1 1.1 0 1 0 2.2 0a1.1 1.1 0 1 0-2.2 0M537.0 279.3l1.1-1.1l1.1 1.1l-1.1 1.1zM539.5 284.2a1.1 1.1 0 1 0 2.2 0a1.1 1.1 0 1 0-2.2 0M527.7 288.2l1.1-1.1l1.1 1.1l-1.1 1.1zM532.5 285.1l1.1-1.1l1.1 1.1l-1.1 1.1zM535.6 295.1a1.1 1.1 0 1 0 2.2 0a1.1 1.1 0 1 0-2.2 0M538.2 283.0a1.1 1.1 0 1 0 2.2 0a1.1 1.1 0 1 0-2.2 0M533.1 287.4a1.1 1.1 0 1 0 2.2 0a1.1 1.1 0 1 0-2.2 0M539.2 281.1a1.1 1.1 0 1 0 2.2 0a1.1 1.1 0 1 0-2.2 0M537.3 292.4a1.1 1.1 0 1 0 2.2 0a1.1 1.1 0 1 0-2.2 0M528.0 289.8a1.1 1.1 0 1 0 2.2 0a1.1 1.1 0 1 0-2.2 0M528.5 293.8l1.1-1.1l1.1 1.1l-1.1 1.1zM531.6 285.4l1.1-1.1l1.1 1.1l-1.1 1.1zM538.5 291.5l1.1-1.1l1.1 1.1l-1.1 1.1zM530.0 289.4a1.1 1.1 0 1 0 2.2 0a1.1 1.1 0 1 0-2.2 0M538.5 284.6a1.1 1.1 0 1 0 2.2 0a1.1 1.1 0 1 0-2.2 0M534.2 288.5a1.1 1.1 0 1 0 2.2 0a1.1 1.1 0 1 0-2.2 0M532.7 289.3l1.1-1.1l1.1 1.1l-1.1 1.1zM534.7 282.6a1.1 1.1 0 1 0 2.2 0a1.1 1.1 0 1 0-2.2 0M528.3 293.3l1.1-1.1l1.1 1.1l-1.1 1.1zM539.4 279.6l1.1-1.1l1.1 1.1l-1.1 1.1zM538.6 293.2l1.1-1.1l1.1 1.1l-1.1 1.1zM530.6 290.8a1.1 1.1 0 1 0 2.2 0a1.1 1.1 0 1 0-2.2 0M534.8 282.0l1.1-1.1l1.1 1.1l-1.1 1.1zM530.8 295.2a1.1 1.1 0 1 0 2.2 0a1.1 1.1 0 1 0-2.2 0M533.0 288.7l1.1-1.1l1.1 1.1l-1.1 1.1zM538.6 281.7a1.1 1.1 0 1 0 2.2 0a1.1 1.1 0 1 0-2.2 0M533.3 287.8a1.1 1.1 0 1 0 2.2 0a1.1 1.1 0 1 0-2.2 0M537.0 280.8l1.1-1.1l1.1 1.1l-1.1 1.1zM535.4 281.6a1.1 1.1 0 1 0 2.2 0a1.1 1.1 0 1 0-2.2 0M529.0 287.4l1.1-1.1l1.1 1.1l-1.1 1.1zM539.6 293.0l1.1-1.1l1.1 1.1l-1.1 1.1zM535.8 286.0a1.1 1.1 0 1 0 2.2 0a1.1 1.1 0 1 0-2.2 0M531.9 285.3l1.1-1.1l1.1 1.1l-1.1 1.1zM535.8 280.5l1.1-1.1l1.1 1.1l-1.1 1.1zM539.3 284.1l1.1-1.1l1.1 1.1l-1.1 1.1zM538.1 284.2a1.1 1.1 0 1 0 2.2 0a1.1 1.1 0 1 0-2.2 0M539.7 282.6a1.1 1.1 0 1 0 2.2 0a1.1 1.1 0 1 0-2.2 0M536.4 295.0l1.1-1.1l1.1 1.1l-1.1 1.1zM537.8 285.1a1.1 1.1 0 1 0 2.2 0a1.1 1.1 0 1 0-2.2 0M537.1 283.6l1.1-1.1l1.1 1.1l-1.1 1.1zM532.9 293.1l1.1-1.1l1.1 1.1l-1.1 1.1zM536.2 220.1l1.1-1.1l1.1 1.1l-1.1 1.1zM534.1 242.6a1.1 1.1 0 1 0 2.2 0a1.1 1.1 0 1 0-2.2 0M534.4 243.3a1.1 1.1 0 1 0 2.2 0a1.1 1.1 0 1 0-2.2 0M535.2 251.0a1.1 1.1 0 1 0 2.2 0a1.1 1.1 0 1 0-2.2 0M542.1 251.0a1.1 1.1 0 1 0 2.2 0a1.1 1.1 0 1 0-2.2 0M530.7 260.2a1.1 1.1 0 1 0 2.2 0a1.1 1.1 0 1 0-2.2 0M538.2 258.8a1.1 1.1 0 1 0 2.2 0a1.1 1.1 0 1 0-2.2 0M542.4 260.2a1.1 1.1 0 1 0 2.2 0a1.1 1.1 0 1 0-2.2 0M547.4 260.5a1.1 1.1 0 1 0 2.2 0a1.1 1.1 0 1 0-2.2 0M536.6 262.2a1.1 1.1 0 1 0 2.2 0a1.1 1.1 0 1 0-2.2 0M539.4 264.3a1.1 1.1 0 1 0 2.2 0a1.1 1.1 0 1 0-2.2 0M544.9 264.7a1.1 1.1 0 1 0 2.2 0a1.1 1.1 0 1 0-2.2 0M549.1 264.3a1.1 1.1 0 1 0 2.2 0a1.1 1.1 0 1 0-2.2 0M531.6 269.7a1.1 1.1 0 1 0 2.2 0a1.1 1.1 0 1 0-2.2 0M514.4 273.3l1.1-1.1l1.1 1.1l-1.1 1.1zM536.6 273.8a1.1 1.1 0 1 0 2.2 0a1.1 1.1 0 1 0-2.2 0M526.6 282.5l1.1-1.1l1.1 1.1l-1.1 1.1z"/>
<path fill="#a52f2c" d="M157.9 108.9h1.5v1.5h-1.5zM135.0 105.3h1.5v1.5h-1.5zM147.3 109.9h1.5v1.5h-1.5zM137.8 109.0h1.5v1.5h-1.5zM149.2 106.3h1.5v1.5h-1.5zM157.3 107.5h1.5v1.5h-1.5zM145.5 108.3h1.5v1.5h-1.5zM149.0 108.6h1.5v1.5h-1.5zM133.6 107.5h1.5v1.5h-1.5zM134.7 106.9h1.5v1.5h-1.5zM148.5 108.6h1.5v1.5h-1.5zM131.1 108.4h1.5v1.5h-1.5zM153.3 105.9h1.5v1.5h-1.5zM141.4 105.3h1.5v1.5h-1.5zM128.8 108.1h1.5v1.5h-1.5zM143.6 104.3h1.5v1.5h-1.5zM128.6 104.8h1.5v1.5h-1.5zM149.5 109.0h1.5v1.5h-1.5zM150.4 105.3h1.5v1.5h-1.5zM145.6 109.2h1.5v1.5h-1.5zM144.4 109.4h1.5v1.5h-1.5zM143.2 106.1h1.5v1.5h-1.5zM140.2 109.3h1.5v1.5h-1.5zM143.2 107.3h1.5v1.5h-1.5zM142.1 108.6h1.5v1.5h-1.5zM148.2 108.6h1.5v1.5h-1.5zM150.9 107.8h1.5v1.5h-1.5zM131.8 109.0h1.5v1.5h-1.5zM139.2 105.9h1.5v1.5h-1.5zM142.0 107.9h1.5v1.5h-1.5zM130.8 109.1h1.5v1.5h-1.5zM151.7 106.1h1.5v1.5h-1.5zM129.2 105.1h1.5v1.5h-1.5zM127.3 109.3h1.5v1.5h-1.5zM158.4 108.5h1.5v1.5h-1.5zM146.4 109.7h1.5v1.5h-1.5zM142.8 109.2h1.5v1.5h-1.5zM136.6 109.9h1.5v1.5h-1.5zM139.4 105.1h1.5v1.5h-1.5zM157.3 107.4h1.5v1.5h-1.5zM158.3 109.8h1.5v1.5h-1.5zM138.5 108.6h1.5v1.5h-1.5zM158.1 108.9h1.5v1.5h-1.5zM141.2 109.7h1.5v1.5h-1.5zM136.6 107.4h1.5v1.5h-1.5zM129.3 107.9h1.5v1.5h-1.5zM140.9 109.3h1.5v1.5h-1.5zM156.2 109.4h1.5v1.5h-1.5zM146.8 109.9h1.5v1.5h-1.5zM145.8 106.6h1.5v1.5h-1.5zM127.2 109.6h1.5v1.5h-1.5zM131.7 105.6h1.5v1.5h-1.5zM145.5 108.5h1.5v1.5h-1.5zM143.4 110.1h1.5v1.5h-1.5zM144.2 109.3h1.5v1.5h-1.5zM144.1 107.4h1.5v1.5h-1.5zM131.3 108.4h1.5v1.5h-1.5zM140.4 106.2h1.5v1.5h-1.5zM130.4 109.0h1.5v1.5h-1.5zM143.9 109.5h1.5v1.5h-1.5zM150.9 109.2h1.5v1.5h-1.5zM128.2 105.0h1.5v1.5h-1.5zM152.4 107.1h1.5v1.5h-1.5zM155.6 108.6h1.5v1.5h-1.5zM126.8 107.2h1.5v1.5h-1.5zM137.2 108.3h1.5v1.5h-1.5zM132.3 108.0h1.5v1.5h-1.5zM141.0 105.9h1.5v1.5h-1.5zM154.8 107.2h1.5v1.5h-1.5zM155.7 109.8h1.5v1.5h-1.5zM140.4 106.9h1.5v1.5h-1.5zM129.3 107.2h1.5v1.5h-1.5zM141.7 106.1h1.5v1.5h-1.5zM147.3 109.3h1.5v1.5h-1.5zM145.5 109.5h1.5v1.5h-1.5zM157.5 108.8h1.5v1.5h-1.5zM138.0 107.6h1.5v1.5h-1.5zM140.1 109.5h1.5v1.5h-1.5zM155.6 108.6h1.5v1.5h-1.5zM137.7 109.5h1.5v1.5h-1.5zM143.8 106.3h1.5v1.5h-1.5zM130.4 108.4h1.5v1.5h-1.5zM138.1 109.2h1.5v1.5h-1.5zM154.2 109.1h1.5v1.5h-1.5zM135.1 105.4h1.5v1.5h-1.5zM147.5 107.6h1.5v1.5h-1.5zM148.6 108.4h1.5v1.5h-1.5zM150.5 109.8h1.5v1.5h-1.5zM151.1 109.2h1.5v1.5h-1.5zM144.1 109.1h1.5v1.5h-1.5zM147.9 109.7h1.5v1.5h-1.5zM148.8 108.1h1.5v1.5h-1.5zM158.5 109.4h1.5v1.5h-1.5zM129.5 106.8h1.5v1.5h-1.5zM150.8 106.6h1.5v1.5h-1.5zM138.4 105.8h1.5v1.5h-1.5zM135.1 109.6h1.5v1.5h-1.5zM141.5 108.6h1.5v1.5h-1.5zM143.5 108.3h1.5v1.5h-1.5zM131.3 107.1h1.5v1.5h-1.5zM128.4 107.5h1.5v1.5h-1.5zM147.6 106.7h1.5v1.5h-1.5zM158.6 110.2h1.5v1.5h-1.5zM141.8 109.4h1.5v1.5h-1.5zM135.6 105.3h1.5v1.5h-1.5zM153.0 106.3h1.5v1.5h-1.5zM143.5 110.1h1.5v1.5h-1.5zM129.3 110.2h1.5v1.5h-1.5zM146.1 107.9h1.5v1.5h-1.5zM132.5 108.3h1.5v1.5h-1.5zM140.1 106.6h1.5v1.5h-1.5zM155.3 107.9h1.5v1.5h-1.5zM133.6 108.3h1.5v1.5h-1.5zM142.0 107.8h1.5v1.5h-1.5zM156.1 109.3h1.5v1.5h-1.5zM132.7 108.5h1.5v1.5h-1.5zM135.5 106.5h1.5v1.5h-1.5zM154.9 105.2h1.5v1.5h-1.5zM131.8 104.7h1.5v1.5h-1.5zM137.8 102.9h1.5v1.5h-1.5zM153.6 103.9h1.5v1.5h-1.5zM151.2 105.0h1.5v1.5h-1.5zM134.0 104.8h1.5v1.5h-1.5zM151.6 104.7h1.5v1.5h-1.5zM149.1 104.3h1.5v1.5h-1.5zM135.3 103.0h1.5v1.5h-1.5zM160.2 107.8h1.5v1.5h-1.5zM163.0 108.0l1.1 1.9h-2.2zM165.2 108.8h1.5v1.5h-1.5zM168.0 107.8l1.1 1.9h-2.2zM169.2 107.8h1.5v1.5h-1.5zM171.8 108.2h1.5v1.5h-1.5zM346.1 110.1h1.5v1.5h-1.5zM345.5 107.1l1.1 1.9h-2.2zM359.3 109.4h1.5v1.5h-1.5zM343.5 108.5h1.5v1.5h-1.5zM369.5 106.6h1.5v1.5h-1.5zM345.2 109.2h1.5v1.5h-1.5zM356.1 105.2h1.5v1.5h-1.5zM374.8 107.3h1.5v1.5h-1.5zM345.6 108.6h1.5v1.5h-1.5zM372.1 105.9l1.1 1.9h-2.2zM350.3 109.2h1.5v1.5h-1.5zM353.9 106.3h1.5v1.5h-1.5zM368.6 109.7h1.5v1.5h-1.5zM347.9 102.4l1.1 1.9h-2.2zM359.3 103.5l1.1 1.9h-2.2zM347.8 104.6h1.5v1.5h-1.5zM342.6 109.8h1.5v1.5h-1.5zM345.6 110.0h1.5v1.5h-1.5zM344.3 110.0h1.5v1.5h-1.5zM379.4 109.6l1.1 1.9h-2.2zM346.5 109.3h1.5v1.5h-1.5zM343.1 108.7h1.5v1.5h-1.5zM355.6 106.2h1.5v1.5h-1.5zM358.7 107.4l1.1 1.9h-2.2zM367.6 106.8l1.1 1.9h-2.2zM373.2 108.9h1.5v1.5h-1.5zM364.3 109.0h1.5v1.5h-1.5zM372.0 106.8h1.5v1.5h-1.5zM353.9 106.0h1.5v1.5h-1.5zM374.6 108.2l1.1 1.9h-2.2zM357.3 107.6h1.5v1.5h-1.5zM346.0 108.5l1.1 1.9h-2.2zM363.2 103.9h1.5v1.5h-1.5zM340.8 102.7h1.5v1.5h-1.5zM354.2 104.7l1.1 1.9h-2.2zM374.0 106.8h1.5v1.5h-1.5zM374.8 106.9l1.1 1.9h-2.2zM358.6 109.9l1.1 1.9h-2.2zM367.1 106.5h1.5v1.5h-1.5zM368.2 105.4h1.5v1.5h-1.5zM353.2 108.9l1.1 1.9h-2.2zM353.2 109.9l1.1 1.9h-2.2zM365.9 107.0h1.5v1.5h-1.5zM340.4 100.1h1.5v1.5h-1.5zM372.4 109.5h1.5v1.5h-1.5zM345.2 107.6h1.5v1.5h-1.5zM368.2 107.9h1.5v1.5h-1.5zM366.1 108.4h1.5v1.5h-1.5zM383.6 110.2h1.5v1.5h-1.5zM369.1 107.6h1.5v1.5h-1.5zM345.1 108.8h1.5v1.5h-1.5zM359.9 107.2h1.5v1.5h-1.5zM381.5 109.3h1.5v1.5h-1.5zM363.0 108.5l1.1 1.9h-2.2zM359.4 104.4h1.5v1.5h-1.5zM368.3 107.6h1.5v1.5h-1.5zM376.3 106.7l1.1 1.9h-2.2zM342.2 104.1h1.5v1.5h-1.5zM352.9 100.8h1.5v1.5h-1.5zM377.3 110.0h1.5v1.5h-1.5zM362.4 106.8l1.1 1.9h-2.2zM367.5 107.4h1.5v1.5h-1.5zM352.8 103.7h1.5v1.5h-1.5zM354.2 108.0l1.1 1.9h-2.2zM353.6 101.6h1.5v1.5h-1.5zM363.5 108.5h1.5v1.5h-1.5zM355.1 105.4l1.1 1.9h-2.2zM351.4 110.1h1.5v1.5h-1.5zM377.4 107.8h1.5v1.5h-1.5zM374.8 108.7h1.5v1.5h-1.5zM361.3 109.9l1.1 1.9h-2.2zM351.2 109.7h1.5v1.5h-1.5zM369.9 108.7l1.1 1.9h-2.2zM361.4 103.1l1.1 1.9h-2.2zM360.3 103.2h1.5v1.5h-1.5zM362.8 106.6h1.5v1.5h-1.5zM352.6 101.7h1.5v1.5h-1.5zM377.0 108.4h1.5v1.5h-1.5zM368.9 107.9h1.5v1.5h-1.5zM348.6 106.2l1.1 1.9h-2.2zM352.0 103.6h1.5v1.5h-1.5zM351.9 102.7h1.5v1.5h-1.5zM343.6 109.3h1.5v1.5h-1.5zM340.3 108.7l1.1 1.9h-2.2zM355.4 103.9h1.5v1.5h-1.5zM362.9 106.1l1.1 1.9h-2.2zM342.7 107.2h1.5v1.5h-1.5zM352.1 105.1h1.5v1.5h-1.5zM367.7 107.9h1.5v1.5h-1.5zM379.2 109.1h1.5v1.5h-1.5zM356.1 108.5l1.1 1.9h-2.2zM354.0 107.5l1.1 1.9h-2.2zM344.3 110.0h1.5v1.5h-1.5zM367.3 109.2h1.5v1.5h-1.5zM351.1 105.7h1.5v1.5h-1.5zM350.2 102.5l1.1 1.9h-2.2zM345.9 108.6h1.5v1.5h-1.5zM378.7 109.7h1.5v1.5h-1.5zM356.2 108.9h1.5v1.5h-1.5zM364.0 105.7h1.5v1.5h-1.5zM347.8 107.6h1.5v1.5h-1.5zM349.9 107.2h1.5v1.5h-1.5zM344.5 106.4l1.1 1.9h-2.2zM351.6 108.4l1.1 1.9h-2.2zM350.0 109.9h1.5v1.5h-1.5zM359.2 105.6h1.5v1.5h-1.5zM343.1 106.3l1.1 1.9h-2.2zM377.8 100.1l1.1 1.9h-2.2zM380.1 98.3l1.1 1.9h-2.2zM367.4 99.9l1.1 1.9h-2.2zM364.1 98.2l1.1 1.9h-2.2zM362.2 101.1l1.1 1.9h-2.2zM382.2 102.2l1.1 1.9h-2.2zM356.2 98.9l1.1 1.9h-2.2zM372.7 104.6l1.1 1.9h-2.2zM362.3 96.1l1.1 1.9h-2.2zM360.2 101.2l1.1 1.9h-2.2zM382.7 102.9l1.1 1.9h-2.2zM351.3 99.3l1.1 1.9h-2.2zM357.6 102.8l1.1 1.9h-2.2zM364.7 102.1l1.1 1.9h-2.2zM354.7 96.9l1.1 1.9h-2.2zM348.2 98.9l1.1 1.9h-2.2zM389.2 108.9h1.5v1.5h-1.5zM387.1 106.5h1.5v1.5h-1.5zM386.3 106.4h1.5v1.5h-1.5zM402.0 105.8l1.1 1.9h-2.2zM398.1 105.6h1.5v1.5h-1.5zM390.4 106.7h1.5v1.5h-1.5zM380.7 108.7h1.5v1.5h-1.5zM396.9 105.2l1.1 1.9h-2.2zM384.0 107.3h1.5v1.5h-1.5zM398.0 105.5h1.5v1.5h-1.5zM396.6 105.8l1.1 1.9h-2.2zM397.8 106.7h1.5v1.5h-1.5zM389.7 106.1h1.5v1.5h-1.5zM397.1 107.1h1.5v1.5h-1.5zM398.0 106.3h1.5v1.5h-1.5zM395.6 107.3h1.5v1.5h-1.5zM387.9 108.1l1.1 1.9h-2.2zM391.0 107.6h1.5v1.5h-1.5zM398.7 106.9h1.5v1.5h-1.5zM387.6 106.2l1.1 1.9h-2.2zM398.8 104.8h1.5v1.5h-1.5zM386.5 107.2h1.5v1.5h-1.5zM342.7 89.5l1.1 1.9h-2.2zM348.1 88.0h1.5v1.5h-1.5zM391.3 99.3l1.1 1.9h-2.2zM391.0 103.7l1.1 1.9h-2.2zM398.1 106.0h1.5v1.5h-1.5zM403.1 105.5h1.5v1.5h-1.5zM394.2 106.2h1.5v1.5h-1.5zM606.3 106.6h1.5v1.5h-1.5zM603.0 105.5h1.5v1.5h-1.5zM599.9 107.5h1.5v1.5h-1.5zM609.9 108.1h1.5v1.5h-1.5zM607.9 105.4h1.5v1.5h-1.5zM601.8 105.9h1.5v1.5h-1.5zM602.0 102.9h1.5v1.5h-1.5zM598.8 94.8h1.5v1.5h-1.5zM601.1 92.7h1.5v1.5h-1.5zM604.4 99.0h1.5v1.5h-1.5zM601.2 104.9h1.5v1.5h-1.5zM601.6 109.3h1.5v1.5h-1.5zM604.6 102.0h1.5v1.5h-1.5zM606.1 98.0h1.5v1.5h-1.5zM601.9 105.0h1.5v1.5h-1.5zM609.5 102.6h1.5v1.5h-1.5zM599.4 101.1h1.5v1.5h-1.5zM608.1 110.2h1.5v1.5h-1.5zM613.7 104.6h1.5v1.5h-1.5zM603.0 94.6h1.5v1.5h-1.5zM604.1 101.5h1.5v1.5h-1.5zM603.2 107.9h1.5v1.5h-1.5zM611.7 109.1h1.5v1.5h-1.5zM609.7 108.6h1.5v1.5h-1.5zM609.2 102.6h1.5v1.5h-1.5zM604.1 103.0h1.5v1.5h-1.5zM598.9 110.0h1.5v1.5h-1.5zM605.0 109.4h1.5v1.5h-1.5zM601.4 104.4h1.5v1.5h-1.5zM604.3 105.0h1.5v1.5h-1.5zM602.7 99.6h1.5v1.5h-1.5zM600.2 104.7h1.5v1.5h-1.5zM612.2 105.6h1.5v1.5h-1.5zM601.0 108.5h1.5v1.5h-1.5zM598.9 98.0h1.5v1.5h-1.5zM599.9 109.2h1.5v1.5h-1.5zM604.1 97.3h1.5v1.5h-1.5zM606.5 97.3h1.5v1.5h-1.5zM609.1 105.9h1.5v1.5h-1.5zM610.4 109.7h1.5v1.5h-1.5zM600.3 96.9h1.5v1.5h-1.5zM604.4 106.9h1.5v1.5h-1.5zM619.6 99.8h1.5v1.5h-1.5zM604.3 103.0h1.5v1.5h-1.5zM608.0 109.8h1.5v1.5h-1.5zM621.6 80.8h1.5v1.5h-1.5zM613.1 108.9h1.5v1.5h-1.5zM606.9 106.1h1.5v1.5h-1.5zM616.3 83.0h1.5v1.5h-1.5zM617.6 83.1h1.5v1.5h-1.5zM608.3 106.6h1.5v1.5h-1.5zM602.0 91.8h1.5v1.5h-1.5zM611.8 52.9h1.5v1.5h-1.5zM141.9 291.6h1.5v1.5h-1.5zM135.1 293.0h1.5v1.5h-1.5zM131.3 292.2h1.5v1.5h-1.5zM142.9 293.5h1.5v1.5h-1.5zM130.3 286.1h1.5v1.5h-1.5zM132.0 289.8h1.5v1.5h-1.5zM130.1 291.5h1.5v1.5h-1.5zM133.6 293.3h1.5v1.5h-1.5zM141.1 285.6h1.5v1.5h-1.5zM142.8 293.6h1.5v1.5h-1.5zM142.4 287.9h1.5v1.5h-1.5zM135.4 289.3h1.5v1.5h-1.5zM131.5 286.2h1.5v1.5h-1.5zM133.9 290.2h1.5v1.5h-1.5zM139.5 292.7h1.5v1.5h-1.5zM138.9 293.6h1.5v1.5h-1.5zM145.0 292.9h1.5v1.5h-1.5zM144.9 292.3h1.5v1.5h-1.5zM137.7 287.3h1.5v1.5h-1.5zM133.4 293.3h1.5v1.5h-1.5zM137.6 291.6h1.5v1.5h-1.5zM140.3 291.3h1.5v1.5h-1.5zM139.5 290.3h1.5v1.5h-1.5zM140.7 291.9h1.5v1.5h-1.5zM142.8 290.6h1.5v1.5h-1.5zM144.0 293.5h1.5v1.5h-1.5zM142.2 291.2h1.5v1.5h-1.5zM139.3 286.4h1.5v1.5h-1.5zM139.4 286.6h1.5v1.5h-1.5zM138.4 292.6h1.5v1.5h-1.5zM139.9 287.5h1.5v1.5h-1.5zM137.6 288.7h1.5v1.5h-1.5zM144.4 293.4h1.5v1.5h-1.5zM136.6 288.5h1.5v1.5h-1.5zM131.8 287.7h1.5v1.5h-1.5zM141.3 287.8h1.5v1.5h-1.5zM140.1 293.1h1.5v1.5h-1.5zM134.5 293.0h1.5v1.5h-1.5zM131.1 287.9h1.5v1.5h-1.5zM140.2 293.5h1.5v1.5h-1.5zM140.7 285.9h1.5v1.5h-1.5zM132.8 285.2h1.5v1.5h-1.5zM133.1 286.0h1.5v1.5h-1.5zM140.0 292.0h1.5v1.5h-1.5zM144.4 292.9h1.5v1.5h-1.5zM138.3 285.0h1.5v1.5h-1.5zM133.2 289.7h1.5v1.5h-1.5zM133.5 286.6h1.5v1.5h-1.5zM143.5 291.1h1.5v1.5h-1.5zM143.3 292.8h1.5v1.5h-1.5zM142.0 293.1h1.5v1.5h-1.5zM138.0 286.0h1.5v1.5h-1.5zM132.5 291.8h1.5v1.5h-1.5zM136.3 284.6h1.5v1.5h-1.5zM135.7 286.2h1.5v1.5h-1.5zM131.9 292.4h1.5v1.5h-1.5zM133.6 292.5h1.5v1.5h-1.5zM135.3 289.9h1.5v1.5h-1.5zM135.0 293.3h1.5v1.5h-1.5zM135.2 293.2h1.5v1.5h-1.5zM136.2 286.0h1.5v1.5h-1.5zM134.6 290.3h1.5v1.5h-1.5zM137.9 286.6h1.5v1.5h-1.5zM135.8 289.8h1.5v1.5h-1.5zM160.6 290.3h1.5v1.5h-1.5zM157.4 287.4h1.5v1.5h-1.5zM142.3 286.9h1.5v1.5h-1.5zM145.8 274.2h1.5v1.5h-1.5zM153.4 284.4h1.5v1.5h-1.5zM148.6 291.7h1.5v1.5h-1.5zM143.6 285.8h1.5v1.5h-1.5zM135.7 292.5h1.5v1.5h-1.5zM143.7 278.1h1.5v1.5h-1.5zM148.6 279.5h1.5v1.5h-1.5zM143.0 286.2h1.5v1.5h-1.5zM159.9 292.6h1.5v1.5h-1.5zM150.7 290.4h1.5v1.5h-1.5zM140.4 291.1h1.5v1.5h-1.5zM140.9 259.1h1.5v1.5h-1.5zM174.2 291.6h1.5v1.5h-1.5zM163.2 292.2h1.5v1.5h-1.5zM167.2 292.2h1.5v1.5h-1.5zM351.0 289.1h1.5v1.5h-1.5zM360.3 290.4h1.5v1.5h-1.5zM353.0 293.2h1.5v1.5h-1.5zM358.8 286.6h1.5v1.5h-1.5zM362.0 289.9h1.5v1.5h-1.5zM367.0 291.4h1.5v1.5h-1.5zM354.4 289.5l1.1 1.9h-2.2zM350.5 289.4h1.5v1.5h-1.5zM352.5 293.0h1.5v1.5h-1.5zM351.7 291.3h1.5v1.5h-1.5zM357.8 290.5l1.1 1.9h-2.2zM351.2 290.3l1.1 1.9h-2.2zM367.1 291.7h1.5v1.5h-1.5zM354.7 284.4l1.1 1.9h-2.2zM355.6 289.1h1.5v1.5h-1.5zM359.8 288.4h1.5v1.5h-1.5zM357.6 290.3h1.5v1.5h-1.5zM365.7 291.5h1.5v1.5h-1.5zM364.1 293.6h1.5v1.5h-1.5zM354.7 293.1l1.1 1.9h-2.2zM359.6 292.5h1.5v1.5h-1.5zM352.0 288.6h1.5v1.5h-1.5zM356.1 286.1h1.5v1.5h-1.5zM353.0 293.1l1.1 1.9h-2.2zM354.0 284.5h1.5v1.5h-1.5zM356.4 289.4h1.5v1.5h-1.5zM367.0 292.1h1.5v1.5h-1.5zM364.6 290.5l1.1 1.9h-2.2zM350.7 291.9l1.1 1.9h-2.2zM350.3 286.7h1.5v1.5h-1.5zM355.9 289.3h1.5v1.5h-1.5zM363.9 289.4h1.5v1.5h-1.5zM354.5 288.7h1.5v1.5h-1.5zM360.0 288.3h1.5v1.5h-1.5zM360.2 285.1h1.5v1.5h-1.5zM363.1 291.9h1.5v1.5h-1.5zM354.4 286.9h1.5v1.5h-1.5zM351.0 289.6h1.5v1.5h-1.5zM362.7 290.8h1.5v1.5h-1.5zM350.1 289.4h1.5v1.5h-1.5zM352.7 289.2h1.5v1.5h-1.5zM355.3 289.4h1.5v1.5h-1.5zM360.3 292.2l1.1 1.9h-2.2zM367.7 293.5h1.5v1.5h-1.5zM366.2 293.7h1.5v1.5h-1.5zM356.7 292.0h1.5v1.5h-1.5zM362.4 292.2h1.5v1.5h-1.5zM362.2 291.3h1.5v1.5h-1.5zM364.3 293.2h1.5v1.5h-1.5zM350.9 289.6h1.5v1.5h-1.5zM362.0 286.4h1.5v1.5h-1.5zM355.7 292.0h1.5v1.5h-1.5zM356.9 286.7h1.5v1.5h-1.5zM363.3 291.0h1.5v1.5h-1.5zM353.7 291.4h1.5v1.5h-1.5zM355.8 289.0h1.5v1.5h-1.5zM355.5 286.0l1.1 1.9h-2.2zM357.4 291.9h1.5v1.5h-1.5zM358.8 290.0h1.5v1.5h-1.5zM362.2 292.2l1.1 1.9h-2.2zM350.2 287.6h1.5v1.5h-1.5zM360.2 292.8h1.5v1.5h-1.5zM364.5 292.8h1.5v1.5h-1.5zM364.2 287.4h1.5v1.5h-1.5zM359.4 287.3l1.1 1.9h-2.2zM356.5 291.7h1.5v1.5h-1.5zM358.3 292.9h1.5v1.5h-1.5zM357.3 293.0h1.5v1.5h-1.5zM361.7 288.8h1.5v1.5h-1.5zM354.6 287.4h1.5v1.5h-1.5zM358.6 292.8h1.5v1.5h-1.5zM361.7 287.5h1.5v1.5h-1.5zM364.3 290.1l1.1 1.9h-2.2zM351.3 291.0h1.5v1.5h-1.5zM366.7 289.2l1.1 1.9h-2.2zM352.4 291.0h1.5v1.5h-1.5zM361.4 291.5h1.5v1.5h-1.5zM355.9 288.8h1.5v1.5h-1.5zM359.2 290.4l1.1 1.9h-2.2zM367.7 292.0l1.1 1.9h-2.2zM365.2 288.0l1.1 1.9h-2.2zM354.0 286.7l1.1 1.9h-2.2zM356.6 292.8l1.1 1.9h-2.2zM360.2 287.8l1.1 1.9h-2.2zM362.7 290.4l1.1 1.9h-2.2zM365.3 286.9l1.1 1.9h-2.2zM352.7 293.6h1.5v1.5h-1.5zM362.8 292.5l1.1 1.9h-2.2zM350.8 282.9h1.5v1.5h-1.5zM350.2 291.9l1.1 1.9h-2.2zM366.3 292.4l1.1 1.9h-2.2zM360.2 292.7l1.1 1.9h-2.2zM362.1 290.6h1.5v1.5h-1.5zM355.7 289.6l1.1 1.9h-2.2zM354.8 288.8h1.5v1.5h-1.5zM362.0 291.6h1.5v1.5h-1.5zM361.3 285.1l1.1 1.9h-2.2zM364.6 291.3l1.1 1.9h-2.2zM364.7 288.7l1.1 1.9h-2.2zM365.6 290.9l1.1 1.9h-2.2zM354.0 292.6h1.5v1.5h-1.5zM363.5 290.7h1.5v1.5h-1.5zM360.2 293.1h1.5v1.5h-1.5zM362.1 292.1l1.1 1.9h-2.2zM353.5 286.0h1.5v1.5h-1.5zM354.7 290.4h1.5v1.5h-1.5zM360.8 285.5l1.1 1.9h-2.2zM352.2 287.4l1.1 1.9h-2.2zM360.9 285.7h1.5v1.5h-1.5zM371.7 290.0l1.1 1.9h-2.2zM378.1 291.5h1.5v1.5h-1.5zM365.8 289.5h1.5v1.5h-1.5zM387.0 291.2h1.5v1.5h-1.5zM380.4 290.8h1.5v1.5h-1.5zM382.4 288.8l1.1 1.9h-2.2zM374.6 291.0l1.1 1.9h-2.2zM396.9 288.9h1.5v1.5h-1.5zM371.5 289.6l1.1 1.9h-2.2zM372.5 290.5l1.1 1.9h-2.2zM402.0 288.9h1.5v1.5h-1.5zM366.9 292.9h1.5v1.5h-1.5zM373.6 289.0l1.1 1.9h-2.2zM392.9 290.3h1.5v1.5h-1.5zM396.5 289.0h1.5v1.5h-1.5zM372.6 290.3l1.1 1.9h-2.2zM376.0 291.0l1.1 1.9h-2.2zM386.3 289.5h1.5v1.5h-1.5zM369.2 289.2h1.5v1.5h-1.5zM380.9 292.3l1.1 1.9h-2.2zM365.9 293.2h1.5v1.5h-1.5zM385.6 289.5l1.1 1.9h-2.2zM383.5 289.5h1.5v1.5h-1.5zM369.2 290.8h1.5v1.5h-1.5zM380.4 289.4h1.5v1.5h-1.5zM395.6 288.3l1.1 1.9h-2.2zM385.9 289.2h1.5v1.5h-1.5zM367.6 293.3l1.1 1.9h-2.2zM369.9 289.7h1.5v1.5h-1.5zM388.9 288.4l1.1 1.9h-2.2zM393.7 289.2h1.5v1.5h-1.5zM399.8 288.4l1.1 1.9h-2.2zM392.0 289.7h1.5v1.5h-1.5zM366.9 291.7h1.5v1.5h-1.5zM402.2 288.7h1.5v1.5h-1.5zM397.4 289.7h1.5v1.5h-1.5zM387.7 291.3h1.5v1.5h-1.5zM384.5 288.7l1.1 1.9h-2.2zM369.1 293.7h1.5v1.5h-1.5zM369.2 289.3h1.5v1.5h-1.5zM372.2 288.9l1.1 1.9h-2.2zM400.0 288.4h1.5v1.5h-1.5zM375.6 285.4l1.1 1.9h-2.2zM350.4 288.4h1.5v1.5h-1.5zM363.7 284.7h1.5v1.5h-1.5zM363.3 279.8h1.5v1.5h-1.5zM366.8 280.6l1.1 1.9h-2.2zM363.6 279.6h1.5v1.5h-1.5zM352.5 288.4h1.5v1.5h-1.5zM359.3 284.7l1.1 1.9h-2.2zM375.6 283.0h1.5v1.5h-1.5zM353.0 280.5h1.5v1.5h-1.5zM369.0 281.5h1.5v1.5h-1.5zM372.3 285.1h1.5v1.5h-1.5zM376.8 285.5l1.1 1.9h-2.2zM362.2 286.3l1.1 1.9h-2.2zM369.1 282.0h1.5v1.5h-1.5zM366.0 285.9h1.5v1.5h-1.5zM369.2 288.0h1.5v1.5h-1.5zM355.0 279.4h1.5v1.5h-1.5zM359.9 280.6h1.5v1.5h-1.5zM358.3 287.1h1.5v1.5h-1.5zM353.3 283.0l1.1 1.9h-2.2zM361.6 279.6h1.5v1.5h-1.5zM361.6 283.6h1.5v1.5h-1.5zM352.8 284.0h1.5v1.5h-1.5zM358.6 281.3h1.5v1.5h-1.5zM352.9 279.2h1.5v1.5h-1.5zM359.2 284.2h1.5v1.5h-1.5zM363.3 287.7h1.5v1.5h-1.5zM381.5 283.9l1.1 1.9h-2.2zM359.9 281.7l1.1 1.9h-2.2zM350.1 246.4h1.5v1.5h-1.5zM359.1 250.1h1.5v1.5h-1.5zM397.3 273.1l1.1 1.9h-2.2zM371.4 274.9h1.5v1.5h-1.5zM362.5 278.0l1.1 1.9h-2.2zM386.4 284.9l1.1 1.9h-2.2zM394.4 289.2h1.5v1.5h-1.5zM399.2 288.4h1.5v1.5h-1.5zM403.4 287.6h1.5v1.5h-1.5zM593.6 290.6h1.5v1.5h-1.5zM597.1 273.0h1.5v1.5h-1.5zM589.8 280.1h1.5v1.5h-1.5zM596.7 288.4h1.5v1.5h-1.5zM597.4 294.4h1.5v1.5h-1.5zM590.0 282.4h1.5v1.5h-1.5zM589.3 293.8h1.5v1.5h-1.5zM591.8 280.2h1.5v1.5h-1.5zM598.3 277.2h1.5v1.5h-1.5zM600.2 287.8h1.5v1.5h-1.5zM592.7 293.4h1.5v1.5h-1.5zM592.7 290.7h1.5v1.5h-1.5zM593.7 293.9h1.5v1.5h-1.5zM590.7 294.0h1.5v1.5h-1.5zM595.2 287.1h1.5v1.5h-1.5zM590.0 282.4h1.5v1.5h-1.5zM597.9 282.1h1.5v1.5h-1.5zM591.5 274.4h1.5v1.5h-1.5zM591.4 283.5h1.5v1.5h-1.5zM594.3 277.1h1.5v1.5h-1.5zM592.1 282.8h1.5v1.5h-1.5zM596.8 289.2h1.5v1.5h-1.5zM589.5 290.9h1.5v1.5h-1.5zM599.7 277.8h1.5v1.5h-1.5zM589.4 294.5h1.5v1.5h-1.5zM589.4 292.5h1.5v1.5h-1.5zM592.6 286.7h1.5v1.5h-1.5zM601.8 290.6h1.5v1.5h-1.5zM596.4 284.5h1.5v1.5h-1.5zM591.7 286.8h1.5v1.5h-1.5zM593.5 283.1h1.5v1.5h-1.5zM590.2 280.1h1.5v1.5h-1.5zM599.7 293.8h1.5v1.5h-1.5zM596.3 289.8h1.5v1.5h-1.5zM593.9 286.9h1.5v1.5h-1.5zM589.4 293.9h1.5v1.5h-1.5zM591.7 285.8h1.5v1.5h-1.5zM599.2 287.7h1.5v1.5h-1.5zM591.9 288.0h1.5v1.5h-1.5zM590.4 273.2h1.5v1.5h-1.5zM601.7 282.9h1.5v1.5h-1.5zM599.9 293.1h1.5v1.5h-1.5zM602.1 282.0h1.5v1.5h-1.5zM589.6 285.9h1.5v1.5h-1.5zM593.2 278.8h1.5v1.5h-1.5zM598.1 290.3h1.5v1.5h-1.5zM589.6 288.3h1.5v1.5h-1.5zM594.0 274.1h1.5v1.5h-1.5zM596.3 278.8h1.5v1.5h-1.5zM590.6 292.2h1.5v1.5h-1.5zM597.6 278.9h1.5v1.5h-1.5zM595.3 290.9h1.5v1.5h-1.5zM598.6 293.9h1.5v1.5h-1.5zM597.0 288.1h1.5v1.5h-1.5zM596.0 290.8h1.5v1.5h-1.5zM606.2 275.2h1.5v1.5h-1.5zM590.9 281.5h1.5v1.5h-1.5zM602.0 265.3h1.5v1.5h-1.5zM606.2 292.9h1.5v1.5h-1.5zM596.7 273.9h1.5v1.5h-1.5zM595.9 278.4h1.5v1.5h-1.5zM604.7 292.1h1.5v1.5h-1.5zM604.2 279.9h1.5v1.5h-1.5zM600.1 278.5h1.5v1.5h-1.5zM599.6 291.7h1.5v1.5h-1.5zM606.5 263.2h1.5v1.5h-1.5zM596.7 274.0h1.5v1.5h-1.5zM613.4 264.8h1.5v1.5h-1.5zM596.8 273.0h1.5v1.5h-1.5zM603.5 291.1h1.5v1.5h-1.5zM600.0 281.3h1.5v1.5h-1.5zM594.7 283.9h1.5v1.5h-1.5zM591.0 265.6h1.5v1.5h-1.5z"/>
<path fill="none" stroke="#a52f2c" stroke-width="1.6" stroke-linecap="round" d="M147.8 108.7h0M136.0 110.2h0M147.8 108.5h0M147.1 110.5h0M134.5 107.3h0M133.5 109.9h0M148.6 111.0h0M148.9 108.7h0M157.2 107.7h0M133.1 106.7h0M145.3 105.6h0M158.2 109.1h0M129.7 107.7h0M132.7 106.9h0M141.5 107.8h0M137.2 108.0h0M150.8 110.5h0M152.6 109.2h0M154.7 109.9h0M130.2 106.9h0M156.0 108.1h0M132.5 108.6h0M134.9 110.2h0M153.2 109.7h0M157.1 110.0h0M143.2 107.6h0M138.8 108.7h0M149.6 108.4h0M149.5 106.8h0M159.3 110.7h0M149.1 109.0h0M141.8 108.3h0M148.6 110.7h0M140.4 110.9h0M129.0 110.7h0M136.8 110.2h0M147.1 107.5h0M144.6 110.3h0M145.9 108.7h0M154.2 108.6h0M145.4 109.1h0M151.7 108.2h0M131.3 110.4h0M353.0 109.4h0M342.6 109.0h0M352.3 106.9h0M375.0 108.7h0M374.2 109.8h0M377.7 110.7h0M345.9 103.9h0M362.3 108.0h0M362.6 106.8h0M351.1 109.2h0M365.4 109.3h0M385.0 110.2h0M369.8 107.4h0M349.4 110.5h0M348.4 106.2h0M361.9 109.6h0M351.4 109.8h0M361.7 110.3h0M365.7 110.6h0M340.6 110.9h0M355.0 107.6h0M374.0 108.8h0M344.0 110.0h0M348.1 104.7h0M356.1 107.9h0M352.9 107.6h0M347.6 108.8h0M361.8 110.8h0M351.4 110.6h0M602.1 110.0h0M609.6 98.5h0M608.4 109.2h0M608.6 105.3h0M600.6 107.0h0M607.7 103.5h0M611.3 102.9h0M605.0 94.0h0M607.1 110.9h0M602.4 108.7h0M603.7 105.9h0M604.9 108.7h0M607.5 105.3h0M613.6 104.0h0M599.8 107.6h0M607.9 106.5h0M602.8 109.2h0M599.7 110.5h0M604.7 95.1h0M604.1 107.7h0M606.0 100.0h0M599.5 110.4h0M602.3 92.3h0M604.2 105.6h0M606.4 103.2h0M608.0 102.3h0M366.8 293.7h0M359.3 287.6h0M368.0 294.0h0M360.0 287.8h0M364.5 289.6h0M366.5 293.6h0M353.2 289.1h0M355.6 288.6h0M363.8 289.7h0M351.0 291.3h0M359.6 286.3h0M363.3 292.5h0M359.3 289.4h0M355.2 285.9h0M350.8 292.7h0M358.7 288.1h0M358.7 292.4h0M354.5 293.2h0M365.1 293.7h0M360.7 289.0h0M365.8 292.8h0M391.2 291.5h0M393.4 290.3h0M369.9 290.1h0M366.8 293.4h0M366.1 292.6h0M394.5 291.1h0M374.9 292.5h0M381.4 290.2h0M394.9 290.0h0M386.3 291.4h0M368.3 290.4h0M375.7 290.7h0M371.4 289.9h0"/>
<path fill="none" stroke="#a52f2c" stroke-width="0.45" d="M145.3 103.6a1.1 1.1 0 1 0 2.2 0a1.1 1.1 0 1 0-2.2 0M138.8 105.3a1.1 1.1 0 1 0 2.2 0a1.1 1.1 0 1 0-2.2 0M151.5 105.4a1.1 1.1 0 1 0 2.2 0a1.1 1.1 0 1 0-2.2 0M153.3 106.0a1.1 1.1 0 1 0 2.2 0a1.1 1.1 0 1 0-2.2 0M145.7 103.8a1.1 1.1 0 1 0 2.2 0a1.1 1.1 0 1 0-2.2 0M148.6 104.5a1.1 1.1 0 1 0 2.2 0a1.1 1.1 0 1 0-2.2 0M141.8 105.2a1.1 1.1 0 1 0 2.2 0a1.1 1.1 0 1 0-2.2 0M139.1 104.0a1.1 1.1 0 1 0 2.2 0a1.1 1.1 0 1 0-2.2 0M134.2 105.1a1.1 1.1 0 1 0 2.2 0a1.1 1.1 0 1 0-2.2 0M143.2 103.5a1.1 1.1 0 1 0 2.2 0a1.1 1.1 0 1 0-2.2 0M155.4 105.9a1.1 1.1 0 1 0 2.2 0a1.1 1.1 0 1 0-2.2 0M137.5 99.3a1.1 1.1 0 1 0 2.2 0a1.1 1.1 0 1 0-2.2 0M151.8 101.6a1.1 1.1 0 1 0 2.2 0a1.1 1.1 0 1 0-2.2 0M154.1 102.8a1.1 1.1 0 1 0 2.2 0a1.1 1.1 0 1 0-2.2 0M173.9 105.1a1.1 1.1 0 1 0 2.2 0a1.1 1.1 0 1 0-2.2 0M164.6 105.7a1.1 1.1 0 1 0 2.2 0a1.1 1.1 0 1 0-2.2 0M134.9 104.0a1.1 1.1 0 1 0 2.2 0a1.1 1.1 0 1 0-2.2 0M141.9 104.0a1.1 1.1 0 1 0 2.2 0a1.1 1.1 0 1 0-2.2 0M148.9 102.8a1.1 1.1 0 1 0 2.2 0a1.1 1.1 0 1 0-2.2 0M160.9 106.5a1.1 1.1 0 1 0 2.2 0a1.1 1.1 0 1 0-2.2 0M145.9 103.0a1.1 1.1 0 1 0 2.2 0a1.1 1.1 0 1 0-2.2 0M368.9 108.3a1.1 1.1 0 1 0 2.2 0a1.1 1.1 0 1 0-2.2 0M348.9 105.9a1.1 1.1 0 1 0 2.2 0a1.1 1.1 0 1 0-2.2 0M358.4 107.8a1.1 1.1 0 1 0 2.2 0a1.1 1.1 0 1 0-2.2 0M354.8 107.5a1.1 1.1 0 1 0 2.2 0a1.1 1.1 0 1 0-2.2 0M363.4 107.7a1.1 1.1 0 1 0 2.2 0a1.1 1.1 0 1 0-2.2 0M375.1 109.3a1.1 1.1 0 1 0 2.2 0a1.1 1.1 0 1 0-2.2 0M354.0 107.2a1.1 1.1 0 1 0 2.2 0a1.1 1.1 0 1 0-2.2 0M365.3 109.2a1.1 1.1 0 1 0 2.2 0a1.1 1.1 0 1 0-2.2 0M370.9 107.5a1.1 1.1 0 1 0 2.2 0a1.1 1.1 0 1 0-2.2 0M376.0 109.4a1.1 1.1 0 1 0 2.2 0a1.1 1.1 0 1 0-2.2 0M357.2 109.9a1.1 1.1 0 1 0 2.2 0a1.1 1.1 0 1 0-2.2 0M377.5 109.2a1.1 1.1 0 1 0 2.2 0a1.1 1.1 0 1 0-2.2 0M354.2 109.3a1.1 1.1 0 1 0 2.2 0a1.1 1.1 0 1 0-2.2 0M368.6 108.0a1.1 1.1 0 1 0 2.2 0a1.1 1.1 0 1 0-2.2 0M363.9 108.6a1.1 1.1 0 1 0 2.2 0a1.1 1.1 0 1 0-2.2 0M369.8 106.4a1.1 1.1 0 1 0 2.2 0a1.1 1.1 0 1 0-2.2 0M342.1 108.6a1.1 1.1 0 1 0 2.2 0a1.1 1.1 0 1 0-2.2 0M343.7 108.0a1.1 1.1 0 1 0 2.2 0a1.1 1.1 0 1 0-2.2 0M348.6 104.2a1.1 1.1 0 1 0 2.2 0a1.1 1.1 0 1 0-2.2 0M384.2 109.6a1.1 1.1 0 1 0 2.2 0a1.1 1.1 0 1 0-2.2 0M383.6 109.3a1.1 1.1 0 1 0 2.2 0a1.1 1.1 0 1 0-2.2 0M349.8 107.2a1.1 1.1 0 1 0 2.2 0a1.1 1.1 0 1 0-2.2 0M339.3 109.5a1.1 1.1 0 1 0 2.2 0a1.1 1.1 0 1 0-2.2 0M372.2 109.3a1.1 1.1 0 1 0 2.2 0a1.1 1.1 0 1 0-2.2 0M354.6 97.1a1.1 1.1 0 1 0 2.2 0a1.1 1.1 0 1 0-2.2 0M357.7 101.9a1.1 1.1 0 1 0 2.2 0a1.1 1.1 0 1 0-2.2 0M368.3 98.9a1.1 1.1 0 1 0 2.2 0a1.1 1.1 0 1 0-2.2 0M371.8 101.9a1.1 1.1 0 1 0 2.2 0a1.1 1.1 0 1 0-2.2 0M356.8 97.2a1.1 1.1 0 1 0 2.2 0a1.1 1.1 0 1 0-2.2 0M364.0 98.7a1.1 1.1 0 1 0 2.2 0a1.1 1.1 0 1 0-2.2 0M372.0 100.0a1.1 1.1 0 1 0 2.2 0a1.1 1.1 0 1 0-2.2 0M362.6 104.8a1.1 1.1 0 1 0 2.2 0a1.1 1.1 0 1 0-2.2 0M373.5 96.9a1.1 1.1 0 1 0 2.2 0a1.1 1.1 0 1 0-2.2 0M377.6 103.7a1.1 1.1 0 1 0 2.2 0a1.1 1.1 0 1 0-2.2 0M374.1 97.4a1.1 1.1 0 1 0 2.2 0a1.1 1.1 0 1 0-2.2 0M375.1 104.1a1.1 1.1 0 1 0 2.2 0a1.1 1.1 0 1 0-2.2 0M351.2 100.4a1.1 1.1 0 1 0 2.2 0a1.1 1.1 0 1 0-2.2 0M372.2 102.3a1.1 1.1 0 1 0 2.2 0a1.1 1.1 0 1 0-2.2 0M370.8 103.6a1.1 1.1 0 1 0 2.2 0a1.1 1.1 0 1 0-2.2 0M373.1 101.0a1.1 1.1 0 1 0 2.2 0a1.1 1.1 0 1 0-2.2 0M356.1 100.8a1.1 1.1 0 1 0 2.2 0a1.1 1.1 0 1 0-2.2 0M371.2 104.9a1.1 1.1 0 1 0 2.2 0a1.1 1.1 0 1 0-2.2 0M367.1 101.8a1.1 1.1 0 1 0 2.2 0a1.1 1.1 0 1 0-2.2 0M372.1 104.2a1.1 1.1 0 1 0 2.2 0a1.1 1.1 0 1 0-2.2 0M362.7 98.1a1.1 1.1 0 1 0 2.2 0a1.1 1.1 0 1 0-2.2 0M351.6 96.7a1.1 1.1 0 1 0 2.2 0a1.1 1.1 0 1 0-2.2 0M372.0 95.8a1.1 1.1 0 1 0 2.2 0a1.1 1.1 0 1 0-2.2 0M370.4 98.8a1.1 1.1 0 1 0 2.2 0a1.1 1.1 0 1 0-2.2 0M378.4 104.0a1.1 1.1 0 1 0 2.2 0a1.1 1.1 0 1 0-2.2 0M375.9 96.2a1.1 1.1 0 1 0 2.2 0a1.1 1.1 0 1 0-2.2 0M371.5 100.8a1.1 1.1 0 1 0 2.2 0a1.1 1.1 0 1 0-2.2 0M362.2 99.2a1.1 1.1 0 1 0 2.2 0a1.1 1.1 0 1 0-2.2 0M370.8 96.8a1.1 1.1 0 1 0 2.2 0a1.1 1.1 0 1 0-2.2 0M361.1 82.2a1.1 1.1 0 1 0 2.2 0a1.1 1.1 0 1 0-2.2 0M357.7 85.8a1.1 1.1 0 1 0 2.2 0a1.1 1.1 0 1 0-2.2 0M368.1 83.8a1.1 1.1 0 1 0 2.2 0a1.1 1.1 0 1 0-2.2 0M609.1 107.7a1.1 1.1 0 1 0 2.2 0a1.1 1.1 0 1 0-2.2 0M609.1 108.0a1.1 1.1 0 1 0 2.2 0a1.1 1.1 0 1 0-2.2 0M601.9 107.9a1.1 1.1 0 1 0 2.2 0a1.1 1.1 0 1 0-2.2 0M604.1 101.2a1.1 1.1 0 1 0 2.2 0a1.1 1.1 0 1 0-2.2 0M609.6 110.1a1.1 1.1 0 1 0 2.2 0a1.1 1.1 0 1 0-2.2 0M602.8 107.7a1.1 1.1 0 1 0 2.2 0a1.1 1.1 0 1 0-2.2 0M608.5 100.1a1.1 1.1 0 1 0 2.2 0a1.1 1.1 0 1 0-2.2 0M603.8 96.0a1.1 1.1 0 1 0 2.2 0a1.1 1.1 0 1 0-2.2 0M604.8 105.5a1.1 1.1 0 1 0 2.2 0a1.1 1.1 0 1 0-2.2 0M605.7 104.5a1.1 1.1 0 1 0 2.2 0a1.1 1.1 0 1 0-2.2 0M601.9 105.2a1.1 1.1 0 1 0 2.2 0a1.1 1.1 0 1 0-2.2 0M605.0 101.2a1.1 1.1 0 1 0 2.2 0a1.1 1.1 0 1 0-2.2 0M599.4 106.8a1.1 1.1 0 1 0 2.2 0a1.1 1.1 0 1 0-2.2 0M600.2 106.9a1.1 1.1 0 1 0 2.2 0a1.1 1.1 0 1 0-2.2 0M604.2 95.4a1.1 1.1 0 1 0 2.2 0a1.1 1.1 0 1 0-2.2 0M607.7 100.3a1.1 1.1 0 1 0 2.2 0a1.1 1.1 0 1 0-2.2 0M599.6 107.0a1.1 1.1 0 1 0 2.2 0a1.1 1.1 0 1 0-2.2 0M604.4 97.5a1.1 1.1 0 1 0 2.2 0a1.1 1.1 0 1 0-2.2 0M606.0 94.5a1.1 1.1 0 1 0 2.2 0a1.1 1.1 0 1 0-2.2 0M600.2 107.3a1.1 1.1 0 1 0 2.2 0a1.1 1.1 0 1 0-2.2 0M601.9 108.6a1.1 1.1 0 1 0 2.2 0a1.1 1.1 0 1 0-2.2 0M606.7 98.6a1.1 1.1 0 1 0 2.2 0a1.1 1.1 0 1 0-2.2 0M604.4 105.9a1.1 1.1 0 1 0 2.2 0a1.1 1.1 0 1 0-2.2 0M604.8 100.0a1.1 1.1 0 1 0 2.2 0a1.1 1.1 0 1 0-2.2 0M609.1 102.3a1.1 1.1 0 1 0 2.2 0a1.1 1.1 0 1 0-2.2 0M606.0 101.6a1.1 1.1 0 1 0 2.2 0a1.1 1.1 0 1 0-2.2 0M608.9 100.2a1.1 1.1 0 1 0 2.2 0a1.1 1.1 0 1 0-2.2 0M607.1 99.2a1.1 1.1 0 1 0 2.2 0a1.1 1.1 0 1 0-2.2 0M608.6 100.1a1.1 1.1 0 1 0 2.2 0a1.1 1.1 0 1 0-2.2 0M599.9 106.4a1.1 1.1 0 1 0 2.2 0a1.1 1.1 0 1 0-2.2 0M602.5 105.8a1.1 1.1 0 1 0 2.2 0a1.1 1.1 0 1 0-2.2 0M603.9 103.2a1.1 1.1 0 1 0 2.2 0a1.1 1.1 0 1 0-2.2 0M600.8 99.0a1.1 1.1 0 1 0 2.2 0a1.1 1.1 0 1 0-2.2 0M606.5 109.9a1.1 1.1 0 1 0 2.2 0a1.1 1.1 0 1 0-2.2 0M600.7 96.4a1.1 1.1 0 1 0 2.2 0a1.1 1.1 0 1 0-2.2 0M603.9 102.0a1.1 1.1 0 1 0 2.2 0a1.1 1.1 0 1 0-2.2 0M605.5 102.8a1.1 1.1 0 1 0 2.2 0a1.1 1.1 0 1 0-2.2 0M612.9 103.9a1.1 1.1 0 1 0 2.2 0a1.1 1.1 0 1 0-2.2 0M600.5 106.1a1.1 1.1 0 1 0 2.2 0a1.1 1.1 0 1 0-2.2 0M598.3 109.0a1.1 1.1 0 1 0 2.2 0a1.1 1.1 0 1 0-2.2 0M611.7 107.5a1.1 1.1 0 1 0 2.2 0a1.1 1.1 0 1 0-2.2 0M606.9 104.8a1.1 1.1 0 1 0 2.2 0a1.1 1.1 0 1 0-2.2 0M610.5 105.8a1.1 1.1 0 1 0 2.2 0a1.1 1.1 0 1 0-2.2 0M605.7 101.5a1.1 1.1 0 1 0 2.2 0a1.1 1.1 0 1 0-2.2 0M602.5 110.5a1.1 1.1 0 1 0 2.2 0a1.1 1.1 0 1 0-2.2 0M601.0 109.8a1.1 1.1 0 1 0 2.2 0a1.1 1.1 0 1 0-2.2 0M599.3 95.8a1.1 1.1 0 1 0 2.2 0a1.1 1.1 0 1 0-2.2 0M607.1 102.7a1.1 1.1 0 1 0 2.2 0a1.1 1.1 0 1 0-2.2 0M599.9 103.2a1.1 1.1 0 1 0 2.2 0a1.1 1.1 0 1 0-2.2 0M604.4 105.1a1.1 1.1 0 1 0 2.2 0a1.1 1.1 0 1 0-2.2 0M603.7 100.7a1.1 1.1 0 1 0 2.2 0a1.1 1.1 0 1 0-2.2 0M600.0 110.1a1.1 1.1 0 1 0 2.2 0a1.1 1.1 0 1 0-2.2 0M612.2 107.0a1.1 1.1 0 1 0 2.2 0a1.1 1.1 0 1 0-2.2 0M600.8 102.7a1.1 1.1 0 1 0 2.2 0a1.1 1.1 0 1 0-2.2 0M610.4 108.5a1.1 1.1 0 1 0 2.2 0a1.1 1.1 0 1 0-2.2 0M605.2 102.3a1.1 1.1 0 1 0 2.2 0a1.1 1.1 0 1 0-2.2 0M605.2 105.5a1.1 1.1 0 1 0 2.2 0a1.1 1.1 0 1 0-2.2 0M604.1 93.4a1.1 1.1 0 1 0 2.2 0a1.1 1.1 0 1 0-2.2 0M601.7 108.3a1.1 1.1 0 1 0 2.2 0a1.1 1.1 0 1 0-2.2 0M603.6 101.9a1.1 1.1 0 1 0 2.2 0a1.1 1.1 0 1 0-2.2 0M606.3 105.2a1.1 1.1 0 1 0 2.2 0a1.1 1.1 0 1 0-2.2 0M603.1 99.2a1.1 1.1 0 1 0 2.2 0a1.1 1.1 0 1 0-2.2 0M602.3 106.6a1.1 1.1 0 1 0 2.2 0a1.1 1.1 0 1 0-2.2 0M609.2 104.9a1.1 1.1 0 1 0 2.2 0a1.1 1.1 0 1 0-2.2 0M605.2 110.4a1.1 1.1 0 1 0 2.2 0a1.1 1.1 0 1 0-2.2 0M599.6 101.9a1.1 1.1 0 1 0 2.2 0a1.1 1.1 0 1 0-2.2 0M600.1 99.3a1.1 1.1 0 1 0 2.2 0a1.1 1.1 0 1 0-2.2 0M605.3 105.6a1.1 1.1 0 1 0 2.2 0a1.1 1.1 0 1 0-2.2 0M601.4 105.3a1.1 1.1 0 1 0 2.2 0a1.1 1.1 0 1 0-2.2 0M606.6 95.6a1.1 1.1 0 1 0 2.2 0a1.1 1.1 0 1 0-2.2 0M607.8 106.0a1.1 1.1 0 1 0 2.2 0a1.1 1.1 0 1 0-2.2 0M606.7 103.7a1.1 1.1 0 1 0 2.2 0a1.1 1.1 0 1 0-2.2 0M609.3 105.9a1.1 1.1 0 1 0 2.2 0a1.1 1.1 0 1 0-2.2 0M606.8 101.6a1.1 1.1 0 1 0 2.2 0a1.1 1.1 0 1 0-2.2 0M605.1 98.3a1.1 1.1 0 1 0 2.2 0a1.1 1.1 0 1 0-2.2 0M607.0 103.9a1.1 1.1 0 1 0 2.2 0a1.1 1.1 0 1 0-2.2 0M607.2 102.3a1.1 1.1 0 1 0 2.2 0a1.1 1.1 0 1 0-2.2 0M609.5 105.0a1.1 1.1 0 1 0 2.2 0a1.1 1.1 0 1 0-2.2 0M608.4 107.8a1.1 1.1 0 1 0 2.2 0a1.1 1.1 0 1 0-2.2 0M604.5 106.1a1.1 1.1 0 1 0 2.2 0a1.1 1.1 0 1 0-2.2 0M600.9 98.2a1.1 1.1 0 1 0 2.2 0a1.1 1.1 0 1 0-2.2 0M613.3 107.6a1.1 1.1 0 1 0 2.2 0a1.1 1.1 0 1 0-2.2 0M629.6 103.9a1.1 1.1 0 1 0 2.2 0a1.1 1.1 0 1 0-2.2 0M613.4 73.6a1.1 1.1 0 1 0 2.2 0a1.1 1.1 0 1 0-2.2 0M599.7 104.5a1.1 1.1 0 1 0 2.2 0a1.1 1.1 0 1 0-2.2 0M622.3 109.4a1.1 1.1 0 1 0 2.2 0a1.1 1.1 0 1 0-2.2 0M627.0 97.3a1.1 1.1 0 1 0 2.2 0a1.1 1.1 0 1 0-2.2 0M601.6 88.3a1.1 1.1 0 1 0 2.2 0a1.1 1.1 0 1 0-2.2 0M606.0 110.6a1.1 1.1 0 1 0 2.2 0a1.1 1.1 0 1 0-2.2 0M616.4 110.2a1.1 1.1 0 1 0 2.2 0a1.1 1.1 0 1 0-2.2 0M607.4 97.6a1.1 1.1 0 1 0 2.2 0a1.1 1.1 0 1 0-2.2 0M601.2 108.7a1.1 1.1 0 1 0 2.2 0a1.1 1.1 0 1 0-2.2 0M607.2 110.7a1.1 1.1 0 1 0 2.2 0a1.1 1.1 0 1 0-2.2 0M626.2 85.5a1.1 1.1 0 1 0 2.2 0a1.1 1.1 0 1 0-2.2 0M603.6 92.0a1.1 1.1 0 1 0 2.2 0a1.1 1.1 0 1 0-2.2 0M606.5 97.6a1.1 1.1 0 1 0 2.2 0a1.1 1.1 0 1 0-2.2 0M602.6 103.6a1.1 1.1 0 1 0 2.2 0a1.1 1.1 0 1 0-2.2 0M618.4 104.5a1.1 1.1 0 1 0 2.2 0a1.1 1.1 0 1 0-2.2 0M609.6 93.5a1.1 1.1 0 1 0 2.2 0a1.1 1.1 0 1 0-2.2 0M630.6 96.0a1.1 1.1 0 1 0 2.2 0a1.1 1.1 0 1 0-2.2 0M621.6 97.2a1.1 1.1 0 1 0 2.2 0a1.1 1.1 0 1 0-2.2 0M603.0 90.2a1.1 1.1 0 1 0 2.2 0a1.1 1.1 0 1 0-2.2 0M609.1 108.2a1.1 1.1 0 1 0 2.2 0a1.1 1.1 0 1 0-2.2 0M622.3 109.9a1.1 1.1 0 1 0 2.2 0a1.1 1.1 0 1 0-2.2 0M606.1 83.9a1.1 1.1 0 1 0 2.2 0a1.1 1.1 0 1 0-2.2 0M599.0 106.1a1.1 1.1 0 1 0 2.2 0a1.1 1.1 0 1 0-2.2 0M601.3 101.3a1.1 1.1 0 1 0 2.2 0a1.1 1.1 0 1 0-2.2 0M613.9 95.2a1.1 1.1 0 1 0 2.2 0a1.1 1.1 0 1 0-2.2 0M606.6 107.5a1.1 1.1 0 1 0 2.2 0a1.1 1.1 0 1 0-2.2 0M618.9 102.0a1.1 1.1 0 1 0 2.2 0a1.1 1.1 0 1 0-2.2 0M611.7 107.7a1.1 1.1 0 1 0 2.2 0a1.1 1.1 0 1 0-2.2 0M602.3 108.3a1.1 1.1 0 1 0 2.2 0a1.1 1.1 0 1 0-2.2 0M623.4 87.1a1.1 1.1 0 1 0 2.2 0a1.1 1.1 0 1 0-2.2 0M601.4 108.1a1.1 1.1 0 1 0 2.2 0a1.1 1.1 0 1 0-2.2 0M620.1 108.0a1.1 1.1 0 1 0 2.2 0a1.1 1.1 0 1 0-2.2 0M609.4 99.5a1.1 1.1 0 1 0 2.2 0a1.1 1.1 0 1 0-2.2 0M600.6 104.7a1.1 1.1 0 1 0 2.2 0a1.1 1.1 0 1 0-2.2 0M606.7 106.3a1.1 1.1 0 1 0 2.2 0a1.1 1.1 0 1 0-2.2 0M612.7 88.7a1.1 1.1 0 1 0 2.2 0a1.1 1.1 0 1 0-2.2 0M612.7 108.7a1.1 1.1 0 1 0 2.2 0a1.1 1.1 0 1 0-2.2 0M616.7 99.9a1.1 1.1 0 1 0 2.2 0a1.1 1.1 0 1 0-2.2 0M619.9 82.3a1.1 1.1 0 1 0 2.2 0a1.1 1.1 0 1 0-2.2 0M613.4 88.3a1.1 1.1 0 1 0 2.2 0a1.1 1.1 0 1 0-2.2 0M613.4 110.5a1.1 1.1 0 1 0 2.2 0a1.1 1.1 0 1 0-2.2 0M609.2 87.0a1.1 1.1 0 1 0 2.2 0a1.1 1.1 0 1 0-2.2 0M615.5 94.2a1.1 1.1 0 1 0 2.2 0a1.1 1.1 0 1 0-2.2 0M614.3 92.4a1.1 1.1 0 1 0 2.2 0a1.1 1.1 0 1 0-2.2 0M622.6 103.3a1.1 1.1 0 1 0 2.2 0a1.1 1.1 0 1 0-2.2 0M610.4 82.6a1.1 1.1 0 1 0 2.2 0a1.1 1.1 0 1 0-2.2 0M621.8 103.1a1.1 1.1 0 1 0 2.2 0a1.1 1.1 0 1 0-2.2 0M603.8 109.9a1.1 1.1 0 1 0 2.2 0a1.1 1.1 0 1 0-2.2 0M615.7 106.8a1.1 1.1 0 1 0 2.2 0a1.1 1.1 0 1 0-2.2 0M613.3 94.0a1.1 1.1 0 1 0 2.2 0a1.1 1.1 0 1 0-2.2 0M628.7 91.0a1.1 1.1 0 1 0 2.2 0a1.1 1.1 0 1 0-2.2 0M632.8 105.7a1.1 1.1 0 1 0 2.2 0a1.1 1.1 0 1 0-2.2 0M606.8 78.1a1.1 1.1 0 1 0 2.2 0a1.1 1.1 0 1 0-2.2 0M605.5 85.3a1.1 1.1 0 1 0 2.2 0a1.1 1.1 0 1 0-2.2 0M605.9 95.3a1.1 1.1 0 1 0 2.2 0a1.1 1.1 0 1 0-2.2 0M622.0 107.9a1.1 1.1 0 1 0 2.2 0a1.1 1.1 0 1 0-2.2 0M607.9 82.7a1.1 1.1 0 1 0 2.2 0a1.1 1.1 0 1 0-2.2 0M599.8 109.8a1.1 1.1 0 1 0 2.2 0a1.1 1.1 0 1 0-2.2 0M609.9 109.2a1.1 1.1 0 1 0 2.2 0a1.1 1.1 0 1 0-2.2 0M612.7 109.7a1.1 1.1 0 1 0 2.2 0a1.1 1.1 0 1 0-2.2 0M601.6 95.5a1.1 1.1 0 1 0 2.2 0a1.1 1.1 0 1 0-2.2 0M621.6 101.8a1.1 1.1 0 1 0 2.2 0a1.1 1.1 0 1 0-2.2 0M606.3 94.6a1.1 1.1 0 1 0 2.2 0a1.1 1.1 0 1 0-2.2 0M624.1 77.2a1.1 1.1 0 1 0 2.2 0a1.1 1.1 0 1 0-2.2 0M619.1 105.5a1.1 1.1 0 1 0 2.2 0a1.1 1.1 0 1 0-2.2 0M612.4 93.7a1.1 1.1 0 1 0 2.2 0a1.1 1.1 0 1 0-2.2 0M613.9 97.1a1.1 1.1 0 1 0 2.2 0a1.1 1.1 0 1 0-2.2 0M611.1 108.2a1.1 1.1 0 1 0 2.2 0a1.1 1.1 0 1 0-2.2 0M612.0 95.8a1.1 1.1 0 1 0 2.2 0a1.1 1.1 0 1 0-2.2 0M605.7 99.1a1.1 1.1 0 1 0 2.2 0a1.1 1.1 0 1 0-2.2 0M602.4 91.4a1.1 1.1 0 1 0 2.2 0a1.1 1.1 0 1 0-2.2 0M608.3 106.4a1.1 1.1 0 1 0 2.2 0a1.1 1.1 0 1 0-2.2 0M609.9 106.9a1.1 1.1 0 1 0 2.2 0a1.1 1.1 0 1 0-2.2 0M607.6 107.4a1.1 1.1 0 1 0 2.2 0a1.1 1.1 0 1 0-2.2 0M631.5 11.9a1.1 1.1 0 1 0 2.2 0a1.1 1.1 0 1 0-2.2 0M625.0 43.5a1.1 1.1 0 1 0 2.2 0a1.1 1.1 0 1 0-2.2 0M631.5 49.6a1.1 1.1 0 1 0 2.2 0a1.1 1.1 0 1 0-2.2 0M613.6 68.0a1.1 1.1 0 1 0 2.2 0a1.1 1.1 0 1 0-2.2 0M609.7 70.0a1.1 1.1 0 1 0 2.2 0a1.1 1.1 0 1 0-2.2 0M607.2 72.0a1.1 1.1 0 1 0 2.2 0a1.1 1.1 0 1 0-2.2 0M617.2 72.2a1.1 1.1 0 1 0 2.2 0a1.1 1.1 0 1 0-2.2 0M623.9 72.0a1.1 1.1 0 1 0 2.2 0a1.1 1.1 0 1 0-2.2 0M606.4 78.0a1.1 1.1 0 1 0 2.2 0a1.1 1.1 0 1 0-2.2 0M613.6 82.5a1.1 1.1 0 1 0 2.2 0a1.1 1.1 0 1 0-2.2 0M624.7 83.0a1.1 1.1 0 1 0 2.2 0a1.1 1.1 0 1 0-2.2 0M600.6 87.5a1.1 1.1 0 1 0 2.2 0a1.1 1.1 0 1 0-2.2 0M621.4 88.3a1.1 1.1 0 1 0 2.2 0a1.1 1.1 0 1 0-2.2 0M138.5 286.7a1.1 1.1 0 1 0 2.2 0a1.1 1.1 0 1 0-2.2 0M137.7 293.1a1.1 1.1 0 1 0 2.2 0a1.1 1.1 0 1 0-2.2 0M140.5 291.1a1.1 1.1 0 1 0 2.2 0a1.1 1.1 0 1 0-2.2 0M140.8 289.9a1.1 1.1 0 1 0 2.2 0a1.1 1.1 0 1 0-2.2 0M137.3 285.5a1.1 1.1 0 1 0 2.2 0a1.1 1.1 0 1 0-2.2 0M141.6 292.7a1.1 1.1 0 1 0 2.2 0a1.1 1.1 0 1 0-2.2 0M133.4 293.1a1.1 1.1 0 1 0 2.2 0a1.1 1.1 0 1 0-2.2 0M143.0 292.9a1.1 1.1 0 1 0 2.2 0a1.1 1.1 0 1 0-2.2 0M143.7 290.3a1.1 1.1 0 1 0 2.2 0a1.1 1.1 0 1 0-2.2 0M139.0 293.2a1.1 1.1 0 1 0 2.2 0a1.1 1.1 0 1 0-2.2 0M136.4 291.5a1.1 1.1 0 1 0 2.2 0a1.1 1.1 0 1 0-2.2 0M132.1 286.8a1.1 1.1 0 1 0 2.2 0a1.1 1.1 0 1 0-2.2 0M144.3 292.9a1.1 1.1 0 1 0 2.2 0a1.1 1.1 0 1 0-2.2 0M131.4 289.6a1.1 1.1 0 1 0 2.2 0a1.1 1.1 0 1 0-2.2 0M131.2 290.6a1.1 1.1 0 1 0 2.2 0a1.1 1.1 0 1 0-2.2 0M139.4 286.5a1.1 1.1 0 1 0 2.2 0a1.1 1.1 0 1 0-2.2 0M132.9 292.3a1.1 1.1 0 1 0 2.2 0a1.1 1.1 0 1 0-2.2 0M136.8 291.1a1.1 1.1 0 1 0 2.2 0a1.1 1.1 0 1 0-2.2 0M141.7 294.4a1.1 1.1 0 1 0 2.2 0a1.1 1.1 0 1 0-2.2 0M137.5 288.2a1.1 1.1 0 1 0 2.2 0a1.1 1.1 0 1 0-2.2 0M131.1 291.0a1.1 1.1 0 1 0 2.2 0a1.1 1.1 0 1 0-2.2 0M140.7 288.9a1.1 1.1 0 1 0 2.2 0a1.1 1.1 0 1 0-2.2 0M140.9 287.7a1.1 1.1 0 1 0 2.2 0a1.1 1.1 0 1 0-2.2 0M134.9 292.9a1.1 1.1 0 1 0 2.2 0a1.1 1.1 0 1 0-2.2 0M132.3 291.1a1.1 1.1 0 1 0 2.2 0a1.1 1.1 0 1 0-2.2 0M132.5 289.9a1.1 1.1 0 1 0 2.2 0a1.1 1.1 0 1 0-2.2 0M137.6 293.7a1.1 1.1 0 1 0 2.2 0a1.1 1.1 0 1 0-2.2 0M144.3 291.6a1.1 1.1 0 1 0 2.2 0a1.1 1.1 0 1 0-2.2 0M131.3 292.2a1.1 1.1 0 1 0 2.2 0a1.1 1.1 0 1 0-2.2 0M131.0 294.5a1.1 1.1 0 1 0 2.2 0a1.1 1.1 0 1 0-2.2 0M143.9 293.0a1.1 1.1 0 1 0 2.2 0a1.1 1.1 0 1 0-2.2 0M140.6 293.9a1.1 1.1 0 1 0 2.2 0a1.1 1.1 0 1 0-2.2 0M140.7 288.6a1.1 1.1 0 1 0 2.2 0a1.1 1.1 0 1 0-2.2 0M132.3 290.3a1.1 1.1 0 1 0 2.2 0a1.1 1.1 0 1 0-2.2 0M134.1 290.5a1.1 1.1 0 1 0 2.2 0a1.1 1.1 0 1 0-2.2 0M132.7 286.5a1.1 1.1 0 1 0 2.2 0a1.1 1.1 0 1 0-2.2 0M130.9 287.1a1.1 1.1 0 1 0 2.2 0a1.1 1.1 0 1 0-2.2 0M135.3 292.4a1.1 1.1 0 1 0 2.2 0a1.1 1.1 0 1 0-2.2 0M130.2 290.4a1.1 1.1 0 1 0 2.2 0a1.1 1.1 0 1 0-2.2 0M141.2 287.8a1.1 1.1 0 1 0 2.2 0a1.1 1.1 0 1 0-2.2 0M134.8 290.6a1.1 1.1 0 1 0 2.2 0a1.1 1.1 0 1 0-2.2 0M130.2 290.9a1.1 1.1 0 1 0 2.2 0a1.1 1.1 0 1 0-2.2 0M140.7 291.3a1.1 1.1 0 1 0 2.2 0a1.1 1.1 0 1 0-2.2 0M138.1 294.2a1.1 1.1 0 1 0 2.2 0a1.1 1.1 0 1 0-2.2 0M140.7 288.6a1.1 1.1 0 1 0 2.2 0a1.1 1.1 0 1 0-2.2 0M129.8 288.7a1.1 1.1 0 1 0 2.2 0a1.1 1.1 0 1 0-2.2 0M140.2 291.9a1.1 1.1 0 1 0 2.2 0a1.1 1.1 0 1 0-2.2 0M138.7 294.4a1.1 1.1 0 1 0 2.2 0a1.1 1.1 0 1 0-2.2 0M135.9 289.5a1.1 1.1 0 1 0 2.2 0a1.1 1.1 0 1 0-2.2 0M136.7 292.0a1.1 1.1 0 1 0 2.2 0a1.1 1.1 0 1 0-2.2 0M143.2 292.8a1.1 1.1 0 1 0 2.2 0a1.1 1.1 0 1 0-2.2 0M140.2 294.4a1.1 1.1 0 1 0 2.2 0a1.1 1.1 0 1 0-2.2 0M136.6 292.0a1.1 1.1 0 1 0 2.2 0a1.1 1.1 0 1 0-2.2 0M133.0 291.6a1.1 1.1 0 1 0 2.2 0a1.1 1.1 0 1 0-2.2 0M144.2 292.6a1.1 1.1 0 1 0 2.2 0a1.1 1.1 0 1 0-2.2 0M142.4 288.3a1.1 1.1 0 1 0 2.2 0a1.1 1.1 0 1 0-2.2 0M141.9 288.4a1.1 1.1 0 1 0 2.2 0a1.1 1.1 0 1 0-2.2 0M134.9 282.5a1.1 1.1 0 1 0 2.2 0a1.1 1.1 0 1 0-2.2 0M137.7 287.3a1.1 1.1 0 1 0 2.2 0a1.1 1.1 0 1 0-2.2 0M147.2 292.2a1.1 1.1 0 1 0 2.2 0a1.1 1.1 0 1 0-2.2 0M159.3 292.5a1.1 1.1 0 1 0 2.2 0a1.1 1.1 0 1 0-2.2 0M142.2 277.0a1.1 1.1 0 1 0 2.2 0a1.1 1.1 0 1 0-2.2 0M155.9 294.0a1.1 1.1 0 1 0 2.2 0a1.1 1.1 0 1 0-2.2 0M138.7 279.3a1.1 1.1 0 1 0 2.2 0a1.1 1.1 0 1 0-2.2 0M134.6 290.2a1.1 1.1 0 1 0 2.2 0a1.1 1.1 0 1 0-2.2 0M154.9 292.0a1.1 1.1 0 1 0 2.2 0a1.1 1.1 0 1 0-2.2 0M158.1 285.3a1.1 1.1 0 1 0 2.2 0a1.1 1.1 0 1 0-2.2 0M131.3 289.0a1.1 1.1 0 1 0 2.2 0a1.1 1.1 0 1 0-2.2 0M143.2 292.6a1.1 1.1 0 1 0 2.2 0a1.1 1.1 0 1 0-2.2 0M145.2 293.4a1.1 1.1 0 1 0 2.2 0a1.1 1.1 0 1 0-2.2 0M150.8 289.7a1.1 1.1 0 1 0 2.2 0a1.1 1.1 0 1 0-2.2 0M155.4 275.9a1.1 1.1 0 1 0 2.2 0a1.1 1.1 0 1 0-2.2 0M146.7 287.4a1.1 1.1 0 1 0 2.2 0a1.1 1.1 0 1 0-2.2 0M149.2 288.6a1.1 1.1 0 1 0 2.2 0a1.1 1.1 0 1 0-2.2 0M150.6 289.8a1.1 1.1 0 1 0 2.2 0a1.1 1.1 0 1 0-2.2 0M136.7 286.7a1.1 1.1 0 1 0 2.2 0a1.1 1.1 0 1 0-2.2 0M150.7 290.9a1.1 1.1 0 1 0 2.2 0a1.1 1.1 0 1 0-2.2 0M147.1 278.1a1.1 1.1 0 1 0 2.2 0a1.1 1.1 0 1 0-2.2 0M149.3 284.2a1.1 1.1 0 1 0 2.2 0a1.1 1.1 0 1 0-2.2 0M157.6 279.5a1.1 1.1 0 1 0 2.2 0a1.1 1.1 0 1 0-2.2 0M151.6 289.0a1.1 1.1 0 1 0 2.2 0a1.1 1.1 0 1 0-2.2 0M131.1 292.7a1.1 1.1 0 1 0 2.2 0a1.1 1.1 0 1 0-2.2 0M133.3 283.3a1.1 1.1 0 1 0 2.2 0a1.1 1.1 0 1 0-2.2 0M153.1 289.2a1.1 1.1 0 1 0 2.2 0a1.1 1.1 0 1 0-2.2 0M131.3 290.2a1.1 1.1 0 1 0 2.2 0a1.1 1.1 0 1 0-2.2 0M153.6 292.4a1.1 1.1 0 1 0 2.2 0a1.1 1.1 0 1 0-2.2 0M159.8 290.9a1.1 1.1 0 1 0 2.2 0a1.1 1.1 0 1 0-2.2 0M132.1 291.9a1.1 1.1 0 1 0 2.2 0a1.1 1.1 0 1 0-2.2 0M151.7 281.1a1.1 1.1 0 1 0 2.2 0a1.1 1.1 0 1 0-2.2 0M147.5 278.1a1.1 1.1 0 1 0 2.2 0a1.1 1.1 0 1 0-2.2 0M143.5 292.1a1.1 1.1 0 1 0 2.2 0a1.1 1.1 0 1 0-2.2 0M149.8 292.9a1.1 1.1 0 1 0 2.2 0a1.1 1.1 0 1 0-2.2 0M151.8 291.7a1.1 1.1 0 1 0 2.2 0a1.1 1.1 0 1 0-2.2 0M149.8 288.1a1.1 1.1 0 1 0 2.2 0a1.1 1.1 0 1 0-2.2 0M142.5 287.2a1.1 1.1 0 1 0 2.2 0a1.1 1.1 0 1 0-2.2 0M143.1 286.4a1.1 1.1 0 1 0 2.2 0a1.1 1.1 0 1 0-2.2 0M131.2 288.0a1.1 1.1 0 1 0 2.2 0a1.1 1.1 0 1 0-2.2 0M139.9 284.0a1.1 1.1 0 1 0 2.2 0a1.1 1.1 0 1 0-2.2 0M141.0 285.1a1.1 1.1 0 1 0 2.2 0a1.1 1.1 0 1 0-2.2 0M135.8 288.3a1.1 1.1 0 1 0 2.2 0a1.1 1.1 0 1 0-2.2 0M133.4 288.8a1.1 1.1 0 1 0 2.2 0a1.1 1.1 0 1 0-2.2 0M147.1 290.6a1.1 1.1 0 1 0 2.2 0a1.1 1.1 0 1 0-2.2 0M138.3 292.9a1.1 1.1 0 1 0 2.2 0a1.1 1.1 0 1 0-2.2 0M152.3 289.0a1.1 1.1 0 1 0 2.2 0a1.1 1.1 0 1 0-2.2 0M140.8 287.6a1.1 1.1 0 1 0 2.2 0a1.1 1.1 0 1 0-2.2 0M156.2 286.9a1.1 1.1 0 1 0 2.2 0a1.1 1.1 0 1 0-2.2 0M139.6 292.2a1.1 1.1 0 1 0 2.2 0a1.1 1.1 0 1 0-2.2 0M146.9 288.2a1.1 1.1 0 1 0 2.2 0a1.1 1.1 0 1 0-2.2 0M137.4 290.2a1.1 1.1 0 1 0 2.2 0a1.1 1.1 0 1 0-2.2 0M138.5 292.7a1.1 1.1 0 1 0 2.2 0a1.1 1.1 0 1 0-2.2 0M145.0 290.6a1.1 1.1 0 1 0 2.2 0a1.1 1.1 0 1 0-2.2 0M141.7 277.3a1.1 1.1 0 1 0 2.2 0a1.1 1.1 0 1 0-2.2 0M144.7 293.2a1.1 1.1 0 1 0 2.2 0a1.1 1.1 0 1 0-2.2 0M150.5 283.4a1.1 1.1 0 1 0 2.2 0a1.1 1.1 0 1 0-2.2 0M156.9 291.0a1.1 1.1 0 1 0 2.2 0a1.1 1.1 0 1 0-2.2 0M141.7 286.2a1.1 1.1 0 1 0 2.2 0a1.1 1.1 0 1 0-2.2 0M132.9 282.6a1.1 1.1 0 1 0 2.2 0a1.1 1.1 0 1 0-2.2 0M148.7 284.1a1.1 1.1 0 1 0 2.2 0a1.1 1.1 0 1 0-2.2 0M135.4 281.0a1.1 1.1 0 1 0 2.2 0a1.1 1.1 0 1 0-2.2 0M150.7 280.7a1.1 1.1 0 1 0 2.2 0a1.1 1.1 0 1 0-2.2 0M137.2 291.3a1.1 1.1 0 1 0 2.2 0a1.1 1.1 0 1 0-2.2 0M139.1 288.2a1.1 1.1 0 1 0 2.2 0a1.1 1.1 0 1 0-2.2 0M159.1 267.0a1.1 1.1 0 1 0 2.2 0a1.1 1.1 0 1 0-2.2 0M152.2 269.8a1.1 1.1 0 1 0 2.2 0a1.1 1.1 0 1 0-2.2 0M147.1 272.2a1.1 1.1 0 1 0 2.2 0a1.1 1.1 0 1 0-2.2 0M155.1 274.6a1.1 1.1 0 1 0 2.2 0a1.1 1.1 0 1 0-2.2 0M144.2 276.7a1.1 1.1 0 1 0 2.2 0a1.1 1.1 0 1 0-2.2 0M156.2 279.5a1.1 1.1 0 1 0 2.2 0a1.1 1.1 0 1 0-2.2 0M165.9 283.2a1.1 1.1 0 1 0 2.2 0a1.1 1.1 0 1 0-2.2 0M169.1 282.2a1.1 1.1 0 1 0 2.2 0a1.1 1.1 0 1 0-2.2 0M165.1 291.9a1.1 1.1 0 1 0 2.2 0a1.1 1.1 0 1 0-2.2 0M362.7 286.3a1.1 1.1 0 1 0 2.2 0a1.1 1.1 0 1 0-2.2 0M382.0 285.7a1.1 1.1 0 1 0 2.2 0a1.1 1.1 0 1 0-2.2 0M353.0 288.8a1.1 1.1 0 1 0 2.2 0a1.1 1.1 0 1 0-2.2 0M355.7 288.7a1.1 1.1 0 1 0 2.2 0a1.1 1.1 0 1 0-2.2 0M360.4 282.9a1.1 1.1 0 1 0 2.2 0a1.1 1.1 0 1 0-2.2 0M361.6 287.1a1.1 1.1 0 1 0 2.2 0a1.1 1.1 0 1 0-2.2 0M369.2 287.5a1.1 1.1 0 1 0 2.2 0a1.1 1.1 0 1 0-2.2 0M363.4 284.2a1.1 1.1 0 1 0 2.2 0a1.1 1.1 0 1 0-2.2 0M370.0 288.7a1.1 1.1 0 1 0 2.2 0a1.1 1.1 0 1 0-2.2 0M364.4 288.1a1.1 1.1 0 1 0 2.2 0a1.1 1.1 0 1 0-2.2 0M352.1 287.0a1.1 1.1 0 1 0 2.2 0a1.1 1.1 0 1 0-2.2 0M369.8 285.0a1.1 1.1 0 1 0 2.2 0a1.1 1.1 0 1 0-2.2 0M357.3 289.6a1.1 1.1 0 1 0 2.2 0a1.1 1.1 0 1 0-2.2 0M360.2 279.1a1.1 1.1 0 1 0 2.2 0a1.1 1.1 0 1 0-2.2 0M367.8 288.3a1.1 1.1 0 1 0 2.2 0a1.1 1.1 0 1 0-2.2 0M374.0 254.8a1.1 1.1 0 1 0 2.2 0a1.1 1.1 0 1 0-2.2 0M376.9 255.8a1.1 1.1 0 1 0 2.2 0a1.1 1.1 0 1 0-2.2 0M351.4 275.1a1.1 1.1 0 1 0 2.2 0a1.1 1.1 0 1 0-2.2 0M369.5 278.5l1 1.8h-2zM385.6 282.7a1.1 1.1 0 1 0 2.2 0a1.1 1.1 0 1 0-2.2 0M377.2 283.5a1.1 1.1 0 1 0 2.2 0a1.1 1.1 0 1 0-2.2 0M375.5 222.4a1.1 1.1 0 1 0 2.2 0a1.1 1.1 0 1 0-2.2 0M380.6 228.5a1.1 1.1 0 1 0 2.2 0a1.1 1.1 0 1 0-2.2 0M593.2 282.7a1.1 1.1 0 1 0 2.2 0a1.1 1.1 0 1 0-2.2 0M592.4 273.3a1.1 1.1 0 1 0 2.2 0a1.1 1.1 0 1 0-2.2 0M594.3 288.0a1.1 1.1 0 1 0 2.2 0a1.1 1.1 0 1 0-2.2 0M591.4 279.7a1.1 1.1 0 1 0 2.2 0a1.1 1.1 0 1 0-2.2 0M594.8 288.6a1.1 1.1 0 1 0 2.2 0a1.1 1.1 0 1 0-2.2 0M595.1 289.3a1.1 1.1 0 1 0 2.2 0a1.1 1.1 0 1 0-2.2 0M595.4 279.9a1.1 1.1 0 1 0 2.2 0a1.1 1.1 0 1 0-2.2 0M599.1 294.3a1.1 1.1 0 1 0 2.2 0a1.1 1.1 0 1 0-2.2 0M598.1 279.4a1.1 1.1 0 1 0 2.2 0a1.1 1.1 0 1 0-2.2 0M593.8 289.5a1.1 1.1 0 1 0 2.2 0a1.1 1.1 0 1 0-2.2 0M592.9 286.2a1.1 1.1 0 1 0 2.2 0a1.1 1.1 0 1 0-2.2 0M589.5 285.3a1.1 1.1 0 1 0 2.2 0a1.1 1.1 0 1 0-2.2 0M597.7 280.6a1.1 1.1 0 1 0 2.2 0a1.1 1.1 0 1 0-2.2 0M593.6 288.6a1.1 1.1 0 1 0 2.2 0a1.1 1.1 0 1 0-2.2 0M590.4 295.1a1.1 1.1 0 1 0 2.2 0a1.1 1.1 0 1 0-2.2 0M598.6 294.4a1.1 1.1 0 1 0 2.2 0a1.1 1.1 0 1 0-2.2 0M590.0 289.6a1.1 1.1 0 1 0 2.2 0a1.1 1.1 0 1 0-2.2 0M594.4 286.2a1.1 1.1 0 1 0 2.2 0a1.1 1.1 0 1 0-2.2 0M590.7 292.8a1.1 1.1 0 1 0 2.2 0a1.1 1.1 0 1 0-2.2 0M599.1 289.4a1.1 1.1 0 1 0 2.2 0a1.1 1.1 0 1 0-2.2 0M597.0 295.1a1.1 1.1 0 1 0 2.2 0a1.1 1.1 0 1 0-2.2 0M593.3 283.7a1.1 1.1 0 1 0 2.2 0a1.1 1.1 0 1 0-2.2 0M589.3 291.9a1.1 1.1 0 1 0 2.2 0a1.1 1.1 0 1 0-2.2 0M598.9 279.9a1.1 1.1 0 1 0 2.2 0a1.1 1.1 0 1 0-2.2 0M589.7 282.4a1.1 1.1 0 1 0 2.2 0a1.1 1.1 0 1 0-2.2 0M601.6 294.7a1.1 1.1 0 1 0 2.2 0a1.1 1.1 0 1 0-2.2 0M593.7 275.1a1.1 1.1 0 1 0 2.2 0a1.1 1.1 0 1 0-2.2 0M597.8 293.4a1.1 1.1 0 1 0 2.2 0a1.1 1.1 0 1 0-2.2 0M590.7 291.3a1.1 1.1 0 1 0 2.2 0a1.1 1.1 0 1 0-2.2 0M592.1 274.6a1.1 1.1 0 1 0 2.2 0a1.1 1.1 0 1 0-2.2 0M595.4 291.2a1.1 1.1 0 1 0 2.2 0a1.1 1.1 0 1 0-2.2 0M595.2 290.7a1.1 1.1 0 1 0 2.2 0a1.1 1.1 0 1 0-2.2 0M594.7 293.2a1.1 1.1 0 1 0 2.2 0a1.1 1.1 0 1 0-2.2 0M591.5 276.8a1.1 1.1 0 1 0 2.2 0a1.1 1.1 0 1 0-2.2 0M592.1 278.5a1.1 1.1 0 1 0 2.2 0a1.1 1.1 0 1 0-2.2 0M596.0 287.3a1.1 1.1 0 1 0 2.2 0a1.1 1.1 0 1 0-2.2 0M589.9 277.0a1.1 1.1 0 1 0 2.2 0a1.1 1.1 0 1 0-2.2 0M600.7 281.2a1.1 1.1 0 1 0 2.2 0a1.1 1.1 0 1 0-2.2 0M599.6 287.0a1.1 1.1 0 1 0 2.2 0a1.1 1.1 0 1 0-2.2 0M602.7 292.4a1.1 1.1 0 1 0 2.2 0a1.1 1.1 0 1 0-2.2 0M595.7 284.4a1.1 1.1 0 1 0 2.2 0a1.1 1.1 0 1 0-2.2 0M597.1 292.7a1.1 1.1 0 1 0 2.2 0a1.1 1.1 0 1 0-2.2 0M592.5 282.1a1.1 1.1 0 1 0 2.2 0a1.1 1.1 0 1 0-2.2 0M599.7 290.6a1.1 1.1 0 1 0 2.2 0a1.1 1.1 0 1 0-2.2 0M592.1 287.1a1.1 1.1 0 1 0 2.2 0a1.1 1.1 0 1 0-2.2 0M594.9 288.4a1.1 1.1 0 1 0 2.2 0a1.1 1.1 0 1 0-2.2 0M596.7 276.7a1.1 1.1 0 1 0 2.2 0a1.1 1.1 0 1 0-2.2 0M591.9 295.1a1.1 1.1 0 1 0 2.2 0a1.1 1.1 0 1 0-2.2 0M590.8 287.1a1.1 1.1 0 1 0 2.2 0a1.1 1.1 0 1 0-2.2 0M601.3 287.3a1.1 1.1 0 1 0 2.2 0a1.1 1.1 0 1 0-2.2 0M596.5 285.5a1.1 1.1 0 1 0 2.2 0a1.1 1.1 0 1 0-2.2 0M597.6 291.0a1.1 1.1 0 1 0 2.2 0a1.1 1.1 0 1 0-2.2 0M590.7 285.7a1.1 1.1 0 1 0 2.2 0a1.1 1.1 0 1 0-2.2 0M589.6 280.0a1.1 1.1 0 1 0 2.2 0a1.1 1.1 0 1 0-2.2 0M589.0 287.5a1.1 1.1 0 1 0 2.2 0a1.1 1.1 0 1 0-2.2 0M589.8 288.3a1.1 1.1 0 1 0 2.2 0a1.1 1.1 0 1 0-2.2 0M598.2 275.5a1.1 1.1 0 1 0 2.2 0a1.1 1.1 0 1 0-2.2 0M592.1 290.9a1.1 1.1 0 1 0 2.2 0a1.1 1.1 0 1 0-2.2 0M591.7 271.3a1.1 1.1 0 1 0 2.2 0a1.1 1.1 0 1 0-2.2 0M596.0 295.0a1.1 1.1 0 1 0 2.2 0a1.1 1.1 0 1 0-2.2 0M596.2 285.0a1.1 1.1 0 1 0 2.2 0a1.1 1.1 0 1 0-2.2 0M597.0 294.3a1.1 1.1 0 1 0 2.2 0a1.1 1.1 0 1 0-2.2 0M598.7 280.7a1.1 1.1 0 1 0 2.2 0a1.1 1.1 0 1 0-2.2 0M596.9 280.6a1.1 1.1 0 1 0 2.2 0a1.1 1.1 0 1 0-2.2 0M592.1 293.2a1.1 1.1 0 1 0 2.2 0a1.1 1.1 0 1 0-2.2 0M592.5 278.5a1.1 1.1 0 1 0 2.2 0a1.1 1.1 0 1 0-2.2 0M594.6 292.6a1.1 1.1 0 1 0 2.2 0a1.1 1.1 0 1 0-2.2 0M592.8 294.4a1.1 1.1 0 1 0 2.2 0a1.1 1.1 0 1 0-2.2 0M599.2 283.0a1.1 1.1 0 1 0 2.2 0a1.1 1.1 0 1 0-2.2 0M597.0 284.5a1.1 1.1 0 1 0 2.2 0a1.1 1.1 0 1 0-2.2 0M592.4 290.3a1.1 1.1 0 1 0 2.2 0a1.1 1.1 0 1 0-2.2 0M589.9 284.8a1.1 1.1 0 1 0 2.2 0a1.1 1.1 0 1 0-2.2 0M593.6 295.3a1.1 1.1 0 1 0 2.2 0a1.1 1.1 0 1 0-2.2 0M595.3 294.4a1.1 1.1 0 1 0 2.2 0a1.1 1.1 0 1 0-2.2 0M591.7 291.0a1.1 1.1 0 1 0 2.2 0a1.1 1.1 0 1 0-2.2 0M600.6 283.1a1.1 1.1 0 1 0 2.2 0a1.1 1.1 0 1 0-2.2 0M592.1 292.7a1.1 1.1 0 1 0 2.2 0a1.1 1.1 0 1 0-2.2 0M591.2 289.7a1.1 1.1 0 1 0 2.2 0a1.1 1.1 0 1 0-2.2 0M594.6 280.9a1.1 1.1 0 1 0 2.2 0a1.1 1.1 0 1 0-2.2 0M600.5 286.4a1.1 1.1 0 1 0 2.2 0a1.1 1.1 0 1 0-2.2 0M588.9 292.9a1.1 1.1 0 1 0 2.2 0a1.1 1.1 0 1 0-2.2 0M592.8 271.6a1.1 1.1 0 1 0 2.2 0a1.1 1.1 0 1 0-2.2 0M594.3 277.7a1.1 1.1 0 1 0 2.2 0a1.1 1.1 0 1 0-2.2 0M599.2 293.8a1.1 1.1 0 1 0 2.2 0a1.1 1.1 0 1 0-2.2 0M592.6 290.0a1.1 1.1 0 1 0 2.2 0a1.1 1.1 0 1 0-2.2 0M595.8 285.8a1.1 1.1 0 1 0 2.2 0a1.1 1.1 0 1 0-2.2 0M598.8 285.2a1.1 1.1 0 1 0 2.2 0a1.1 1.1 0 1 0-2.2 0M591.7 272.2a1.1 1.1 0 1 0 2.2 0a1.1 1.1 0 1 0-2.2 0M597.6 292.0a1.1 1.1 0 1 0 2.2 0a1.1 1.1 0 1 0-2.2 0M590.4 287.6a1.1 1.1 0 1 0 2.2 0a1.1 1.1 0 1 0-2.2 0M591.2 289.3a1.1 1.1 0 1 0 2.2 0a1.1 1.1 0 1 0-2.2 0M590.3 291.7a1.1 1.1 0 1 0 2.2 0a1.1 1.1 0 1 0-2.2 0M589.0 288.4a1.1 1.1 0 1 0 2.2 0a1.1 1.1 0 1 0-2.2 0M595.9 271.9a1.1 1.1 0 1 0 2.2 0a1.1 1.1 0 1 0-2.2 0M590.5 274.9a1.1 1.1 0 1 0 2.2 0a1.1 1.1 0 1 0-2.2 0M592.1 271.7a1.1 1.1 0 1 0 2.2 0a1.1 1.1 0 1 0-2.2 0M595.6 281.0a1.1 1.1 0 1 0 2.2 0a1.1 1.1 0 1 0-2.2 0M600.4 291.4a1.1 1.1 0 1 0 2.2 0a1.1 1.1 0 1 0-2.2 0M597.8 271.9a1.1 1.1 0 1 0 2.2 0a1.1 1.1 0 1 0-2.2 0M596.6 275.9a1.1 1.1 0 1 0 2.2 0a1.1 1.1 0 1 0-2.2 0M591.1 290.0a1.1 1.1 0 1 0 2.2 0a1.1 1.1 0 1 0-2.2 0M592.7 283.9a1.1 1.1 0 1 0 2.2 0a1.1 1.1 0 1 0-2.2 0M589.6 282.8a1.1 1.1 0 1 0 2.2 0a1.1 1.1 0 1 0-2.2 0M592.5 280.0a1.1 1.1 0 1 0 2.2 0a1.1 1.1 0 1 0-2.2 0M596.3 283.6a1.1 1.1 0 1 0 2.2 0a1.1 1.1 0 1 0-2.2 0M594.6 269.0a1.1 1.1 0 1 0 2.2 0a1.1 1.1 0 1 0-2.2 0M604.7 280.9a1.1 1.1 0 1 0 2.2 0a1.1 1.1 0 1 0-2.2 0M598.1 272.2a1.1 1.1 0 1 0 2.2 0a1.1 1.1 0 1 0-2.2 0M609.9 274.1a1.1 1.1 0 1 0 2.2 0a1.1 1.1 0 1 0-2.2 0M597.6 280.8l1.1-1.1l1.1 1.1l-1.1 1.1zM615.7 284.5l1.1-1.1l1.1 1.1l-1.1 1.1zM590.2 292.3a1.1 1.1 0 1 0 2.2 0a1.1 1.1 0 1 0-2.2 0M594.1 273.6a1.1 1.1 0 1 0 2.2 0a1.1 1.1 0 1 0-2.2 0M609.4 282.4a1.1 1.1 0 1 0 2.2 0a1.1 1.1 0 1 0-2.2 0M606.3 289.0a1.1 1.1 0 1 0 2.2 0a1.1 1.1 0 1 0-2.2 0M599.0 286.4a1.1 1.1 0 1 0 2.2 0a1.1 1.1 0 1 0-2.2 0M605.5 282.6l1.1-1.1l1.1 1.1l-1.1 1.1zM616.0 283.8a1.1 1.1 0 1 0 2.2 0a1.1 1.1 0 1 0-2.2 0M613.2 295.0l1.1-1.1l1.1 1.1l-1.1 1.1zM606.0 269.6a1.1 1.1 0 1 0 2.2 0a1.1 1.1 0 1 0-2.2 0M598.1 284.0a1.1 1.1 0 1 0 2.2 0a1.1 1.1 0 1 0-2.2 0M596.2 275.3a1.1 1.1 0 1 0 2.2 0a1.1 1.1 0 1 0-2.2 0M621.7 271.6l1.1-1.1l1.1 1.1l-1.1 1.1zM612.4 275.1a1.1 1.1 0 1 0 2.2 0a1.1 1.1 0 1 0-2.2 0M595.2 273.6a1.1 1.1 0 1 0 2.2 0a1.1 1.1 0 1 0-2.2 0M615.7 275.6a1.1 1.1 0 1 0 2.2 0a1.1 1.1 0 1 0-2.2 0M592.0 282.6a1.1 1.1 0 1 0 2.2 0a1.1 1.1 0 1 0-2.2 0M590.8 272.5a1.1 1.1 0 1 0 2.2 0a1.1 1.1 0 1 0-2.2 0M608.6 272.9a1.1 1.1 0 1 0 2.2 0a1.1 1.1 0 1 0-2.2 0M594.1 278.6a1.1 1.1 0 1 0 2.2 0a1.1 1.1 0 1 0-2.2 0M591.1 282.3a1.1 1.1 0 1 0 2.2 0a1.1 1.1 0 1 0-2.2 0M597.2 268.3l1.1-1.1l1.1 1.1l-1.1 1.1zM591.7 280.6a1.1 1.1 0 1 0 2.2 0a1.1 1.1 0 1 0-2.2 0M598.4 289.0a1.1 1.1 0 1 0 2.2 0a1.1 1.1 0 1 0-2.2 0M601.8 264.5a1.1 1.1 0 1 0 2.2 0a1.1 1.1 0 1 0-2.2 0M614.9 289.0a1.1 1.1 0 1 0 2.2 0a1.1 1.1 0 1 0-2.2 0M600.9 279.9a1.1 1.1 0 1 0 2.2 0a1.1 1.1 0 1 0-2.2 0M595.8 265.0a1.1 1.1 0 1 0 2.2 0a1.1 1.1 0 1 0-2.2 0M594.8 278.9a1.1 1.1 0 1 0 2.2 0a1.1 1.1 0 1 0-2.2 0M593.0 285.8a1.1 1.1 0 1 0 2.2 0a1.1 1.1 0 1 0-2.2 0M593.4 292.7l1.1-1.1l1.1 1.1l-1.1 1.1zM593.6 269.7a1.1 1.1 0 1 0 2.2 0a1.1 1.1 0 1 0-2.2 0M597.4 292.2a1.1 1.1 0 1 0 2.2 0a1.1 1.1 0 1 0-2.2 0M617.7 283.5a1.1 1.1 0 1 0 2.2 0a1.1 1.1 0 1 0-2.2 0M615.7 290.4l1.1-1.1l1.1 1.1l-1.1 1.1zM597.1 268.9a1.1 1.1 0 1 0 2.2 0a1.1 1.1 0 1 0-2.2 0M603.9 292.0a1.1 1.1 0 1 0 2.2 0a1.1 1.1 0 1 0-2.2 0M593.3 272.3a1.1 1.1 0 1 0 2.2 0a1.1 1.1 0 1 0-2.2 0M617.2 294.3a1.1 1.1 0 1 0 2.2 0a1.1 1.1 0 1 0-2.2 0M595.3 287.1a1.1 1.1 0 1 0 2.2 0a1.1 1.1 0 1 0-2.2 0M600.0 278.6a1.1 1.1 0 1 0 2.2 0a1.1 1.1 0 1 0-2.2 0M602.1 266.7a1.1 1.1 0 1 0 2.2 0a1.1 1.1 0 1 0-2.2 0M602.0 291.3a1.1 1.1 0 1 0 2.2 0a1.1 1.1 0 1 0-2.2 0M603.8 281.1l1.1-1.1l1.1 1.1l-1.1 1.1zM600.9 262.3a1.1 1.1 0 1 0 2.2 0a1.1 1.1 0 1 0-2.2 0M592.3 291.8a1.1 1.1 0 1 0 2.2 0a1.1 1.1 0 1 0-2.2 0M614.9 275.4a1.1 1.1 0 1 0 2.2 0a1.1 1.1 0 1 0-2.2 0M601.8 284.9a1.1 1.1 0 1 0 2.2 0a1.1 1.1 0 1 0-2.2 0M592.3 284.4a1.1 1.1 0 1 0 2.2 0a1.1 1.1 0 1 0-2.2 0M592.2 283.1a1.1 1.1 0 1 0 2.2 0a1.1 1.1 0 1 0-2.2 0M597.9 291.2a1.1 1.1 0 1 0 2.2 0a1.1 1.1 0 1 0-2.2 0M597.1 278.6l1.1-1.1l1.1 1.1l-1.1 1.1zM591.2 293.9a1.1 1.1 0 1 0 2.2 0a1.1 1.1 0 1 0-2.2 0M590.8 269.2a1.1 1.1 0 1 0 2.2 0a1.1 1.1 0 1 0-2.2 0M595.9 278.2a1.1 1.1 0 1 0 2.2 0a1.1 1.1 0 1 0-2.2 0M591.0 272.1a1.1 1.1 0 1 0 2.2 0a1.1 1.1 0 1 0-2.2 0M598.7 269.0a1.1 1.1 0 1 0 2.2 0a1.1 1.1 0 1 0-2.2 0M595.3 294.8a1.1 1.1 0 1 0 2.2 0a1.1 1.1 0 1 0-2.2 0M595.9 271.4l1.1-1.1l1.1 1.1l-1.1 1.1zM591.5 292.1a1.1 1.1 0 1 0 2.2 0a1.1 1.1 0 1 0-2.2 0M615.3 291.0a1.1 1.1 0 1 0 2.2 0a1.1 1.1 0 1 0-2.2 0M604.0 288.9a1.1 1.1 0 1 0 2.2 0a1.1 1.1 0 1 0-2.2 0M594.3 270.0a1.1 1.1 0 1 0 2.2 0a1.1 1.1 0 1 0-2.2 0M601.7 292.6a1.1 1.1 0 1 0 2.2 0a1.1 1.1 0 1 0-2.2 0M597.1 274.8a1.1 1.1 0 1 0 2.2 0a1.1 1.1 0 1 0-2.2 0M612.2 280.7a1.1 1.1 0 1 0 2.2 0a1.1 1.1 0 1 0-2.2 0M621.1 283.1a1.1 1.1 0 1 0 2.2 0a1.1 1.1 0 1 0-2.2 0M619.4 286.0l1.1-1.1l1.1 1.1l-1.1 1.1zM627.7 276.2a1.1 1.1 0 1 0 2.2 0a1.1 1.1 0 1 0-2.2 0M602.8 270.6a1.1 1.1 0 1 0 2.2 0a1.1 1.1 0 1 0-2.2 0M601.6 284.8a1.1 1.1 0 1 0 2.2 0a1.1 1.1 0 1 0-2.2 0M598.9 268.4a1.1 1.1 0 1 0 2.2 0a1.1 1.1 0 1 0-2.2 0M614.5 282.2l1.1-1.1l1.1 1.1l-1.1 1.1zM593.8 288.9a1.1 1.1 0 1 0 2.2 0a1.1 1.1 0 1 0-2.2 0M597.2 283.5a1.1 1.1 0 1 0 2.2 0a1.1 1.1 0 1 0-2.2 0M596.4 291.8a1.1 1.1 0 1 0 2.2 0a1.1 1.1 0 1 0-2.2 0M596.5 285.9a1.1 1.1 0 1 0 2.2 0a1.1 1.1 0 1 0-2.2 0M597.0 282.8a1.1 1.1 0 1 0 2.2 0a1.1 1.1 0 1 0-2.2 0M595.8 280.4a1.1 1.1 0 1 0 2.2 0a1.1 1.1 0 1 0-2.2 0M601.3 292.0a1.1 1.1 0 1 0 2.2 0a1.1 1.1 0 1 0-2.2 0M592.7 289.2a1.1 1.1 0 1 0 2.2 0a1.1 1.1 0 1 0-2.2 0M608.0 286.7a1.1 1.1 0 1 0 2.2 0a1.1 1.1 0 1 0-2.2 0M602.1 293.4a1.1 1.1 0 1 0 2.2 0a1.1 1.1 0 1 0-2.2 0M601.0 288.8a1.1 1.1 0 1 0 2.2 0a1.1 1.1 0 1 0-2.2 0M590.1 286.9a1.1 1.1 0 1 0 2.2 0a1.1 1.1 0 1 0-2.2 0M597.5 276.3a1.1 1.1 0 1 0 2.2 0a1.1 1.1 0 1 0-2.2 0M598.7 280.6l1.1-1.1l1.1 1.1l-1.1 1.1zM605.5 285.9l1.1-1.1l1.1 1.1l-1.1 1.1zM598.0 274.8a1.1 1.1 0 1 0 2.2 0a1.1 1.1 0 1 0-2.2 0M603.0 291.4l1.1-1.1l1.1 1.1l-1.1 1.1zM614.2 289.3a1.1 1.1 0 1 0 2.2 0a1.1 1.1 0 1 0-2.2 0M619.7 287.4a1.1 1.1 0 1 0 2.2 0a1.1 1.1 0 1 0-2.2 0M619.1 291.0a1.1 1.1 0 1 0 2.2 0a1.1 1.1 0 1 0-2.2 0M617.8 277.1l1.1-1.1l1.1 1.1l-1.1 1.1zM603.7 293.6a1.1 1.1 0 1 0 2.2 0a1.1 1.1 0 1 0-2.2 0M598.2 291.1a1.1 1.1 0 1 0 2.2 0a1.1 1.1 0 1 0-2.2 0M594.9 285.0a1.1 1.1 0 1 0 2.2 0a1.1 1.1 0 1 0-2.2 0M591.8 293.9a1.1 1.1 0 1 0 2.2 0a1.1 1.1 0 1 0-2.2 0M600.9 294.2a1.1 1.1 0 1 0 2.2 0a1.1 1.1 0 1 0-2.2 0M616.3 286.4a1.1 1.1 0 1 0 2.2 0a1.1 1.1 0 1 0-2.2 0M598.9 278.1a1.1 1.1 0 1 0 2.2 0a1.1 1.1 0 1 0-2.2 0M589.0 293.3a1.1 1.1 0 1 0 2.2 0a1.1 1.1 0 1 0-2.2 0M592.0 270.5a1.1 1.1 0 1 0 2.2 0a1.1 1.1 0 1 0-2.2 0M595.5 272.2a1.1 1.1 0 1 0 2.2 0a1.1 1.1 0 1 0-2.2 0M602.3 293.0l1.1-1.1l1.1 1.1l-1.1 1.1zM603.9 294.8a1.1 1.1 0 1 0 2.2 0a1.1 1.1 0 1 0-2.2 0M611.7 290.3a1.1 1.1 0 1 0 2.2 0a1.1 1.1 0 1 0-2.2 0M594.5 284.1a1.1 1.1 0 1 0 2.2 0a1.1 1.1 0 1 0-2.2 0M627.7 194.9a1.1 1.1 0 1 0 2.2 0a1.1 1.1 0 1 0-2.2 0M614.7 206.8a1.1 1.1 0 1 0 2.2 0a1.1 1.1 0 1 0-2.2 0M625.4 222.9a1.1 1.1 0 1 0 2.2 0a1.1 1.1 0 1 0-2.2 0M617.3 231.3a1.1 1.1 0 1 0 2.2 0a1.1 1.1 0 1 0-2.2 0M620.1 253.3a1.1 1.1 0 1 0 2.2 0a1.1 1.1 0 1 0-2.2 0M598.6 258.8a1.1 1.1 0 1 0 2.2 0a1.1 1.1 0 1 0-2.2 0M609.7 258.8a1.1 1.1 0 1 0 2.2 0a1.1 1.1 0 1 0-2.2 0M614.4 258.0a1.1 1.1 0 1 0 2.2 0a1.1 1.1 0 1 0-2.2 0M618.9 258.8a1.1 1.1 0 1 0 2.2 0a1.1 1.1 0 1 0-2.2 0M631.7 264.2a1.1 1.1 0 1 0 2.2 0a1.1 1.1 0 1 0-2.2 0M623.9 266.3l1.1-1.1l1.1 1.1l-1.1 1.1zM608.1 265.2l1.1-1.1l1.1 1.1l-1.1 1.1zM600.6 266.7a1.1 1.1 0 1 0 2.2 0a1.1 1.1 0 1 0-2.2 0M628.9 275.0a1.1 1.1 0 1 0 2.2 0a1.1 1.1 0 1 0-2.2 0M627.2 278.8a1.1 1.1 0 1 0 2.2 0a1.1 1.1 0 1 0-2.2 0M626.4 286.7a1.1 1.1 0 1 0 2.2 0a1.1 1.1 0 1 0-2.2 0M624.7 290.5a1.1 1.1 0 1 0 2.2 0a1.1 1.1 0 1 0-2.2 0M617.2 285.5a1.1 1.1 0 1 0 2.2 0a1.1 1.1 0 1 0-2.2 0"/>
<path fill="none" stroke="#777" stroke-width="0.45" d="M307.3 97.8l1.4 1.4m0-1.4l-1.4 1.4M305.3 95.3l1.4 1.4m0-1.4l-1.4 1.4M339.5 93.8l1.4 1.4m0-1.4l-1.4 1.4M559.8 66.3l1.4 1.4m0-1.4l-1.4 1.4M560.8 72.3l1.4 1.4m0-1.4l-1.4 1.4M561.3 80.3l1.4 1.4m0-1.4l-1.4 1.4M561.3 85.1l1.4 1.4m0-1.4l-1.4 1.4M562.7 88.4l1.4 1.4m0-1.4l-1.4 1.4M565.3 92.3l1.4 1.4m0-1.4l-1.4 1.4M566.3 90.3l1.4 1.4m0-1.4l-1.4 1.4M564.3 94.8l1.4 1.4m0-1.4l-1.4 1.4M567.3 94.3l1.4 1.4m0-1.4l-1.4 1.4M592.3 91.3l1.4 1.4m0-1.4l-1.4 1.4M596.3 89.3l1.4 1.4m0-1.4l-1.4 1.4M125.3 283.0l1.4 1.4m0-1.4l-1.4 1.4M106.3 286.3l1.4 1.4m0-1.4l-1.4 1.4M103.3 287.8l1.4 1.4m0-1.4l-1.4 1.4M94.3 284.3l1.4 1.4m0-1.4l-1.4 1.4M97.3 285.3l1.4 1.4m0-1.4l-1.4 1.4M322.6 280.8l1.4 1.4m0-1.4l-1.4 1.4M340.3 284.3l1.4 1.4m0-1.4l-1.4 1.4M343.8 282.3l1.4 1.4m0-1.4l-1.4 1.4"/>
<path fill="none" stroke="#bdbdbd" stroke-width="0.45" d="M563.7 281.7l1.4 1.4m0-1.4l-1.4 1.4M558.5 279.3l1.4 1.4m0-1.4l-1.4 1.4M561.2 278.2l1.4 1.4m0-1.4l-1.4 1.4M562.9 279.9l1.4 1.4m0-1.4l-1.4 1.4M555.4 269.6l1.4 1.4m0-1.4l-1.4 1.4M552.9 272.9l1.4 1.4m0-1.4l-1.4 1.4M561.4 275.6l1.4 1.4m0-1.4l-1.4 1.4M557.0 270.8l1.4 1.4m0-1.4l-1.4 1.4M555.4 268.5l1.4 1.4m0-1.4l-1.4 1.4M562.4 280.5l1.4 1.4m0-1.4l-1.4 1.4M556.8 271.5l1.4 1.4m0-1.4l-1.4 1.4M555.4 275.7l1.4 1.4m0-1.4l-1.4 1.4M557.1 273.6l1.4 1.4m0-1.4l-1.4 1.4M552.3 275.1l1.4 1.4m0-1.4l-1.4 1.4M556.6 276.0l1.4 1.4m0-1.4l-1.4 1.4M558.3 270.3l1.4 1.4m0-1.4l-1.4 1.4M552.8 274.6l1.4 1.4m0-1.4l-1.4 1.4M554.1 267.2l1.4 1.4m0-1.4l-1.4 1.4M588.2 275.1l1.4 1.4m0-1.4l-1.4 1.4M588.4 275.3l1.4 1.4m0-1.4l-1.4 1.4M581.4 282.3l1.4 1.4m0-1.4l-1.4 1.4M585.4 276.4l1.4 1.4m0-1.4l-1.4 1.4M583.0 277.2l1.4 1.4m0-1.4l-1.4 1.4M585.3 271.8l1.4 1.4m0-1.4l-1.4 1.4M587.0 277.0l1.4 1.4m0-1.4l-1.4 1.4"/>
</svg></body></html>
